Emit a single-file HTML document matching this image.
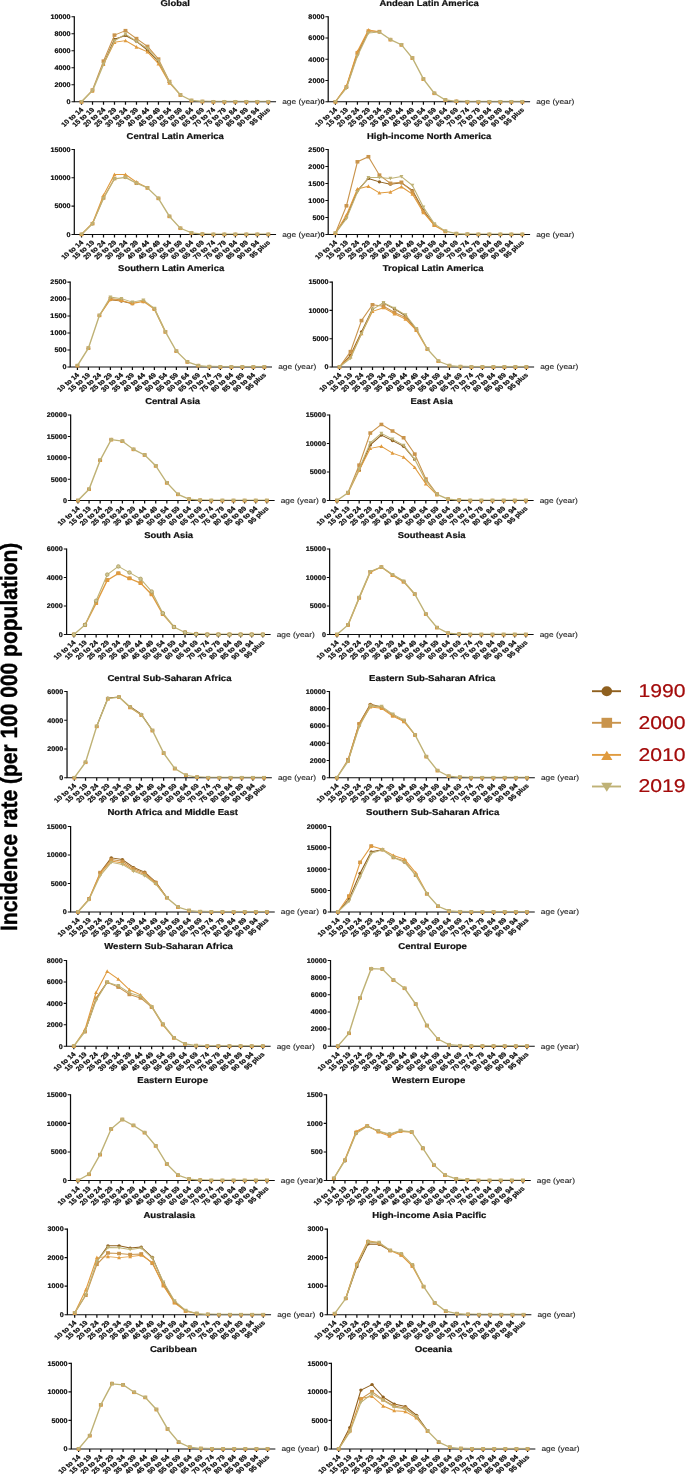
<!DOCTYPE html>
<html><head><meta charset="utf-8"><title>Incidence rate</title>
<style>html,body{margin:0;padding:0;background:#fff}svg{display:block;will-change:transform}text{font-family:"Liberation Sans",sans-serif;text-rendering:geometricPrecision}.b{font-weight:bold;stroke:#0d0d0d;stroke-width:.2px}</style></head><body>
<svg width="685" height="1474" viewBox="0 0 685 1474">
<g transform="translate(74.3 101.75) scale(1.17 1)">
<path d="M0 -85.53V0.53M-0.53 0H172.44" stroke="#0d0d0d" stroke-width="1.05" fill="none"/>
<text class="b" transform="translate(-3.2 2.35) scale(0.93 1)" font-size="6.65" text-anchor="end" fill="#0d0d0d">0</text>
<text class="b" transform="translate(-3.2 -14.65) scale(0.93 1)" font-size="6.65" text-anchor="end" fill="#0d0d0d">2000</text>
<text class="b" transform="translate(-3.2 -31.65) scale(0.93 1)" font-size="6.65" text-anchor="end" fill="#0d0d0d">4000</text>
<text class="b" transform="translate(-3.2 -48.65) scale(0.93 1)" font-size="6.65" text-anchor="end" fill="#0d0d0d">6000</text>
<text class="b" transform="translate(-3.2 -65.65) scale(0.93 1)" font-size="6.65" text-anchor="end" fill="#0d0d0d">8000</text>
<text class="b" transform="translate(-3.2 -82.65) scale(0.93 1)" font-size="6.65" text-anchor="end" fill="#0d0d0d">10000</text>
<text class="b" transform="translate(8.17 8.55) rotate(-45)" font-size="6.4" text-anchor="end" fill="#0d0d0d">10 to 14</text>
<text class="b" transform="translate(17.57 8.55) rotate(-45)" font-size="6.4" text-anchor="end" fill="#0d0d0d">15 to 19</text>
<text class="b" transform="translate(26.96 8.55) rotate(-45)" font-size="6.4" text-anchor="end" fill="#0d0d0d">20 to 24</text>
<text class="b" transform="translate(36.35 8.55) rotate(-45)" font-size="6.4" text-anchor="end" fill="#0d0d0d">25 to 29</text>
<text class="b" transform="translate(45.75 8.55) rotate(-45)" font-size="6.4" text-anchor="end" fill="#0d0d0d">30 to 34</text>
<text class="b" transform="translate(55.14 8.55) rotate(-45)" font-size="6.4" text-anchor="end" fill="#0d0d0d">35 to 39</text>
<text class="b" transform="translate(64.53 8.55) rotate(-45)" font-size="6.4" text-anchor="end" fill="#0d0d0d">40 to 44</text>
<text class="b" transform="translate(73.93 8.55) rotate(-45)" font-size="6.4" text-anchor="end" fill="#0d0d0d">45 to 49</text>
<text class="b" transform="translate(83.32 8.55) rotate(-45)" font-size="6.4" text-anchor="end" fill="#0d0d0d">50 to 54</text>
<text class="b" transform="translate(92.71 8.55) rotate(-45)" font-size="6.4" text-anchor="end" fill="#0d0d0d">55 to 59</text>
<text class="b" transform="translate(102.11 8.55) rotate(-45)" font-size="6.4" text-anchor="end" fill="#0d0d0d">60 to 64</text>
<text class="b" transform="translate(111.5 8.55) rotate(-45)" font-size="6.4" text-anchor="end" fill="#0d0d0d">65 to 69</text>
<text class="b" transform="translate(120.89 8.55) rotate(-45)" font-size="6.4" text-anchor="end" fill="#0d0d0d">70 to 74</text>
<text class="b" transform="translate(130.28 8.55) rotate(-45)" font-size="6.4" text-anchor="end" fill="#0d0d0d">75 to 79</text>
<text class="b" transform="translate(139.68 8.55) rotate(-45)" font-size="6.4" text-anchor="end" fill="#0d0d0d">80 to 84</text>
<text class="b" transform="translate(149.07 8.55) rotate(-45)" font-size="6.4" text-anchor="end" fill="#0d0d0d">85 to 89</text>
<text class="b" transform="translate(158.46 8.55) rotate(-45)" font-size="6.4" text-anchor="end" fill="#0d0d0d">90 to 94</text>
<text class="b" transform="translate(167.86 8.55) rotate(-45)" font-size="6.4" text-anchor="end" fill="#0d0d0d">95 plus</text>
<path d="M-2.4 0H0M-2.4 -17H0M-2.4 -34H0M-2.4 -51H0M-2.4 -68H0M-2.4 -85H0M6.17 0V3.1M15.57 0V3.1M24.96 0V3.1M34.35 0V3.1M43.75 0V3.1M53.14 0V3.1M62.53 0V3.1M71.93 0V3.1M81.32 0V3.1M90.71 0V3.1M100.11 0V3.1M109.5 0V3.1M118.89 0V3.1M128.28 0V3.1M137.68 0V3.1M147.07 0V3.1M156.46 0V3.1M165.86 0V3.1" stroke="#0d0d0d" stroke-width="1.05" fill="none"/>
<path fill="none" stroke="#8f601f" stroke-width="0.98" stroke-linejoin="round" stroke-linecap="round" d="M24.96 -37.83L34.35 -62.48L43.75 -66.22L53.14 -60.48L62.53 -51.68L71.93 -40.03L81.32 -19.55"/>
<ellipse cx="6.17" cy="-0" rx="1.45" ry="1.55" fill="#8f601f"/>
<ellipse cx="15.57" cy="-11.05" rx="1.45" ry="1.55" fill="#8f601f"/>
<ellipse cx="24.96" cy="-37.83" rx="1.45" ry="1.55" fill="#8f601f"/>
<ellipse cx="34.35" cy="-62.48" rx="1.45" ry="1.55" fill="#8f601f"/>
<ellipse cx="43.75" cy="-66.22" rx="1.45" ry="1.55" fill="#8f601f"/>
<ellipse cx="53.14" cy="-60.48" rx="1.45" ry="1.55" fill="#8f601f"/>
<ellipse cx="62.53" cy="-51.68" rx="1.45" ry="1.55" fill="#8f601f"/>
<ellipse cx="71.93" cy="-40.03" rx="1.45" ry="1.55" fill="#8f601f"/>
<ellipse cx="81.32" cy="-19.55" rx="1.45" ry="1.55" fill="#8f601f"/>
<ellipse cx="90.71" cy="-6.8" rx="1.45" ry="1.55" fill="#8f601f"/>
<ellipse cx="100.11" cy="-1.27" rx="1.45" ry="1.55" fill="#8f601f"/>
<ellipse cx="109.5" cy="-0.26" rx="1.45" ry="1.55" fill="#8f601f"/>
<ellipse cx="118.89" cy="-0" rx="1.45" ry="1.55" fill="#8f601f"/>
<ellipse cx="128.28" cy="-0" rx="1.45" ry="1.55" fill="#8f601f"/>
<ellipse cx="137.68" cy="-0" rx="1.45" ry="1.55" fill="#8f601f"/>
<ellipse cx="147.07" cy="-0" rx="1.45" ry="1.55" fill="#8f601f"/>
<ellipse cx="156.46" cy="-0" rx="1.45" ry="1.55" fill="#8f601f"/>
<ellipse cx="165.86" cy="-0" rx="1.45" ry="1.55" fill="#8f601f"/>
<path fill="none" stroke="#c9944c" stroke-width="0.98" stroke-linejoin="round" stroke-linecap="round" d="M6.17 -0L15.57 -11.73L24.96 -40.63L34.35 -66.64L43.75 -71.1L53.14 -63.16L62.53 -55.34L71.93 -42.67L81.32 -20.23"/>
<rect x="4.52" y="-1.75" width="3.3" height="3.5" fill="#c9944c"/>
<rect x="13.92" y="-13.48" width="3.3" height="3.5" fill="#c9944c"/>
<rect x="23.31" y="-42.38" width="3.3" height="3.5" fill="#c9944c"/>
<rect x="32.7" y="-68.39" width="3.3" height="3.5" fill="#c9944c"/>
<rect x="42.1" y="-72.85" width="3.3" height="3.5" fill="#c9944c"/>
<rect x="51.49" y="-64.91" width="3.3" height="3.5" fill="#c9944c"/>
<rect x="60.88" y="-57.09" width="3.3" height="3.5" fill="#c9944c"/>
<rect x="70.28" y="-44.42" width="3.3" height="3.5" fill="#c9944c"/>
<rect x="79.67" y="-21.98" width="3.3" height="3.5" fill="#c9944c"/>
<rect x="89.06" y="-8.55" width="3.3" height="3.5" fill="#c9944c"/>
<rect x="98.46" y="-3.02" width="3.3" height="3.5" fill="#c9944c"/>
<rect x="107.85" y="-2" width="3.3" height="3.5" fill="#c9944c"/>
<rect x="117.24" y="-1.75" width="3.3" height="3.5" fill="#c9944c"/>
<rect x="126.63" y="-1.75" width="3.3" height="3.5" fill="#c9944c"/>
<rect x="136.03" y="-1.75" width="3.3" height="3.5" fill="#c9944c"/>
<rect x="145.42" y="-1.75" width="3.3" height="3.5" fill="#c9944c"/>
<rect x="154.81" y="-1.75" width="3.3" height="3.5" fill="#c9944c"/>
<rect x="164.21" y="-1.75" width="3.3" height="3.5" fill="#c9944c"/>
<path fill="none" stroke="#e09b3f" stroke-width="0.98" stroke-linejoin="round" stroke-linecap="round" d="M24.96 -37.4L34.35 -59.5L43.75 -61.11L53.14 -54.74L62.53 -49.85L71.93 -37.99L81.32 -18.7L90.71 -6.8"/>
<path d="M4.52 1.65L7.82 1.65L6.17 -2Z" fill="#e09b3f"/>
<path d="M13.92 -8.97L17.22 -8.97L15.57 -12.62Z" fill="#e09b3f"/>
<path d="M23.31 -35.75L26.61 -35.75L24.96 -39.4Z" fill="#e09b3f"/>
<path d="M32.7 -57.85L36 -57.85L34.35 -61.5Z" fill="#e09b3f"/>
<path d="M42.1 -59.46L45.4 -59.46L43.75 -63.11Z" fill="#e09b3f"/>
<path d="M51.49 -53.09L54.79 -53.09L53.14 -56.74Z" fill="#e09b3f"/>
<path d="M60.88 -48.2L64.18 -48.2L62.53 -51.85Z" fill="#e09b3f"/>
<path d="M70.28 -36.34L73.58 -36.34L71.93 -39.99Z" fill="#e09b3f"/>
<path d="M79.67 -17.05L82.97 -17.05L81.32 -20.7Z" fill="#e09b3f"/>
<path d="M89.06 -5.15L92.36 -5.15L90.71 -8.8Z" fill="#e09b3f"/>
<path d="M98.46 0.38L101.76 0.38L100.11 -3.27Z" fill="#e09b3f"/>
<path d="M107.85 1.4L111.15 1.4L109.5 -2.25Z" fill="#e09b3f"/>
<path d="M117.24 1.65L120.54 1.65L118.89 -2Z" fill="#e09b3f"/>
<path d="M126.63 1.65L129.93 1.65L128.28 -2Z" fill="#e09b3f"/>
<path d="M136.03 1.65L139.33 1.65L137.68 -2Z" fill="#e09b3f"/>
<path d="M145.42 1.65L148.72 1.65L147.07 -2Z" fill="#e09b3f"/>
<path d="M154.81 1.65L158.11 1.65L156.46 -2Z" fill="#e09b3f"/>
<path d="M164.21 1.65L167.51 1.65L165.86 -2Z" fill="#e09b3f"/>
<path fill="none" stroke="#bfb276" stroke-width="0.75" stroke-linejoin="round" stroke-linecap="round" d="M109.5 -0.76L118.89 -0.5L128.28 -0.5L137.68 -0.5L147.07 -0.5L156.46 -0.5L165.86 -0.5"/>
<path fill="none" stroke="#bfb276" stroke-width="0.98" stroke-linejoin="round" stroke-linecap="round" d="M24.96 -37.57L34.35 -60.86L43.75 -67.58L53.14 -60.35L62.53 -53.3L71.93 -41.05L81.32 -19.8"/>
<path fill="none" stroke="#bfb276" stroke-width="1.25" stroke-linejoin="round" stroke-linecap="round" d="M6.17 -0L15.57 -11.05L24.96 -37.57M81.32 -19.8L90.71 -6.8L100.11 -1.27L109.5 -0.26"/>
<path d="M4.52 -1.65L7.82 -1.65L6.17 2Z" fill="#bfb276"/>
<path d="M13.92 -12.7L17.22 -12.7L15.57 -9.05Z" fill="#bfb276"/>
<path d="M23.31 -39.22L26.61 -39.22L24.96 -35.57Z" fill="#bfb276"/>
<path d="M32.7 -62.51L36 -62.51L34.35 -58.86Z" fill="#bfb276"/>
<path d="M42.1 -69.23L45.4 -69.23L43.75 -65.58Z" fill="#bfb276"/>
<path d="M51.49 -62L54.79 -62L53.14 -58.35Z" fill="#bfb276"/>
<path d="M60.88 -54.95L64.18 -54.95L62.53 -51.3Z" fill="#bfb276"/>
<path d="M70.28 -42.7L73.58 -42.7L71.93 -39.05Z" fill="#bfb276"/>
<path d="M79.67 -21.45L82.97 -21.45L81.32 -17.8Z" fill="#bfb276"/>
<path d="M89.06 -8.45L92.36 -8.45L90.71 -4.8Z" fill="#bfb276"/>
<path d="M98.46 -2.92L101.76 -2.92L100.11 0.73Z" fill="#bfb276"/>
<path d="M107.85 -1.9L111.15 -1.9L109.5 1.75Z" fill="#bfb276"/>
<path d="M117.24 -1.65L120.54 -1.65L118.89 2Z" fill="#bfb276"/>
<path d="M126.63 -1.65L129.93 -1.65L128.28 2Z" fill="#bfb276"/>
<path d="M136.03 -1.65L139.33 -1.65L137.68 2Z" fill="#bfb276"/>
<path d="M145.42 -1.65L148.72 -1.65L147.07 2Z" fill="#bfb276"/>
<path d="M154.81 -1.65L158.11 -1.65L156.46 2Z" fill="#bfb276"/>
<path d="M164.21 -1.65L167.51 -1.65L165.86 2Z" fill="#bfb276"/>
<text class="b" transform="translate(86.22 -95.7) scale(0.952 1)" font-size="8.48" text-anchor="middle" fill="#111">Global</text>
<text x="177.66" y="2.4" font-size="7.15" fill="#1f1f1f" stroke="#1f1f1f" stroke-width="0.12">age (year)</text>
</g>
<g transform="translate(328.2 101.75) scale(1.17 1)">
<path d="M0 -85.53V0.53M-0.53 0H172.56" stroke="#0d0d0d" stroke-width="1.05" fill="none"/>
<text class="b" transform="translate(-3.2 2.35) scale(0.93 1)" font-size="6.65" text-anchor="end" fill="#0d0d0d">0</text>
<text class="b" transform="translate(-3.2 -18.9) scale(0.93 1)" font-size="6.65" text-anchor="end" fill="#0d0d0d">2000</text>
<text class="b" transform="translate(-3.2 -40.15) scale(0.93 1)" font-size="6.65" text-anchor="end" fill="#0d0d0d">4000</text>
<text class="b" transform="translate(-3.2 -61.4) scale(0.93 1)" font-size="6.65" text-anchor="end" fill="#0d0d0d">6000</text>
<text class="b" transform="translate(-3.2 -82.65) scale(0.93 1)" font-size="6.65" text-anchor="end" fill="#0d0d0d">8000</text>
<text class="b" transform="translate(8.18 8.55) rotate(-45)" font-size="6.4" text-anchor="end" fill="#0d0d0d">10 to 14</text>
<text class="b" transform="translate(17.58 8.55) rotate(-45)" font-size="6.4" text-anchor="end" fill="#0d0d0d">15 to 19</text>
<text class="b" transform="translate(26.98 8.55) rotate(-45)" font-size="6.4" text-anchor="end" fill="#0d0d0d">20 to 24</text>
<text class="b" transform="translate(36.38 8.55) rotate(-45)" font-size="6.4" text-anchor="end" fill="#0d0d0d">25 to 29</text>
<text class="b" transform="translate(45.78 8.55) rotate(-45)" font-size="6.4" text-anchor="end" fill="#0d0d0d">30 to 34</text>
<text class="b" transform="translate(55.18 8.55) rotate(-45)" font-size="6.4" text-anchor="end" fill="#0d0d0d">35 to 39</text>
<text class="b" transform="translate(64.58 8.55) rotate(-45)" font-size="6.4" text-anchor="end" fill="#0d0d0d">40 to 44</text>
<text class="b" transform="translate(73.98 8.55) rotate(-45)" font-size="6.4" text-anchor="end" fill="#0d0d0d">45 to 49</text>
<text class="b" transform="translate(83.38 8.55) rotate(-45)" font-size="6.4" text-anchor="end" fill="#0d0d0d">50 to 54</text>
<text class="b" transform="translate(92.77 8.55) rotate(-45)" font-size="6.4" text-anchor="end" fill="#0d0d0d">55 to 59</text>
<text class="b" transform="translate(102.17 8.55) rotate(-45)" font-size="6.4" text-anchor="end" fill="#0d0d0d">60 to 64</text>
<text class="b" transform="translate(111.57 8.55) rotate(-45)" font-size="6.4" text-anchor="end" fill="#0d0d0d">65 to 69</text>
<text class="b" transform="translate(120.97 8.55) rotate(-45)" font-size="6.4" text-anchor="end" fill="#0d0d0d">70 to 74</text>
<text class="b" transform="translate(130.37 8.55) rotate(-45)" font-size="6.4" text-anchor="end" fill="#0d0d0d">75 to 79</text>
<text class="b" transform="translate(139.77 8.55) rotate(-45)" font-size="6.4" text-anchor="end" fill="#0d0d0d">80 to 84</text>
<text class="b" transform="translate(149.17 8.55) rotate(-45)" font-size="6.4" text-anchor="end" fill="#0d0d0d">85 to 89</text>
<text class="b" transform="translate(158.57 8.55) rotate(-45)" font-size="6.4" text-anchor="end" fill="#0d0d0d">90 to 94</text>
<text class="b" transform="translate(167.97 8.55) rotate(-45)" font-size="6.4" text-anchor="end" fill="#0d0d0d">95 plus</text>
<path d="M-2.4 0H0M-2.4 -21.25H0M-2.4 -42.5H0M-2.4 -63.75H0M-2.4 -85H0M6.18 0V3.1M15.58 0V3.1M24.98 0V3.1M34.38 0V3.1M43.78 0V3.1M53.18 0V3.1M62.58 0V3.1M71.98 0V3.1M81.38 0V3.1M90.77 0V3.1M100.17 0V3.1M109.57 0V3.1M118.97 0V3.1M128.37 0V3.1M137.77 0V3.1M147.17 0V3.1M156.57 0V3.1M165.97 0V3.1" stroke="#0d0d0d" stroke-width="1.05" fill="none"/>
<path fill="none" stroke="#8f601f" stroke-width="0.98" stroke-linejoin="round" stroke-linecap="round" d="M15.58 -14.34L24.98 -47.81L34.38 -70.12"/>
<ellipse cx="6.18" cy="-0" rx="1.45" ry="1.55" fill="#8f601f"/>
<ellipse cx="15.58" cy="-14.34" rx="1.45" ry="1.55" fill="#8f601f"/>
<ellipse cx="24.98" cy="-47.81" rx="1.45" ry="1.55" fill="#8f601f"/>
<ellipse cx="34.38" cy="-70.12" rx="1.45" ry="1.55" fill="#8f601f"/>
<ellipse cx="43.78" cy="-69.7" rx="1.45" ry="1.55" fill="#8f601f"/>
<ellipse cx="53.18" cy="-62.16" rx="1.45" ry="1.55" fill="#8f601f"/>
<ellipse cx="62.58" cy="-57" rx="1.45" ry="1.55" fill="#8f601f"/>
<ellipse cx="71.98" cy="-43.72" rx="1.45" ry="1.55" fill="#8f601f"/>
<ellipse cx="81.38" cy="-22.68" rx="1.45" ry="1.55" fill="#8f601f"/>
<ellipse cx="90.77" cy="-8.39" rx="1.45" ry="1.55" fill="#8f601f"/>
<ellipse cx="100.17" cy="-1.81" rx="1.45" ry="1.55" fill="#8f601f"/>
<ellipse cx="109.57" cy="-0.42" rx="1.45" ry="1.55" fill="#8f601f"/>
<ellipse cx="118.97" cy="-0" rx="1.45" ry="1.55" fill="#8f601f"/>
<ellipse cx="128.37" cy="-0" rx="1.45" ry="1.55" fill="#8f601f"/>
<ellipse cx="137.77" cy="-0" rx="1.45" ry="1.55" fill="#8f601f"/>
<ellipse cx="147.17" cy="-0" rx="1.45" ry="1.55" fill="#8f601f"/>
<ellipse cx="156.57" cy="-0" rx="1.45" ry="1.55" fill="#8f601f"/>
<ellipse cx="165.97" cy="-0" rx="1.45" ry="1.55" fill="#8f601f"/>
<path fill="none" stroke="#c9944c" stroke-width="0.98" stroke-linejoin="round" stroke-linecap="round" d="M6.18 -0L15.58 -14.87L24.98 -48.87L34.38 -70.66L43.78 -70.12"/>
<rect x="4.53" y="-1.75" width="3.3" height="3.5" fill="#c9944c"/>
<rect x="13.93" y="-16.62" width="3.3" height="3.5" fill="#c9944c"/>
<rect x="23.33" y="-50.62" width="3.3" height="3.5" fill="#c9944c"/>
<rect x="32.73" y="-72.41" width="3.3" height="3.5" fill="#c9944c"/>
<rect x="42.13" y="-71.88" width="3.3" height="3.5" fill="#c9944c"/>
<rect x="51.53" y="-63.91" width="3.3" height="3.5" fill="#c9944c"/>
<rect x="60.93" y="-58.75" width="3.3" height="3.5" fill="#c9944c"/>
<rect x="70.33" y="-45.47" width="3.3" height="3.5" fill="#c9944c"/>
<rect x="79.73" y="-24.43" width="3.3" height="3.5" fill="#c9944c"/>
<rect x="89.12" y="-10.14" width="3.3" height="3.5" fill="#c9944c"/>
<rect x="98.52" y="-3.56" width="3.3" height="3.5" fill="#c9944c"/>
<rect x="107.92" y="-2.17" width="3.3" height="3.5" fill="#c9944c"/>
<rect x="117.32" y="-1.75" width="3.3" height="3.5" fill="#c9944c"/>
<rect x="126.72" y="-1.75" width="3.3" height="3.5" fill="#c9944c"/>
<rect x="136.12" y="-1.75" width="3.3" height="3.5" fill="#c9944c"/>
<rect x="145.52" y="-1.75" width="3.3" height="3.5" fill="#c9944c"/>
<rect x="154.92" y="-1.75" width="3.3" height="3.5" fill="#c9944c"/>
<rect x="164.32" y="-1.75" width="3.3" height="3.5" fill="#c9944c"/>
<path fill="none" stroke="#e09b3f" stroke-width="0.98" stroke-linejoin="round" stroke-linecap="round" d="M6.18 -0L15.58 -15.51L24.98 -50.26L34.38 -71.72L43.78 -70.12"/>
<path d="M4.53 1.65L7.83 1.65L6.18 -2Z" fill="#e09b3f"/>
<path d="M13.93 -13.86L17.23 -13.86L15.58 -17.51Z" fill="#e09b3f"/>
<path d="M23.33 -48.61L26.63 -48.61L24.98 -52.26Z" fill="#e09b3f"/>
<path d="M32.73 -70.07L36.03 -70.07L34.38 -73.72Z" fill="#e09b3f"/>
<path d="M42.13 -68.47L45.43 -68.47L43.78 -72.12Z" fill="#e09b3f"/>
<path d="M51.53 -60.51L54.83 -60.51L53.18 -64.16Z" fill="#e09b3f"/>
<path d="M60.93 -55.35L64.23 -55.35L62.58 -59Z" fill="#e09b3f"/>
<path d="M70.33 -42.07L73.63 -42.07L71.98 -45.72Z" fill="#e09b3f"/>
<path d="M79.73 -21.03L83.03 -21.03L81.38 -24.68Z" fill="#e09b3f"/>
<path d="M89.12 -6.74L92.42 -6.74L90.77 -10.39Z" fill="#e09b3f"/>
<path d="M98.52 -0.16L101.82 -0.16L100.17 -3.81Z" fill="#e09b3f"/>
<path d="M107.92 1.22L111.22 1.22L109.57 -2.42Z" fill="#e09b3f"/>
<path d="M117.32 1.65L120.62 1.65L118.97 -2Z" fill="#e09b3f"/>
<path d="M126.72 1.65L130.02 1.65L128.37 -2Z" fill="#e09b3f"/>
<path d="M136.12 1.65L139.42 1.65L137.77 -2Z" fill="#e09b3f"/>
<path d="M145.52 1.65L148.82 1.65L147.17 -2Z" fill="#e09b3f"/>
<path d="M154.92 1.65L158.22 1.65L156.57 -2Z" fill="#e09b3f"/>
<path d="M164.32 1.65L167.62 1.65L165.97 -2Z" fill="#e09b3f"/>
<path fill="none" stroke="#bfb276" stroke-width="0.75" stroke-linejoin="round" stroke-linecap="round" d="M109.57 -0.93L118.97 -0.5L128.37 -0.5L137.77 -0.5L147.17 -0.5L156.57 -0.5L165.97 -0.5"/>
<path fill="none" stroke="#bfb276" stroke-width="0.98" stroke-linejoin="round" stroke-linecap="round" d="M6.18 -0L15.58 -13.49L24.98 -45.69L34.38 -68.64L43.78 -69.7"/>
<path fill="none" stroke="#bfb276" stroke-width="1.25" stroke-linejoin="round" stroke-linecap="round" d="M43.78 -69.7L53.18 -62.16L62.58 -57L71.98 -43.72L81.38 -22.68L90.77 -8.39L100.17 -1.81L109.57 -0.42"/>
<path d="M4.53 -1.65L7.83 -1.65L6.18 2Z" fill="#bfb276"/>
<path d="M13.93 -15.14L17.23 -15.14L15.58 -11.49Z" fill="#bfb276"/>
<path d="M23.33 -47.34L26.63 -47.34L24.98 -43.69Z" fill="#bfb276"/>
<path d="M32.73 -70.29L36.03 -70.29L34.38 -66.64Z" fill="#bfb276"/>
<path d="M42.13 -71.35L45.43 -71.35L43.78 -67.7Z" fill="#bfb276"/>
<path d="M51.53 -63.81L54.83 -63.81L53.18 -60.16Z" fill="#bfb276"/>
<path d="M60.93 -58.65L64.23 -58.65L62.58 -55Z" fill="#bfb276"/>
<path d="M70.33 -45.37L73.63 -45.37L71.98 -41.72Z" fill="#bfb276"/>
<path d="M79.73 -24.33L83.03 -24.33L81.38 -20.68Z" fill="#bfb276"/>
<path d="M89.12 -10.04L92.42 -10.04L90.77 -6.39Z" fill="#bfb276"/>
<path d="M98.52 -3.46L101.82 -3.46L100.17 0.19Z" fill="#bfb276"/>
<path d="M107.92 -2.07L111.22 -2.07L109.57 1.57Z" fill="#bfb276"/>
<path d="M117.32 -1.65L120.62 -1.65L118.97 2Z" fill="#bfb276"/>
<path d="M126.72 -1.65L130.02 -1.65L128.37 2Z" fill="#bfb276"/>
<path d="M136.12 -1.65L139.42 -1.65L137.77 2Z" fill="#bfb276"/>
<path d="M145.52 -1.65L148.82 -1.65L147.17 2Z" fill="#bfb276"/>
<path d="M154.92 -1.65L158.22 -1.65L156.57 2Z" fill="#bfb276"/>
<path d="M164.32 -1.65L167.62 -1.65L165.97 2Z" fill="#bfb276"/>
<text class="b" transform="translate(86.28 -95.7) scale(0.952 1)" font-size="8.48" text-anchor="middle" fill="#111">Andean Latin America</text>
<text x="177.78" y="2.4" font-size="7.15" fill="#1f1f1f" stroke="#1f1f1f" stroke-width="0.12">age (year)</text>
</g>
<g transform="translate(74.3 234.4) scale(1.17 1)">
<path d="M0 -85.38V0.53M-0.53 0H172.44" stroke="#0d0d0d" stroke-width="1.05" fill="none"/>
<text class="b" transform="translate(-3.2 2.35) scale(0.93 1)" font-size="6.65" text-anchor="end" fill="#0d0d0d">0</text>
<text class="b" transform="translate(-3.2 -25.93) scale(0.93 1)" font-size="6.65" text-anchor="end" fill="#0d0d0d">5000</text>
<text class="b" transform="translate(-3.2 -54.22) scale(0.93 1)" font-size="6.65" text-anchor="end" fill="#0d0d0d">10000</text>
<text class="b" transform="translate(-3.2 -82.5) scale(0.93 1)" font-size="6.65" text-anchor="end" fill="#0d0d0d">15000</text>
<text class="b" transform="translate(8.17 8.55) rotate(-45)" font-size="6.4" text-anchor="end" fill="#0d0d0d">10 to 14</text>
<text class="b" transform="translate(17.57 8.55) rotate(-45)" font-size="6.4" text-anchor="end" fill="#0d0d0d">15 to 19</text>
<text class="b" transform="translate(26.96 8.55) rotate(-45)" font-size="6.4" text-anchor="end" fill="#0d0d0d">20 to 24</text>
<text class="b" transform="translate(36.35 8.55) rotate(-45)" font-size="6.4" text-anchor="end" fill="#0d0d0d">25 to 29</text>
<text class="b" transform="translate(45.75 8.55) rotate(-45)" font-size="6.4" text-anchor="end" fill="#0d0d0d">30 to 34</text>
<text class="b" transform="translate(55.14 8.55) rotate(-45)" font-size="6.4" text-anchor="end" fill="#0d0d0d">35 to 39</text>
<text class="b" transform="translate(64.53 8.55) rotate(-45)" font-size="6.4" text-anchor="end" fill="#0d0d0d">40 to 44</text>
<text class="b" transform="translate(73.93 8.55) rotate(-45)" font-size="6.4" text-anchor="end" fill="#0d0d0d">45 to 49</text>
<text class="b" transform="translate(83.32 8.55) rotate(-45)" font-size="6.4" text-anchor="end" fill="#0d0d0d">50 to 54</text>
<text class="b" transform="translate(92.71 8.55) rotate(-45)" font-size="6.4" text-anchor="end" fill="#0d0d0d">55 to 59</text>
<text class="b" transform="translate(102.11 8.55) rotate(-45)" font-size="6.4" text-anchor="end" fill="#0d0d0d">60 to 64</text>
<text class="b" transform="translate(111.5 8.55) rotate(-45)" font-size="6.4" text-anchor="end" fill="#0d0d0d">65 to 69</text>
<text class="b" transform="translate(120.89 8.55) rotate(-45)" font-size="6.4" text-anchor="end" fill="#0d0d0d">70 to 74</text>
<text class="b" transform="translate(130.28 8.55) rotate(-45)" font-size="6.4" text-anchor="end" fill="#0d0d0d">75 to 79</text>
<text class="b" transform="translate(139.68 8.55) rotate(-45)" font-size="6.4" text-anchor="end" fill="#0d0d0d">80 to 84</text>
<text class="b" transform="translate(149.07 8.55) rotate(-45)" font-size="6.4" text-anchor="end" fill="#0d0d0d">85 to 89</text>
<text class="b" transform="translate(158.46 8.55) rotate(-45)" font-size="6.4" text-anchor="end" fill="#0d0d0d">90 to 94</text>
<text class="b" transform="translate(167.86 8.55) rotate(-45)" font-size="6.4" text-anchor="end" fill="#0d0d0d">95 plus</text>
<path d="M-2.4 0H0M-2.4 -28.28H0M-2.4 -56.57H0M-2.4 -84.85H0M6.17 0V3.1M15.57 0V3.1M24.96 0V3.1M34.35 0V3.1M43.75 0V3.1M53.14 0V3.1M62.53 0V3.1M71.93 0V3.1M81.32 0V3.1M90.71 0V3.1M100.11 0V3.1M109.5 0V3.1M118.89 0V3.1M128.28 0V3.1M137.68 0V3.1M147.07 0V3.1M156.46 0V3.1M165.86 0V3.1" stroke="#0d0d0d" stroke-width="1.05" fill="none"/>
<ellipse cx="6.17" cy="-0" rx="1.45" ry="1.55" fill="#8f601f"/>
<ellipse cx="15.57" cy="-10.75" rx="1.45" ry="1.55" fill="#8f601f"/>
<ellipse cx="24.96" cy="-36.49" rx="1.45" ry="1.55" fill="#8f601f"/>
<ellipse cx="34.35" cy="-56" rx="1.45" ry="1.55" fill="#8f601f"/>
<ellipse cx="43.75" cy="-57.42" rx="1.45" ry="1.55" fill="#8f601f"/>
<ellipse cx="53.14" cy="-51.36" rx="1.45" ry="1.55" fill="#8f601f"/>
<ellipse cx="62.53" cy="-46.61" rx="1.45" ry="1.55" fill="#8f601f"/>
<ellipse cx="71.93" cy="-35.98" rx="1.45" ry="1.55" fill="#8f601f"/>
<ellipse cx="81.32" cy="-17.99" rx="1.45" ry="1.55" fill="#8f601f"/>
<ellipse cx="90.71" cy="-6.11" rx="1.45" ry="1.55" fill="#8f601f"/>
<ellipse cx="100.11" cy="-1.64" rx="1.45" ry="1.55" fill="#8f601f"/>
<ellipse cx="109.5" cy="-0.28" rx="1.45" ry="1.55" fill="#8f601f"/>
<ellipse cx="118.89" cy="-0" rx="1.45" ry="1.55" fill="#8f601f"/>
<ellipse cx="128.28" cy="-0" rx="1.45" ry="1.55" fill="#8f601f"/>
<ellipse cx="137.68" cy="-0" rx="1.45" ry="1.55" fill="#8f601f"/>
<ellipse cx="147.07" cy="-0" rx="1.45" ry="1.55" fill="#8f601f"/>
<ellipse cx="156.46" cy="-0" rx="1.45" ry="1.55" fill="#8f601f"/>
<ellipse cx="165.86" cy="-0" rx="1.45" ry="1.55" fill="#8f601f"/>
<path fill="none" stroke="#c9944c" stroke-width="0.98" stroke-linejoin="round" stroke-linecap="round" d="M15.57 -10.75L24.96 -36.49L34.35 -55.83"/>
<rect x="4.52" y="-1.75" width="3.3" height="3.5" fill="#c9944c"/>
<rect x="13.92" y="-12.5" width="3.3" height="3.5" fill="#c9944c"/>
<rect x="23.31" y="-38.24" width="3.3" height="3.5" fill="#c9944c"/>
<rect x="32.7" y="-57.58" width="3.3" height="3.5" fill="#c9944c"/>
<rect x="42.1" y="-59" width="3.3" height="3.5" fill="#c9944c"/>
<rect x="51.49" y="-52.89" width="3.3" height="3.5" fill="#c9944c"/>
<rect x="60.88" y="-48.36" width="3.3" height="3.5" fill="#c9944c"/>
<rect x="70.28" y="-37.73" width="3.3" height="3.5" fill="#c9944c"/>
<rect x="79.67" y="-19.74" width="3.3" height="3.5" fill="#c9944c"/>
<rect x="89.06" y="-7.86" width="3.3" height="3.5" fill="#c9944c"/>
<rect x="98.46" y="-3.39" width="3.3" height="3.5" fill="#c9944c"/>
<rect x="107.85" y="-2.03" width="3.3" height="3.5" fill="#c9944c"/>
<rect x="117.24" y="-1.75" width="3.3" height="3.5" fill="#c9944c"/>
<rect x="126.63" y="-1.75" width="3.3" height="3.5" fill="#c9944c"/>
<rect x="136.03" y="-1.75" width="3.3" height="3.5" fill="#c9944c"/>
<rect x="145.42" y="-1.75" width="3.3" height="3.5" fill="#c9944c"/>
<rect x="154.81" y="-1.75" width="3.3" height="3.5" fill="#c9944c"/>
<rect x="164.21" y="-1.75" width="3.3" height="3.5" fill="#c9944c"/>
<path fill="none" stroke="#e09b3f" stroke-width="0.98" stroke-linejoin="round" stroke-linecap="round" d="M15.57 -11.31L24.96 -39.26L34.35 -59.9L43.75 -59.9L53.14 -52.32L62.53 -46.61"/>
<path fill="none" stroke="#e09b3f" stroke-width="1.25" stroke-linejoin="round" stroke-linecap="round" d="M6.17 -0L15.57 -11.31"/>
<path d="M4.52 1.65L7.82 1.65L6.17 -2Z" fill="#e09b3f"/>
<path d="M13.92 -9.66L17.22 -9.66L15.57 -13.31Z" fill="#e09b3f"/>
<path d="M23.31 -37.61L26.61 -37.61L24.96 -41.26Z" fill="#e09b3f"/>
<path d="M32.7 -58.25L36 -58.25L34.35 -61.9Z" fill="#e09b3f"/>
<path d="M42.1 -58.25L45.4 -58.25L43.75 -61.9Z" fill="#e09b3f"/>
<path d="M51.49 -50.67L54.79 -50.67L53.14 -54.32Z" fill="#e09b3f"/>
<path d="M60.88 -44.96L64.18 -44.96L62.53 -48.61Z" fill="#e09b3f"/>
<path d="M70.28 -34.33L73.58 -34.33L71.93 -37.98Z" fill="#e09b3f"/>
<path d="M79.67 -16.34L82.97 -16.34L81.32 -19.99Z" fill="#e09b3f"/>
<path d="M89.06 -4.46L92.36 -4.46L90.71 -8.11Z" fill="#e09b3f"/>
<path d="M98.46 0.01L101.76 0.01L100.11 -3.64Z" fill="#e09b3f"/>
<path d="M107.85 1.37L111.15 1.37L109.5 -2.28Z" fill="#e09b3f"/>
<path d="M117.24 1.65L120.54 1.65L118.89 -2Z" fill="#e09b3f"/>
<path d="M126.63 1.65L129.93 1.65L128.28 -2Z" fill="#e09b3f"/>
<path d="M136.03 1.65L139.33 1.65L137.68 -2Z" fill="#e09b3f"/>
<path d="M145.42 1.65L148.72 1.65L147.07 -2Z" fill="#e09b3f"/>
<path d="M154.81 1.65L158.11 1.65L156.46 -2Z" fill="#e09b3f"/>
<path d="M164.21 1.65L167.51 1.65L165.86 -2Z" fill="#e09b3f"/>
<path fill="none" stroke="#bfb276" stroke-width="0.75" stroke-linejoin="round" stroke-linecap="round" d="M109.5 -0.78L118.89 -0.5L128.28 -0.5L137.68 -0.5L147.07 -0.5L156.46 -0.5L165.86 -0.5"/>
<path fill="none" stroke="#bfb276" stroke-width="0.98" stroke-linejoin="round" stroke-linecap="round" d="M15.57 -10.46L24.96 -35.92L34.35 -55.44"/>
<path fill="none" stroke="#bfb276" stroke-width="1.25" stroke-linejoin="round" stroke-linecap="round" d="M6.17 -0L15.57 -10.46M34.35 -55.44L43.75 -57.02L53.14 -51.14L62.53 -46.61L71.93 -35.98L81.32 -17.99L90.71 -6.11L100.11 -1.64L109.5 -0.28"/>
<path d="M4.52 -1.65L7.82 -1.65L6.17 2Z" fill="#bfb276"/>
<path d="M13.92 -12.11L17.22 -12.11L15.57 -8.46Z" fill="#bfb276"/>
<path d="M23.31 -37.57L26.61 -37.57L24.96 -33.92Z" fill="#bfb276"/>
<path d="M32.7 -57.09L36 -57.09L34.35 -53.44Z" fill="#bfb276"/>
<path d="M42.1 -58.67L45.4 -58.67L43.75 -55.02Z" fill="#bfb276"/>
<path d="M51.49 -52.79L54.79 -52.79L53.14 -49.14Z" fill="#bfb276"/>
<path d="M60.88 -48.26L64.18 -48.26L62.53 -44.61Z" fill="#bfb276"/>
<path d="M70.28 -37.63L73.58 -37.63L71.93 -33.98Z" fill="#bfb276"/>
<path d="M79.67 -19.64L82.97 -19.64L81.32 -15.99Z" fill="#bfb276"/>
<path d="M89.06 -7.76L92.36 -7.76L90.71 -4.11Z" fill="#bfb276"/>
<path d="M98.46 -3.29L101.76 -3.29L100.11 0.36Z" fill="#bfb276"/>
<path d="M107.85 -1.93L111.15 -1.93L109.5 1.72Z" fill="#bfb276"/>
<path d="M117.24 -1.65L120.54 -1.65L118.89 2Z" fill="#bfb276"/>
<path d="M126.63 -1.65L129.93 -1.65L128.28 2Z" fill="#bfb276"/>
<path d="M136.03 -1.65L139.33 -1.65L137.68 2Z" fill="#bfb276"/>
<path d="M145.42 -1.65L148.72 -1.65L147.07 2Z" fill="#bfb276"/>
<path d="M154.81 -1.65L158.11 -1.65L156.46 2Z" fill="#bfb276"/>
<path d="M164.21 -1.65L167.51 -1.65L165.86 2Z" fill="#bfb276"/>
<text class="b" transform="translate(86.22 -95.55) scale(0.952 1)" font-size="8.48" text-anchor="middle" fill="#111">Central Latin America</text>
<text x="177.66" y="2.4" font-size="7.15" fill="#1f1f1f" stroke="#1f1f1f" stroke-width="0.12">age (year)</text>
</g>
<g transform="translate(328.2 234.4) scale(1.17 1)">
<path d="M0 -85.38V0.53M-0.53 0H172.56" stroke="#0d0d0d" stroke-width="1.05" fill="none"/>
<text class="b" transform="translate(-3.2 2.35) scale(0.93 1)" font-size="6.65" text-anchor="end" fill="#0d0d0d">0</text>
<text class="b" transform="translate(-3.2 -14.62) scale(0.93 1)" font-size="6.65" text-anchor="end" fill="#0d0d0d">500</text>
<text class="b" transform="translate(-3.2 -31.59) scale(0.93 1)" font-size="6.65" text-anchor="end" fill="#0d0d0d">1000</text>
<text class="b" transform="translate(-3.2 -48.56) scale(0.93 1)" font-size="6.65" text-anchor="end" fill="#0d0d0d">1500</text>
<text class="b" transform="translate(-3.2 -65.53) scale(0.93 1)" font-size="6.65" text-anchor="end" fill="#0d0d0d">2000</text>
<text class="b" transform="translate(-3.2 -82.5) scale(0.93 1)" font-size="6.65" text-anchor="end" fill="#0d0d0d">2500</text>
<text class="b" transform="translate(8.18 8.55) rotate(-45)" font-size="6.4" text-anchor="end" fill="#0d0d0d">10 to 14</text>
<text class="b" transform="translate(17.58 8.55) rotate(-45)" font-size="6.4" text-anchor="end" fill="#0d0d0d">15 to 19</text>
<text class="b" transform="translate(26.98 8.55) rotate(-45)" font-size="6.4" text-anchor="end" fill="#0d0d0d">20 to 24</text>
<text class="b" transform="translate(36.38 8.55) rotate(-45)" font-size="6.4" text-anchor="end" fill="#0d0d0d">25 to 29</text>
<text class="b" transform="translate(45.78 8.55) rotate(-45)" font-size="6.4" text-anchor="end" fill="#0d0d0d">30 to 34</text>
<text class="b" transform="translate(55.18 8.55) rotate(-45)" font-size="6.4" text-anchor="end" fill="#0d0d0d">35 to 39</text>
<text class="b" transform="translate(64.58 8.55) rotate(-45)" font-size="6.4" text-anchor="end" fill="#0d0d0d">40 to 44</text>
<text class="b" transform="translate(73.98 8.55) rotate(-45)" font-size="6.4" text-anchor="end" fill="#0d0d0d">45 to 49</text>
<text class="b" transform="translate(83.38 8.55) rotate(-45)" font-size="6.4" text-anchor="end" fill="#0d0d0d">50 to 54</text>
<text class="b" transform="translate(92.77 8.55) rotate(-45)" font-size="6.4" text-anchor="end" fill="#0d0d0d">55 to 59</text>
<text class="b" transform="translate(102.17 8.55) rotate(-45)" font-size="6.4" text-anchor="end" fill="#0d0d0d">60 to 64</text>
<text class="b" transform="translate(111.57 8.55) rotate(-45)" font-size="6.4" text-anchor="end" fill="#0d0d0d">65 to 69</text>
<text class="b" transform="translate(120.97 8.55) rotate(-45)" font-size="6.4" text-anchor="end" fill="#0d0d0d">70 to 74</text>
<text class="b" transform="translate(130.37 8.55) rotate(-45)" font-size="6.4" text-anchor="end" fill="#0d0d0d">75 to 79</text>
<text class="b" transform="translate(139.77 8.55) rotate(-45)" font-size="6.4" text-anchor="end" fill="#0d0d0d">80 to 84</text>
<text class="b" transform="translate(149.17 8.55) rotate(-45)" font-size="6.4" text-anchor="end" fill="#0d0d0d">85 to 89</text>
<text class="b" transform="translate(158.57 8.55) rotate(-45)" font-size="6.4" text-anchor="end" fill="#0d0d0d">90 to 94</text>
<text class="b" transform="translate(167.97 8.55) rotate(-45)" font-size="6.4" text-anchor="end" fill="#0d0d0d">95 plus</text>
<path d="M-2.4 0H0M-2.4 -16.97H0M-2.4 -33.94H0M-2.4 -50.91H0M-2.4 -67.88H0M-2.4 -84.85H0M6.18 0V3.1M15.58 0V3.1M24.98 0V3.1M34.38 0V3.1M43.78 0V3.1M53.18 0V3.1M62.58 0V3.1M71.98 0V3.1M81.38 0V3.1M90.77 0V3.1M100.17 0V3.1M109.57 0V3.1M118.97 0V3.1M128.37 0V3.1M137.77 0V3.1M147.17 0V3.1M156.57 0V3.1M165.97 0V3.1" stroke="#0d0d0d" stroke-width="1.05" fill="none"/>
<path fill="none" stroke="#8f601f" stroke-width="0.98" stroke-linejoin="round" stroke-linecap="round" d="M6.18 -1.19L15.58 -17.31L24.98 -43.95L34.38 -55.83L43.78 -52.54L53.18 -50.1L62.58 -51.52L71.98 -43.95L81.38 -24.1L90.77 -9.33"/>
<ellipse cx="6.18" cy="-1.19" rx="1.45" ry="1.55" fill="#8f601f"/>
<ellipse cx="15.58" cy="-17.31" rx="1.45" ry="1.55" fill="#8f601f"/>
<ellipse cx="24.98" cy="-43.95" rx="1.45" ry="1.55" fill="#8f601f"/>
<ellipse cx="34.38" cy="-55.83" rx="1.45" ry="1.55" fill="#8f601f"/>
<ellipse cx="43.78" cy="-52.54" rx="1.45" ry="1.55" fill="#8f601f"/>
<ellipse cx="53.18" cy="-50.1" rx="1.45" ry="1.55" fill="#8f601f"/>
<ellipse cx="62.58" cy="-51.52" rx="1.45" ry="1.55" fill="#8f601f"/>
<ellipse cx="71.98" cy="-43.95" rx="1.45" ry="1.55" fill="#8f601f"/>
<ellipse cx="81.38" cy="-24.1" rx="1.45" ry="1.55" fill="#8f601f"/>
<ellipse cx="90.77" cy="-9.33" rx="1.45" ry="1.55" fill="#8f601f"/>
<ellipse cx="100.17" cy="-3.05" rx="1.45" ry="1.55" fill="#8f601f"/>
<ellipse cx="109.57" cy="-0.85" rx="1.45" ry="1.55" fill="#8f601f"/>
<ellipse cx="118.97" cy="-0.2" rx="1.45" ry="1.55" fill="#8f601f"/>
<ellipse cx="128.37" cy="-0" rx="1.45" ry="1.55" fill="#8f601f"/>
<ellipse cx="137.77" cy="-0" rx="1.45" ry="1.55" fill="#8f601f"/>
<ellipse cx="147.17" cy="-0" rx="1.45" ry="1.55" fill="#8f601f"/>
<ellipse cx="156.57" cy="-0" rx="1.45" ry="1.55" fill="#8f601f"/>
<ellipse cx="165.97" cy="-0" rx="1.45" ry="1.55" fill="#8f601f"/>
<path fill="none" stroke="#c9944c" stroke-width="0.98" stroke-linejoin="round" stroke-linecap="round" d="M6.18 -1.19L15.58 -28.61L24.98 -72.6L34.38 -77.69L43.78 -59.29L53.18 -51.11L62.58 -52.13L71.98 -42.93L81.38 -22.91L90.77 -9.16"/>
<rect x="4.53" y="-2.94" width="3.3" height="3.5" fill="#c9944c"/>
<rect x="13.93" y="-30.36" width="3.3" height="3.5" fill="#c9944c"/>
<rect x="23.33" y="-74.35" width="3.3" height="3.5" fill="#c9944c"/>
<rect x="32.73" y="-79.44" width="3.3" height="3.5" fill="#c9944c"/>
<rect x="42.13" y="-61.04" width="3.3" height="3.5" fill="#c9944c"/>
<rect x="51.53" y="-52.86" width="3.3" height="3.5" fill="#c9944c"/>
<rect x="60.93" y="-53.88" width="3.3" height="3.5" fill="#c9944c"/>
<rect x="70.33" y="-44.68" width="3.3" height="3.5" fill="#c9944c"/>
<rect x="79.73" y="-24.66" width="3.3" height="3.5" fill="#c9944c"/>
<rect x="89.12" y="-10.91" width="3.3" height="3.5" fill="#c9944c"/>
<rect x="98.52" y="-4.8" width="3.3" height="3.5" fill="#c9944c"/>
<rect x="107.92" y="-2.6" width="3.3" height="3.5" fill="#c9944c"/>
<rect x="117.32" y="-1.95" width="3.3" height="3.5" fill="#c9944c"/>
<rect x="126.72" y="-1.75" width="3.3" height="3.5" fill="#c9944c"/>
<rect x="136.12" y="-1.75" width="3.3" height="3.5" fill="#c9944c"/>
<rect x="145.52" y="-1.75" width="3.3" height="3.5" fill="#c9944c"/>
<rect x="154.92" y="-1.75" width="3.3" height="3.5" fill="#c9944c"/>
<rect x="164.32" y="-1.75" width="3.3" height="3.5" fill="#c9944c"/>
<path fill="none" stroke="#e09b3f" stroke-width="0.98" stroke-linejoin="round" stroke-linecap="round" d="M6.18 -1.19L15.58 -19.35L24.98 -45.38L34.38 -48.06L43.78 -41.51L53.18 -42.32L62.58 -47.65L71.98 -40.29L81.38 -21.89L90.77 -8.99"/>
<path fill="none" stroke="#e09b3f" stroke-width="1.25" stroke-linejoin="round" stroke-linecap="round" d="M90.77 -8.99L100.17 -2.88"/>
<path d="M4.53 0.46L7.83 0.46L6.18 -3.19Z" fill="#e09b3f"/>
<path d="M13.93 -17.7L17.23 -17.7L15.58 -21.35Z" fill="#e09b3f"/>
<path d="M23.33 -43.73L26.63 -43.73L24.98 -47.38Z" fill="#e09b3f"/>
<path d="M32.73 -46.41L36.03 -46.41L34.38 -50.06Z" fill="#e09b3f"/>
<path d="M42.13 -39.86L45.43 -39.86L43.78 -43.51Z" fill="#e09b3f"/>
<path d="M51.53 -40.67L54.83 -40.67L53.18 -44.32Z" fill="#e09b3f"/>
<path d="M60.93 -46L64.23 -46L62.58 -49.65Z" fill="#e09b3f"/>
<path d="M70.33 -38.64L73.63 -38.64L71.98 -42.29Z" fill="#e09b3f"/>
<path d="M79.73 -20.24L83.03 -20.24L81.38 -23.89Z" fill="#e09b3f"/>
<path d="M89.12 -7.34L92.42 -7.34L90.77 -10.99Z" fill="#e09b3f"/>
<path d="M98.52 -1.23L101.82 -1.23L100.17 -4.88Z" fill="#e09b3f"/>
<path d="M107.92 0.8L111.22 0.8L109.57 -2.85Z" fill="#e09b3f"/>
<path d="M117.32 1.45L120.62 1.45L118.97 -2.2Z" fill="#e09b3f"/>
<path d="M126.72 1.65L130.02 1.65L128.37 -2Z" fill="#e09b3f"/>
<path d="M136.12 1.65L139.42 1.65L137.77 -2Z" fill="#e09b3f"/>
<path d="M145.52 1.65L148.82 1.65L147.17 -2Z" fill="#e09b3f"/>
<path d="M154.92 1.65L158.22 1.65L156.57 -2Z" fill="#e09b3f"/>
<path d="M164.32 1.65L167.62 1.65L165.97 -2Z" fill="#e09b3f"/>
<path fill="none" stroke="#bfb276" stroke-width="0.75" stroke-linejoin="round" stroke-linecap="round" d="M118.97 -0.7L128.37 -0.5L137.77 -0.5L147.17 -0.5L156.57 -0.5L165.97 -0.5"/>
<path fill="none" stroke="#bfb276" stroke-width="0.98" stroke-linejoin="round" stroke-linecap="round" d="M6.18 -1.19L15.58 -15.78L24.98 -42.32L34.38 -56.85L43.78 -56.85L53.18 -56L62.58 -57.87L71.98 -49.08L81.38 -27.15L90.77 -10.62L100.17 -3.22"/>
<path fill="none" stroke="#bfb276" stroke-width="1.25" stroke-linejoin="round" stroke-linecap="round" d="M100.17 -3.22L109.57 -0.85L118.97 -0.2"/>
<path d="M4.53 -2.84L7.83 -2.84L6.18 0.81Z" fill="#bfb276"/>
<path d="M13.93 -17.43L17.23 -17.43L15.58 -13.78Z" fill="#bfb276"/>
<path d="M23.33 -43.97L26.63 -43.97L24.98 -40.32Z" fill="#bfb276"/>
<path d="M32.73 -58.5L36.03 -58.5L34.38 -54.85Z" fill="#bfb276"/>
<path d="M42.13 -58.5L45.43 -58.5L43.78 -54.85Z" fill="#bfb276"/>
<path d="M51.53 -57.65L54.83 -57.65L53.18 -54Z" fill="#bfb276"/>
<path d="M60.93 -59.52L64.23 -59.52L62.58 -55.87Z" fill="#bfb276"/>
<path d="M70.33 -50.73L73.63 -50.73L71.98 -47.08Z" fill="#bfb276"/>
<path d="M79.73 -28.8L83.03 -28.8L81.38 -25.15Z" fill="#bfb276"/>
<path d="M89.12 -12.27L92.42 -12.27L90.77 -8.62Z" fill="#bfb276"/>
<path d="M98.52 -4.87L101.82 -4.87L100.17 -1.22Z" fill="#bfb276"/>
<path d="M107.92 -2.5L111.22 -2.5L109.57 1.15Z" fill="#bfb276"/>
<path d="M117.32 -1.85L120.62 -1.85L118.97 1.8Z" fill="#bfb276"/>
<path d="M126.72 -1.65L130.02 -1.65L128.37 2Z" fill="#bfb276"/>
<path d="M136.12 -1.65L139.42 -1.65L137.77 2Z" fill="#bfb276"/>
<path d="M145.52 -1.65L148.82 -1.65L147.17 2Z" fill="#bfb276"/>
<path d="M154.92 -1.65L158.22 -1.65L156.57 2Z" fill="#bfb276"/>
<path d="M164.32 -1.65L167.62 -1.65L165.97 2Z" fill="#bfb276"/>
<text class="b" transform="translate(86.28 -95.55) scale(0.952 1)" font-size="8.48" text-anchor="middle" fill="#111">High-income North America</text>
<text x="177.78" y="2.4" font-size="7.15" fill="#1f1f1f" stroke="#1f1f1f" stroke-width="0.12">age (year)</text>
</g>
<g transform="translate(70.2 366.95) scale(1.17 1)">
<path d="M0 -85.37V0.53M-0.53 0H172.53" stroke="#0d0d0d" stroke-width="1.05" fill="none"/>
<text class="b" transform="translate(-3.2 2.35) scale(0.93 1)" font-size="6.65" text-anchor="end" fill="#0d0d0d">0</text>
<text class="b" transform="translate(-3.2 -14.62) scale(0.93 1)" font-size="6.65" text-anchor="end" fill="#0d0d0d">500</text>
<text class="b" transform="translate(-3.2 -31.59) scale(0.93 1)" font-size="6.65" text-anchor="end" fill="#0d0d0d">1000</text>
<text class="b" transform="translate(-3.2 -48.56) scale(0.93 1)" font-size="6.65" text-anchor="end" fill="#0d0d0d">1500</text>
<text class="b" transform="translate(-3.2 -65.53) scale(0.93 1)" font-size="6.65" text-anchor="end" fill="#0d0d0d">2000</text>
<text class="b" transform="translate(-3.2 -82.5) scale(0.93 1)" font-size="6.65" text-anchor="end" fill="#0d0d0d">2500</text>
<text class="b" transform="translate(8.18 8.55) rotate(-45)" font-size="6.4" text-anchor="end" fill="#0d0d0d">10 to 14</text>
<text class="b" transform="translate(17.57 8.55) rotate(-45)" font-size="6.4" text-anchor="end" fill="#0d0d0d">15 to 19</text>
<text class="b" transform="translate(26.97 8.55) rotate(-45)" font-size="6.4" text-anchor="end" fill="#0d0d0d">20 to 24</text>
<text class="b" transform="translate(36.37 8.55) rotate(-45)" font-size="6.4" text-anchor="end" fill="#0d0d0d">25 to 29</text>
<text class="b" transform="translate(45.77 8.55) rotate(-45)" font-size="6.4" text-anchor="end" fill="#0d0d0d">30 to 34</text>
<text class="b" transform="translate(55.17 8.55) rotate(-45)" font-size="6.4" text-anchor="end" fill="#0d0d0d">35 to 39</text>
<text class="b" transform="translate(64.56 8.55) rotate(-45)" font-size="6.4" text-anchor="end" fill="#0d0d0d">40 to 44</text>
<text class="b" transform="translate(73.96 8.55) rotate(-45)" font-size="6.4" text-anchor="end" fill="#0d0d0d">45 to 49</text>
<text class="b" transform="translate(83.36 8.55) rotate(-45)" font-size="6.4" text-anchor="end" fill="#0d0d0d">50 to 54</text>
<text class="b" transform="translate(92.76 8.55) rotate(-45)" font-size="6.4" text-anchor="end" fill="#0d0d0d">55 to 59</text>
<text class="b" transform="translate(102.15 8.55) rotate(-45)" font-size="6.4" text-anchor="end" fill="#0d0d0d">60 to 64</text>
<text class="b" transform="translate(111.55 8.55) rotate(-45)" font-size="6.4" text-anchor="end" fill="#0d0d0d">65 to 69</text>
<text class="b" transform="translate(120.95 8.55) rotate(-45)" font-size="6.4" text-anchor="end" fill="#0d0d0d">70 to 74</text>
<text class="b" transform="translate(130.35 8.55) rotate(-45)" font-size="6.4" text-anchor="end" fill="#0d0d0d">75 to 79</text>
<text class="b" transform="translate(139.75 8.55) rotate(-45)" font-size="6.4" text-anchor="end" fill="#0d0d0d">80 to 84</text>
<text class="b" transform="translate(149.14 8.55) rotate(-45)" font-size="6.4" text-anchor="end" fill="#0d0d0d">85 to 89</text>
<text class="b" transform="translate(158.54 8.55) rotate(-45)" font-size="6.4" text-anchor="end" fill="#0d0d0d">90 to 94</text>
<text class="b" transform="translate(167.94 8.55) rotate(-45)" font-size="6.4" text-anchor="end" fill="#0d0d0d">95 plus</text>
<path d="M-2.4 0H0M-2.4 -16.97H0M-2.4 -33.94H0M-2.4 -50.91H0M-2.4 -67.88H0M-2.4 -84.85H0M6.18 0V3.1M15.57 0V3.1M24.97 0V3.1M34.37 0V3.1M43.77 0V3.1M53.17 0V3.1M62.56 0V3.1M71.96 0V3.1M81.36 0V3.1M90.76 0V3.1M100.15 0V3.1M109.55 0V3.1M118.95 0V3.1M128.35 0V3.1M137.75 0V3.1M147.14 0V3.1M156.54 0V3.1M165.94 0V3.1" stroke="#0d0d0d" stroke-width="1.05" fill="none"/>
<path fill="none" stroke="#8f601f" stroke-width="0.98" stroke-linejoin="round" stroke-linecap="round" d="M34.37 -67.27L43.77 -65.84L53.17 -63.16"/>
<ellipse cx="6.18" cy="-1.36" rx="1.45" ry="1.55" fill="#8f601f"/>
<ellipse cx="15.57" cy="-18.8" rx="1.45" ry="1.55" fill="#8f601f"/>
<ellipse cx="24.97" cy="-51.52" rx="1.45" ry="1.55" fill="#8f601f"/>
<ellipse cx="34.37" cy="-67.27" rx="1.45" ry="1.55" fill="#8f601f"/>
<ellipse cx="43.77" cy="-65.84" rx="1.45" ry="1.55" fill="#8f601f"/>
<ellipse cx="53.17" cy="-63.16" rx="1.45" ry="1.55" fill="#8f601f"/>
<ellipse cx="62.56" cy="-65.33" rx="1.45" ry="1.55" fill="#8f601f"/>
<ellipse cx="71.96" cy="-57.7" rx="1.45" ry="1.55" fill="#8f601f"/>
<ellipse cx="81.36" cy="-35.16" rx="1.45" ry="1.55" fill="#8f601f"/>
<ellipse cx="90.76" cy="-15.75" rx="1.45" ry="1.55" fill="#8f601f"/>
<ellipse cx="100.15" cy="-5.09" rx="1.45" ry="1.55" fill="#8f601f"/>
<ellipse cx="109.55" cy="-1.36" rx="1.45" ry="1.55" fill="#8f601f"/>
<ellipse cx="118.95" cy="-0.34" rx="1.45" ry="1.55" fill="#8f601f"/>
<ellipse cx="128.35" cy="-0" rx="1.45" ry="1.55" fill="#8f601f"/>
<ellipse cx="137.75" cy="-0" rx="1.45" ry="1.55" fill="#8f601f"/>
<ellipse cx="147.14" cy="-0" rx="1.45" ry="1.55" fill="#8f601f"/>
<ellipse cx="156.54" cy="-0" rx="1.45" ry="1.55" fill="#8f601f"/>
<ellipse cx="165.94" cy="-0" rx="1.45" ry="1.55" fill="#8f601f"/>
<path fill="none" stroke="#c9944c" stroke-width="0.98" stroke-linejoin="round" stroke-linecap="round" d="M24.97 -51.52L34.37 -68.49L43.77 -66.86"/>
<rect x="4.53" y="-3.11" width="3.3" height="3.5" fill="#c9944c"/>
<rect x="13.92" y="-20.55" width="3.3" height="3.5" fill="#c9944c"/>
<rect x="23.32" y="-53.27" width="3.3" height="3.5" fill="#c9944c"/>
<rect x="32.72" y="-70.24" width="3.3" height="3.5" fill="#c9944c"/>
<rect x="42.12" y="-68.61" width="3.3" height="3.5" fill="#c9944c"/>
<rect x="51.52" y="-65.56" width="3.3" height="3.5" fill="#c9944c"/>
<rect x="60.91" y="-67.25" width="3.3" height="3.5" fill="#c9944c"/>
<rect x="70.31" y="-59.79" width="3.3" height="3.5" fill="#c9944c"/>
<rect x="79.71" y="-36.91" width="3.3" height="3.5" fill="#c9944c"/>
<rect x="89.11" y="-17.5" width="3.3" height="3.5" fill="#c9944c"/>
<rect x="98.5" y="-6.84" width="3.3" height="3.5" fill="#c9944c"/>
<rect x="107.9" y="-3.11" width="3.3" height="3.5" fill="#c9944c"/>
<rect x="117.3" y="-2.09" width="3.3" height="3.5" fill="#c9944c"/>
<rect x="126.7" y="-1.75" width="3.3" height="3.5" fill="#c9944c"/>
<rect x="136.1" y="-1.75" width="3.3" height="3.5" fill="#c9944c"/>
<rect x="145.49" y="-1.75" width="3.3" height="3.5" fill="#c9944c"/>
<rect x="154.89" y="-1.75" width="3.3" height="3.5" fill="#c9944c"/>
<rect x="164.29" y="-1.75" width="3.3" height="3.5" fill="#c9944c"/>
<path fill="none" stroke="#e09b3f" stroke-width="0.98" stroke-linejoin="round" stroke-linecap="round" d="M24.97 -51.52L34.37 -67.54L43.77 -66.52L53.17 -63.47"/>
<path fill="none" stroke="#e09b3f" stroke-width="1.25" stroke-linejoin="round" stroke-linecap="round" d="M53.17 -63.47L62.56 -65.67L71.96 -57.87L81.36 -35.16"/>
<path d="M4.53 0.29L7.83 0.29L6.18 -3.36Z" fill="#e09b3f"/>
<path d="M13.92 -17.15L17.22 -17.15L15.57 -20.8Z" fill="#e09b3f"/>
<path d="M23.32 -49.87L26.62 -49.87L24.97 -53.52Z" fill="#e09b3f"/>
<path d="M32.72 -65.89L36.02 -65.89L34.37 -69.54Z" fill="#e09b3f"/>
<path d="M42.12 -64.87L45.42 -64.87L43.77 -68.52Z" fill="#e09b3f"/>
<path d="M51.52 -61.82L54.82 -61.82L53.17 -65.47Z" fill="#e09b3f"/>
<path d="M60.91 -64.02L64.21 -64.02L62.56 -67.67Z" fill="#e09b3f"/>
<path d="M70.31 -56.22L73.61 -56.22L71.96 -59.87Z" fill="#e09b3f"/>
<path d="M79.71 -33.51L83.01 -33.51L81.36 -37.16Z" fill="#e09b3f"/>
<path d="M89.11 -14.1L92.41 -14.1L90.76 -17.75Z" fill="#e09b3f"/>
<path d="M98.5 -3.44L101.8 -3.44L100.15 -7.09Z" fill="#e09b3f"/>
<path d="M107.9 0.29L111.2 0.29L109.55 -3.36Z" fill="#e09b3f"/>
<path d="M117.3 1.31L120.6 1.31L118.95 -2.34Z" fill="#e09b3f"/>
<path d="M126.7 1.65L130 1.65L128.35 -2Z" fill="#e09b3f"/>
<path d="M136.1 1.65L139.4 1.65L137.75 -2Z" fill="#e09b3f"/>
<path d="M145.49 1.65L148.79 1.65L147.14 -2Z" fill="#e09b3f"/>
<path d="M154.89 1.65L158.19 1.65L156.54 -2Z" fill="#e09b3f"/>
<path d="M164.29 1.65L167.59 1.65L165.94 -2Z" fill="#e09b3f"/>
<path fill="none" stroke="#bfb276" stroke-width="0.75" stroke-linejoin="round" stroke-linecap="round" d="M118.95 -0.84L128.35 -0.5L137.75 -0.5L147.14 -0.5L156.54 -0.5L165.94 -0.5"/>
<path fill="none" stroke="#bfb276" stroke-width="0.98" stroke-linejoin="round" stroke-linecap="round" d="M24.97 -51.52L34.37 -69.92L43.77 -68.29L53.17 -64.83L62.56 -66.86L71.96 -58.55"/>
<path fill="none" stroke="#bfb276" stroke-width="1.25" stroke-linejoin="round" stroke-linecap="round" d="M6.18 -1.36L15.57 -18.8L24.97 -51.52M71.96 -58.55L81.36 -35.16L90.76 -15.75L100.15 -5.09L109.55 -1.36L118.95 -0.34"/>
<path d="M4.53 -3.01L7.83 -3.01L6.18 0.64Z" fill="#bfb276"/>
<path d="M13.92 -20.45L17.22 -20.45L15.57 -16.8Z" fill="#bfb276"/>
<path d="M23.32 -53.17L26.62 -53.17L24.97 -49.52Z" fill="#bfb276"/>
<path d="M32.72 -71.57L36.02 -71.57L34.37 -67.92Z" fill="#bfb276"/>
<path d="M42.12 -69.94L45.42 -69.94L43.77 -66.29Z" fill="#bfb276"/>
<path d="M51.52 -66.48L54.82 -66.48L53.17 -62.83Z" fill="#bfb276"/>
<path d="M60.91 -68.51L64.21 -68.51L62.56 -64.86Z" fill="#bfb276"/>
<path d="M70.31 -60.2L73.61 -60.2L71.96 -56.55Z" fill="#bfb276"/>
<path d="M79.71 -36.81L83.01 -36.81L81.36 -33.16Z" fill="#bfb276"/>
<path d="M89.11 -17.4L92.41 -17.4L90.76 -13.75Z" fill="#bfb276"/>
<path d="M98.5 -6.74L101.8 -6.74L100.15 -3.09Z" fill="#bfb276"/>
<path d="M107.9 -3.01L111.2 -3.01L109.55 0.64Z" fill="#bfb276"/>
<path d="M117.3 -1.99L120.6 -1.99L118.95 1.66Z" fill="#bfb276"/>
<path d="M126.7 -1.65L130 -1.65L128.35 2Z" fill="#bfb276"/>
<path d="M136.1 -1.65L139.4 -1.65L137.75 2Z" fill="#bfb276"/>
<path d="M145.49 -1.65L148.79 -1.65L147.14 2Z" fill="#bfb276"/>
<path d="M154.89 -1.65L158.19 -1.65L156.54 2Z" fill="#bfb276"/>
<path d="M164.29 -1.65L167.59 -1.65L165.94 2Z" fill="#bfb276"/>
<text class="b" transform="translate(86.26 -95.55) scale(0.952 1)" font-size="8.48" text-anchor="middle" fill="#111">Southern Latin America</text>
<text x="177.74" y="2.4" font-size="7.15" fill="#1f1f1f" stroke="#1f1f1f" stroke-width="0.12">age (year)</text>
</g>
<g transform="translate(332.3 366.95) scale(1.17 1)">
<path d="M0 -85.37V0.53M-0.53 0H172.48" stroke="#0d0d0d" stroke-width="1.05" fill="none"/>
<text class="b" transform="translate(-3.2 2.35) scale(0.93 1)" font-size="6.65" text-anchor="end" fill="#0d0d0d">0</text>
<text class="b" transform="translate(-3.2 -25.93) scale(0.93 1)" font-size="6.65" text-anchor="end" fill="#0d0d0d">5000</text>
<text class="b" transform="translate(-3.2 -54.22) scale(0.93 1)" font-size="6.65" text-anchor="end" fill="#0d0d0d">10000</text>
<text class="b" transform="translate(-3.2 -82.5) scale(0.93 1)" font-size="6.65" text-anchor="end" fill="#0d0d0d">15000</text>
<text class="b" transform="translate(8.17 8.55) rotate(-45)" font-size="6.4" text-anchor="end" fill="#0d0d0d">10 to 14</text>
<text class="b" transform="translate(17.57 8.55) rotate(-45)" font-size="6.4" text-anchor="end" fill="#0d0d0d">15 to 19</text>
<text class="b" transform="translate(26.96 8.55) rotate(-45)" font-size="6.4" text-anchor="end" fill="#0d0d0d">20 to 24</text>
<text class="b" transform="translate(36.36 8.55) rotate(-45)" font-size="6.4" text-anchor="end" fill="#0d0d0d">25 to 29</text>
<text class="b" transform="translate(45.75 8.55) rotate(-45)" font-size="6.4" text-anchor="end" fill="#0d0d0d">30 to 34</text>
<text class="b" transform="translate(55.15 8.55) rotate(-45)" font-size="6.4" text-anchor="end" fill="#0d0d0d">35 to 39</text>
<text class="b" transform="translate(64.54 8.55) rotate(-45)" font-size="6.4" text-anchor="end" fill="#0d0d0d">40 to 44</text>
<text class="b" transform="translate(73.94 8.55) rotate(-45)" font-size="6.4" text-anchor="end" fill="#0d0d0d">45 to 49</text>
<text class="b" transform="translate(83.33 8.55) rotate(-45)" font-size="6.4" text-anchor="end" fill="#0d0d0d">50 to 54</text>
<text class="b" transform="translate(92.73 8.55) rotate(-45)" font-size="6.4" text-anchor="end" fill="#0d0d0d">55 to 59</text>
<text class="b" transform="translate(102.12 8.55) rotate(-45)" font-size="6.4" text-anchor="end" fill="#0d0d0d">60 to 64</text>
<text class="b" transform="translate(111.52 8.55) rotate(-45)" font-size="6.4" text-anchor="end" fill="#0d0d0d">65 to 69</text>
<text class="b" transform="translate(120.91 8.55) rotate(-45)" font-size="6.4" text-anchor="end" fill="#0d0d0d">70 to 74</text>
<text class="b" transform="translate(130.31 8.55) rotate(-45)" font-size="6.4" text-anchor="end" fill="#0d0d0d">75 to 79</text>
<text class="b" transform="translate(139.7 8.55) rotate(-45)" font-size="6.4" text-anchor="end" fill="#0d0d0d">80 to 84</text>
<text class="b" transform="translate(149.1 8.55) rotate(-45)" font-size="6.4" text-anchor="end" fill="#0d0d0d">85 to 89</text>
<text class="b" transform="translate(158.49 8.55) rotate(-45)" font-size="6.4" text-anchor="end" fill="#0d0d0d">90 to 94</text>
<text class="b" transform="translate(167.89 8.55) rotate(-45)" font-size="6.4" text-anchor="end" fill="#0d0d0d">95 plus</text>
<path d="M-2.4 0H0M-2.4 -28.28H0M-2.4 -56.57H0M-2.4 -84.85H0M6.17 0V3.1M15.57 0V3.1M24.96 0V3.1M34.36 0V3.1M43.75 0V3.1M53.15 0V3.1M62.54 0V3.1M71.94 0V3.1M81.33 0V3.1M90.73 0V3.1M100.12 0V3.1M109.52 0V3.1M118.91 0V3.1M128.31 0V3.1M137.7 0V3.1M147.1 0V3.1M156.49 0V3.1M165.89 0V3.1" stroke="#0d0d0d" stroke-width="1.05" fill="none"/>
<path fill="none" stroke="#8f601f" stroke-width="0.98" stroke-linejoin="round" stroke-linecap="round" d="M6.17 -0L15.57 -11.65L24.96 -35.07L34.36 -58.07M43.75 -63.81L53.15 -58.07L62.54 -51.11L71.94 -37.05"/>
<ellipse cx="6.17" cy="-0" rx="1.45" ry="1.55" fill="#8f601f"/>
<ellipse cx="15.57" cy="-11.65" rx="1.45" ry="1.55" fill="#8f601f"/>
<ellipse cx="24.96" cy="-35.07" rx="1.45" ry="1.55" fill="#8f601f"/>
<ellipse cx="34.36" cy="-58.07" rx="1.45" ry="1.55" fill="#8f601f"/>
<ellipse cx="43.75" cy="-63.81" rx="1.45" ry="1.55" fill="#8f601f"/>
<ellipse cx="53.15" cy="-58.07" rx="1.45" ry="1.55" fill="#8f601f"/>
<ellipse cx="62.54" cy="-51.11" rx="1.45" ry="1.55" fill="#8f601f"/>
<ellipse cx="71.94" cy="-37.05" rx="1.45" ry="1.55" fill="#8f601f"/>
<ellipse cx="81.33" cy="-17.79" rx="1.45" ry="1.55" fill="#8f601f"/>
<ellipse cx="90.73" cy="-5.71" rx="1.45" ry="1.55" fill="#8f601f"/>
<ellipse cx="100.12" cy="-1.41" rx="1.45" ry="1.55" fill="#8f601f"/>
<ellipse cx="109.52" cy="-0.4" rx="1.45" ry="1.55" fill="#8f601f"/>
<ellipse cx="118.91" cy="-0" rx="1.45" ry="1.55" fill="#8f601f"/>
<ellipse cx="128.31" cy="-0" rx="1.45" ry="1.55" fill="#8f601f"/>
<ellipse cx="137.7" cy="-0" rx="1.45" ry="1.55" fill="#8f601f"/>
<ellipse cx="147.1" cy="-0" rx="1.45" ry="1.55" fill="#8f601f"/>
<ellipse cx="156.49" cy="-0" rx="1.45" ry="1.55" fill="#8f601f"/>
<ellipse cx="165.89" cy="-0" rx="1.45" ry="1.55" fill="#8f601f"/>
<path fill="none" stroke="#c9944c" stroke-width="0.98" stroke-linejoin="round" stroke-linecap="round" d="M6.17 -0L15.57 -15.33L24.96 -46.38L34.36 -62.17L43.75 -60.72L53.15 -54.59L62.54 -49.5L71.94 -36.77"/>
<rect x="4.52" y="-1.75" width="3.3" height="3.5" fill="#c9944c"/>
<rect x="13.92" y="-17.08" width="3.3" height="3.5" fill="#c9944c"/>
<rect x="23.31" y="-48.13" width="3.3" height="3.5" fill="#c9944c"/>
<rect x="32.71" y="-63.92" width="3.3" height="3.5" fill="#c9944c"/>
<rect x="42.1" y="-62.47" width="3.3" height="3.5" fill="#c9944c"/>
<rect x="51.5" y="-56.34" width="3.3" height="3.5" fill="#c9944c"/>
<rect x="60.89" y="-51.25" width="3.3" height="3.5" fill="#c9944c"/>
<rect x="70.29" y="-38.52" width="3.3" height="3.5" fill="#c9944c"/>
<rect x="79.68" y="-19.54" width="3.3" height="3.5" fill="#c9944c"/>
<rect x="89.08" y="-7.46" width="3.3" height="3.5" fill="#c9944c"/>
<rect x="98.47" y="-3.16" width="3.3" height="3.5" fill="#c9944c"/>
<rect x="107.87" y="-2.15" width="3.3" height="3.5" fill="#c9944c"/>
<rect x="117.26" y="-1.75" width="3.3" height="3.5" fill="#c9944c"/>
<rect x="126.66" y="-1.75" width="3.3" height="3.5" fill="#c9944c"/>
<rect x="136.05" y="-1.75" width="3.3" height="3.5" fill="#c9944c"/>
<rect x="145.45" y="-1.75" width="3.3" height="3.5" fill="#c9944c"/>
<rect x="154.84" y="-1.75" width="3.3" height="3.5" fill="#c9944c"/>
<rect x="164.24" y="-1.75" width="3.3" height="3.5" fill="#c9944c"/>
<path fill="none" stroke="#e09b3f" stroke-width="0.98" stroke-linejoin="round" stroke-linecap="round" d="M6.17 -0L15.57 -10.18L24.96 -33.37L34.36 -55.61L43.75 -59.28L53.15 -53.17L62.54 -47.86L71.94 -36.49"/>
<path fill="none" stroke="#e09b3f" stroke-width="1.25" stroke-linejoin="round" stroke-linecap="round" d="M71.94 -36.49L81.33 -17.79"/>
<path d="M4.52 1.65L7.82 1.65L6.17 -2Z" fill="#e09b3f"/>
<path d="M13.92 -8.53L17.22 -8.53L15.57 -12.18Z" fill="#e09b3f"/>
<path d="M23.31 -31.72L26.61 -31.72L24.96 -35.37Z" fill="#e09b3f"/>
<path d="M32.71 -53.96L36.01 -53.96L34.36 -57.61Z" fill="#e09b3f"/>
<path d="M42.1 -57.63L45.4 -57.63L43.75 -61.28Z" fill="#e09b3f"/>
<path d="M51.5 -51.52L54.8 -51.52L53.15 -55.17Z" fill="#e09b3f"/>
<path d="M60.89 -46.21L64.19 -46.21L62.54 -49.86Z" fill="#e09b3f"/>
<path d="M70.29 -34.84L73.59 -34.84L71.94 -38.49Z" fill="#e09b3f"/>
<path d="M79.68 -16.14L82.98 -16.14L81.33 -19.79Z" fill="#e09b3f"/>
<path d="M89.08 -4.06L92.38 -4.06L90.73 -7.71Z" fill="#e09b3f"/>
<path d="M98.47 0.24L101.77 0.24L100.12 -3.41Z" fill="#e09b3f"/>
<path d="M107.87 1.25L111.17 1.25L109.52 -2.4Z" fill="#e09b3f"/>
<path d="M117.26 1.65L120.56 1.65L118.91 -2Z" fill="#e09b3f"/>
<path d="M126.66 1.65L129.96 1.65L128.31 -2Z" fill="#e09b3f"/>
<path d="M136.05 1.65L139.35 1.65L137.7 -2Z" fill="#e09b3f"/>
<path d="M145.45 1.65L148.75 1.65L147.1 -2Z" fill="#e09b3f"/>
<path d="M154.84 1.65L158.14 1.65L156.49 -2Z" fill="#e09b3f"/>
<path d="M164.24 1.65L167.54 1.65L165.89 -2Z" fill="#e09b3f"/>
<path fill="none" stroke="#bfb276" stroke-width="0.75" stroke-linejoin="round" stroke-linecap="round" d="M109.52 -0.9L118.91 -0.5L128.31 -0.5L137.7 -0.5L147.1 -0.5L156.49 -0.5L165.89 -0.5"/>
<path fill="none" stroke="#bfb276" stroke-width="0.98" stroke-linejoin="round" stroke-linecap="round" d="M6.17 -0L15.57 -8.6L24.96 -33.12L34.36 -57.64L43.75 -64.2L53.15 -58.66L62.54 -52.14L71.94 -38.24L81.33 -17.79"/>
<path fill="none" stroke="#bfb276" stroke-width="1.25" stroke-linejoin="round" stroke-linecap="round" d="M81.33 -17.79L90.73 -5.71L100.12 -1.41L109.52 -0.4"/>
<path d="M4.52 -1.65L7.82 -1.65L6.17 2Z" fill="#bfb276"/>
<path d="M13.92 -10.25L17.22 -10.25L15.57 -6.6Z" fill="#bfb276"/>
<path d="M23.31 -34.77L26.61 -34.77L24.96 -31.12Z" fill="#bfb276"/>
<path d="M32.71 -59.29L36.01 -59.29L34.36 -55.64Z" fill="#bfb276"/>
<path d="M42.1 -65.85L45.4 -65.85L43.75 -62.2Z" fill="#bfb276"/>
<path d="M51.5 -60.31L54.8 -60.31L53.15 -56.66Z" fill="#bfb276"/>
<path d="M60.89 -53.79L64.19 -53.79L62.54 -50.14Z" fill="#bfb276"/>
<path d="M70.29 -39.89L73.59 -39.89L71.94 -36.24Z" fill="#bfb276"/>
<path d="M79.68 -19.44L82.98 -19.44L81.33 -15.79Z" fill="#bfb276"/>
<path d="M89.08 -7.36L92.38 -7.36L90.73 -3.71Z" fill="#bfb276"/>
<path d="M98.47 -3.06L101.77 -3.06L100.12 0.59Z" fill="#bfb276"/>
<path d="M107.87 -2.05L111.17 -2.05L109.52 1.6Z" fill="#bfb276"/>
<path d="M117.26 -1.65L120.56 -1.65L118.91 2Z" fill="#bfb276"/>
<path d="M126.66 -1.65L129.96 -1.65L128.31 2Z" fill="#bfb276"/>
<path d="M136.05 -1.65L139.35 -1.65L137.7 2Z" fill="#bfb276"/>
<path d="M145.45 -1.65L148.75 -1.65L147.1 2Z" fill="#bfb276"/>
<path d="M154.84 -1.65L158.14 -1.65L156.49 2Z" fill="#bfb276"/>
<path d="M164.24 -1.65L167.54 -1.65L165.89 2Z" fill="#bfb276"/>
<text class="b" transform="translate(86.24 -95.55) scale(0.952 1)" font-size="8.48" text-anchor="middle" fill="#111">Tropical Latin America</text>
<text x="177.69" y="2.4" font-size="7.15" fill="#1f1f1f" stroke="#1f1f1f" stroke-width="0.12">age (year)</text>
</g>
<g transform="translate(70.65 500.51) scale(1.17 1)">
<path d="M0 -85.98V0.53M-0.53 0H174.34" stroke="#0d0d0d" stroke-width="1.05" fill="none"/>
<text class="b" transform="translate(-3.2 2.35) scale(0.93 1)" font-size="6.65" text-anchor="end" fill="#0d0d0d">0</text>
<text class="b" transform="translate(-3.2 -19.01) scale(0.93 1)" font-size="6.65" text-anchor="end" fill="#0d0d0d">5000</text>
<text class="b" transform="translate(-3.2 -40.38) scale(0.93 1)" font-size="6.65" text-anchor="end" fill="#0d0d0d">10000</text>
<text class="b" transform="translate(-3.2 -61.74) scale(0.93 1)" font-size="6.65" text-anchor="end" fill="#0d0d0d">15000</text>
<text class="b" transform="translate(-3.2 -83.11) scale(0.93 1)" font-size="6.65" text-anchor="end" fill="#0d0d0d">20000</text>
<text class="b" transform="translate(8.24 8.55) rotate(-45)" font-size="6.4" text-anchor="end" fill="#0d0d0d">10 to 14</text>
<text class="b" transform="translate(17.74 8.55) rotate(-45)" font-size="6.4" text-anchor="end" fill="#0d0d0d">15 to 19</text>
<text class="b" transform="translate(27.23 8.55) rotate(-45)" font-size="6.4" text-anchor="end" fill="#0d0d0d">20 to 24</text>
<text class="b" transform="translate(36.73 8.55) rotate(-45)" font-size="6.4" text-anchor="end" fill="#0d0d0d">25 to 29</text>
<text class="b" transform="translate(46.23 8.55) rotate(-45)" font-size="6.4" text-anchor="end" fill="#0d0d0d">30 to 34</text>
<text class="b" transform="translate(55.72 8.55) rotate(-45)" font-size="6.4" text-anchor="end" fill="#0d0d0d">35 to 39</text>
<text class="b" transform="translate(65.22 8.55) rotate(-45)" font-size="6.4" text-anchor="end" fill="#0d0d0d">40 to 44</text>
<text class="b" transform="translate(74.72 8.55) rotate(-45)" font-size="6.4" text-anchor="end" fill="#0d0d0d">45 to 49</text>
<text class="b" transform="translate(84.21 8.55) rotate(-45)" font-size="6.4" text-anchor="end" fill="#0d0d0d">50 to 54</text>
<text class="b" transform="translate(93.71 8.55) rotate(-45)" font-size="6.4" text-anchor="end" fill="#0d0d0d">55 to 59</text>
<text class="b" transform="translate(103.21 8.55) rotate(-45)" font-size="6.4" text-anchor="end" fill="#0d0d0d">60 to 64</text>
<text class="b" transform="translate(112.7 8.55) rotate(-45)" font-size="6.4" text-anchor="end" fill="#0d0d0d">65 to 69</text>
<text class="b" transform="translate(122.2 8.55) rotate(-45)" font-size="6.4" text-anchor="end" fill="#0d0d0d">70 to 74</text>
<text class="b" transform="translate(131.7 8.55) rotate(-45)" font-size="6.4" text-anchor="end" fill="#0d0d0d">75 to 79</text>
<text class="b" transform="translate(141.19 8.55) rotate(-45)" font-size="6.4" text-anchor="end" fill="#0d0d0d">80 to 84</text>
<text class="b" transform="translate(150.69 8.55) rotate(-45)" font-size="6.4" text-anchor="end" fill="#0d0d0d">85 to 89</text>
<text class="b" transform="translate(160.19 8.55) rotate(-45)" font-size="6.4" text-anchor="end" fill="#0d0d0d">90 to 94</text>
<text class="b" transform="translate(169.68 8.55) rotate(-45)" font-size="6.4" text-anchor="end" fill="#0d0d0d">95 plus</text>
<path d="M-2.4 0H0M-2.4 -21.36H0M-2.4 -42.73H0M-2.4 -64.09H0M-2.4 -85.46H0M6.24 0V3.1M15.74 0V3.1M25.23 0V3.1M34.73 0V3.1M44.23 0V3.1M53.72 0V3.1M63.22 0V3.1M72.72 0V3.1M82.21 0V3.1M91.71 0V3.1M101.21 0V3.1M110.7 0V3.1M120.2 0V3.1M129.7 0V3.1M139.19 0V3.1M148.69 0V3.1M158.19 0V3.1M167.68 0V3.1" stroke="#0d0d0d" stroke-width="1.05" fill="none"/>
<ellipse cx="6.24" cy="-0" rx="1.45" ry="1.55" fill="#8f601f"/>
<ellipse cx="15.74" cy="-11.24" rx="1.45" ry="1.55" fill="#8f601f"/>
<ellipse cx="25.23" cy="-40.27" rx="1.45" ry="1.55" fill="#8f601f"/>
<ellipse cx="34.73" cy="-60.93" rx="1.45" ry="1.55" fill="#8f601f"/>
<ellipse cx="44.23" cy="-59.29" rx="1.45" ry="1.55" fill="#8f601f"/>
<ellipse cx="53.72" cy="-51.11" rx="1.45" ry="1.55" fill="#8f601f"/>
<ellipse cx="63.22" cy="-45.59" rx="1.45" ry="1.55" fill="#8f601f"/>
<ellipse cx="72.72" cy="-34.74" rx="1.45" ry="1.55" fill="#8f601f"/>
<ellipse cx="82.21" cy="-17.78" rx="1.45" ry="1.55" fill="#8f601f"/>
<ellipse cx="91.71" cy="-6.13" rx="1.45" ry="1.55" fill="#8f601f"/>
<ellipse cx="101.21" cy="-1.41" rx="1.45" ry="1.55" fill="#8f601f"/>
<ellipse cx="110.7" cy="-0.3" rx="1.45" ry="1.55" fill="#8f601f"/>
<ellipse cx="120.2" cy="-0" rx="1.45" ry="1.55" fill="#8f601f"/>
<ellipse cx="129.7" cy="-0" rx="1.45" ry="1.55" fill="#8f601f"/>
<ellipse cx="139.19" cy="-0" rx="1.45" ry="1.55" fill="#8f601f"/>
<ellipse cx="148.69" cy="-0" rx="1.45" ry="1.55" fill="#8f601f"/>
<ellipse cx="158.19" cy="-0" rx="1.45" ry="1.55" fill="#8f601f"/>
<ellipse cx="167.68" cy="-0" rx="1.45" ry="1.55" fill="#8f601f"/>
<rect x="4.59" y="-1.75" width="3.3" height="3.5" fill="#c9944c"/>
<rect x="14.09" y="-12.99" width="3.3" height="3.5" fill="#c9944c"/>
<rect x="23.58" y="-42.02" width="3.3" height="3.5" fill="#c9944c"/>
<rect x="33.08" y="-62.68" width="3.3" height="3.5" fill="#c9944c"/>
<rect x="42.58" y="-61.04" width="3.3" height="3.5" fill="#c9944c"/>
<rect x="52.07" y="-52.86" width="3.3" height="3.5" fill="#c9944c"/>
<rect x="61.57" y="-47.34" width="3.3" height="3.5" fill="#c9944c"/>
<rect x="71.07" y="-36.49" width="3.3" height="3.5" fill="#c9944c"/>
<rect x="80.56" y="-19.53" width="3.3" height="3.5" fill="#c9944c"/>
<rect x="90.06" y="-7.88" width="3.3" height="3.5" fill="#c9944c"/>
<rect x="99.56" y="-3.16" width="3.3" height="3.5" fill="#c9944c"/>
<rect x="109.05" y="-2.05" width="3.3" height="3.5" fill="#c9944c"/>
<rect x="118.55" y="-1.75" width="3.3" height="3.5" fill="#c9944c"/>
<rect x="128.05" y="-1.75" width="3.3" height="3.5" fill="#c9944c"/>
<rect x="137.54" y="-1.75" width="3.3" height="3.5" fill="#c9944c"/>
<rect x="147.04" y="-1.75" width="3.3" height="3.5" fill="#c9944c"/>
<rect x="156.54" y="-1.75" width="3.3" height="3.5" fill="#c9944c"/>
<rect x="166.03" y="-1.75" width="3.3" height="3.5" fill="#c9944c"/>
<path d="M4.59 1.65L7.89 1.65L6.24 -2Z" fill="#e09b3f"/>
<path d="M14.09 -9.59L17.39 -9.59L15.74 -13.24Z" fill="#e09b3f"/>
<path d="M23.58 -38.62L26.88 -38.62L25.23 -42.27Z" fill="#e09b3f"/>
<path d="M33.08 -59.28L36.38 -59.28L34.73 -62.93Z" fill="#e09b3f"/>
<path d="M42.58 -57.64L45.88 -57.64L44.23 -61.29Z" fill="#e09b3f"/>
<path d="M52.07 -49.46L55.37 -49.46L53.72 -53.11Z" fill="#e09b3f"/>
<path d="M61.57 -43.94L64.87 -43.94L63.22 -47.59Z" fill="#e09b3f"/>
<path d="M71.07 -33.09L74.37 -33.09L72.72 -36.74Z" fill="#e09b3f"/>
<path d="M80.56 -16.13L83.86 -16.13L82.21 -19.78Z" fill="#e09b3f"/>
<path d="M90.06 -4.48L93.36 -4.48L91.71 -8.13Z" fill="#e09b3f"/>
<path d="M99.56 0.24L102.86 0.24L101.21 -3.41Z" fill="#e09b3f"/>
<path d="M109.05 1.35L112.35 1.35L110.7 -2.3Z" fill="#e09b3f"/>
<path d="M118.55 1.65L121.85 1.65L120.2 -2Z" fill="#e09b3f"/>
<path d="M128.05 1.65L131.35 1.65L129.7 -2Z" fill="#e09b3f"/>
<path d="M137.54 1.65L140.84 1.65L139.19 -2Z" fill="#e09b3f"/>
<path d="M147.04 1.65L150.34 1.65L148.69 -2Z" fill="#e09b3f"/>
<path d="M156.54 1.65L159.84 1.65L158.19 -2Z" fill="#e09b3f"/>
<path d="M166.03 1.65L169.33 1.65L167.68 -2Z" fill="#e09b3f"/>
<path fill="none" stroke="#bfb276" stroke-width="0.75" stroke-linejoin="round" stroke-linecap="round" d="M110.7 -0.8L120.2 -0.5L129.7 -0.5L139.19 -0.5L148.69 -0.5L158.19 -0.5L167.68 -0.5"/>
<path fill="none" stroke="#bfb276" stroke-width="1.25" stroke-linejoin="round" stroke-linecap="round" d="M6.24 -0L15.74 -11.24L25.23 -40.27L34.73 -60.93L44.23 -59.29L53.72 -51.11L63.22 -45.59L72.72 -34.74L82.21 -17.78L91.71 -6.13L101.21 -1.41L110.7 -0.3"/>
<path d="M4.59 -1.65L7.89 -1.65L6.24 2Z" fill="#bfb276"/>
<path d="M14.09 -12.89L17.39 -12.89L15.74 -9.24Z" fill="#bfb276"/>
<path d="M23.58 -41.92L26.88 -41.92L25.23 -38.27Z" fill="#bfb276"/>
<path d="M33.08 -62.58L36.38 -62.58L34.73 -58.93Z" fill="#bfb276"/>
<path d="M42.58 -60.94L45.88 -60.94L44.23 -57.29Z" fill="#bfb276"/>
<path d="M52.07 -52.76L55.37 -52.76L53.72 -49.11Z" fill="#bfb276"/>
<path d="M61.57 -47.24L64.87 -47.24L63.22 -43.59Z" fill="#bfb276"/>
<path d="M71.07 -36.39L74.37 -36.39L72.72 -32.74Z" fill="#bfb276"/>
<path d="M80.56 -19.43L83.86 -19.43L82.21 -15.78Z" fill="#bfb276"/>
<path d="M90.06 -7.78L93.36 -7.78L91.71 -4.13Z" fill="#bfb276"/>
<path d="M99.56 -3.06L102.86 -3.06L101.21 0.59Z" fill="#bfb276"/>
<path d="M109.05 -1.95L112.35 -1.95L110.7 1.7Z" fill="#bfb276"/>
<path d="M118.55 -1.65L121.85 -1.65L120.2 2Z" fill="#bfb276"/>
<path d="M128.05 -1.65L131.35 -1.65L129.7 2Z" fill="#bfb276"/>
<path d="M137.54 -1.65L140.84 -1.65L139.19 2Z" fill="#bfb276"/>
<path d="M147.04 -1.65L150.34 -1.65L148.69 2Z" fill="#bfb276"/>
<path d="M156.54 -1.65L159.84 -1.65L158.19 2Z" fill="#bfb276"/>
<path d="M166.03 -1.65L169.33 -1.65L167.68 2Z" fill="#bfb276"/>
<text class="b" transform="translate(87.17 -96.66) scale(0.952 1)" font-size="8.48" text-anchor="middle" fill="#111">Central Asia</text>
<text x="179.56" y="2.4" font-size="7.15" fill="#1f1f1f" stroke="#1f1f1f" stroke-width="0.12">age (year)</text>
</g>
<g transform="translate(329.65 500.51) scale(1.17 1)">
<path d="M0 -85.98V0.53M-0.53 0H174.34" stroke="#0d0d0d" stroke-width="1.05" fill="none"/>
<text class="b" transform="translate(-3.2 2.35) scale(0.93 1)" font-size="6.65" text-anchor="end" fill="#0d0d0d">0</text>
<text class="b" transform="translate(-3.2 -26.14) scale(0.93 1)" font-size="6.65" text-anchor="end" fill="#0d0d0d">5000</text>
<text class="b" transform="translate(-3.2 -54.62) scale(0.93 1)" font-size="6.65" text-anchor="end" fill="#0d0d0d">10000</text>
<text class="b" transform="translate(-3.2 -83.11) scale(0.93 1)" font-size="6.65" text-anchor="end" fill="#0d0d0d">15000</text>
<text class="b" transform="translate(8.24 8.55) rotate(-45)" font-size="6.4" text-anchor="end" fill="#0d0d0d">10 to 14</text>
<text class="b" transform="translate(17.74 8.55) rotate(-45)" font-size="6.4" text-anchor="end" fill="#0d0d0d">15 to 19</text>
<text class="b" transform="translate(27.23 8.55) rotate(-45)" font-size="6.4" text-anchor="end" fill="#0d0d0d">20 to 24</text>
<text class="b" transform="translate(36.73 8.55) rotate(-45)" font-size="6.4" text-anchor="end" fill="#0d0d0d">25 to 29</text>
<text class="b" transform="translate(46.23 8.55) rotate(-45)" font-size="6.4" text-anchor="end" fill="#0d0d0d">30 to 34</text>
<text class="b" transform="translate(55.72 8.55) rotate(-45)" font-size="6.4" text-anchor="end" fill="#0d0d0d">35 to 39</text>
<text class="b" transform="translate(65.22 8.55) rotate(-45)" font-size="6.4" text-anchor="end" fill="#0d0d0d">40 to 44</text>
<text class="b" transform="translate(74.72 8.55) rotate(-45)" font-size="6.4" text-anchor="end" fill="#0d0d0d">45 to 49</text>
<text class="b" transform="translate(84.21 8.55) rotate(-45)" font-size="6.4" text-anchor="end" fill="#0d0d0d">50 to 54</text>
<text class="b" transform="translate(93.71 8.55) rotate(-45)" font-size="6.4" text-anchor="end" fill="#0d0d0d">55 to 59</text>
<text class="b" transform="translate(103.21 8.55) rotate(-45)" font-size="6.4" text-anchor="end" fill="#0d0d0d">60 to 64</text>
<text class="b" transform="translate(112.7 8.55) rotate(-45)" font-size="6.4" text-anchor="end" fill="#0d0d0d">65 to 69</text>
<text class="b" transform="translate(122.2 8.55) rotate(-45)" font-size="6.4" text-anchor="end" fill="#0d0d0d">70 to 74</text>
<text class="b" transform="translate(131.7 8.55) rotate(-45)" font-size="6.4" text-anchor="end" fill="#0d0d0d">75 to 79</text>
<text class="b" transform="translate(141.19 8.55) rotate(-45)" font-size="6.4" text-anchor="end" fill="#0d0d0d">80 to 84</text>
<text class="b" transform="translate(150.69 8.55) rotate(-45)" font-size="6.4" text-anchor="end" fill="#0d0d0d">85 to 89</text>
<text class="b" transform="translate(160.19 8.55) rotate(-45)" font-size="6.4" text-anchor="end" fill="#0d0d0d">90 to 94</text>
<text class="b" transform="translate(169.68 8.55) rotate(-45)" font-size="6.4" text-anchor="end" fill="#0d0d0d">95 plus</text>
<path d="M-2.4 0H0M-2.4 -28.49H0M-2.4 -56.97H0M-2.4 -85.46H0M6.24 0V3.1M15.74 0V3.1M25.23 0V3.1M34.73 0V3.1M44.23 0V3.1M53.72 0V3.1M63.22 0V3.1M72.72 0V3.1M82.21 0V3.1M91.71 0V3.1M101.21 0V3.1M110.7 0V3.1M120.2 0V3.1M129.7 0V3.1M139.19 0V3.1M148.69 0V3.1M158.19 0V3.1M167.68 0V3.1" stroke="#0d0d0d" stroke-width="1.05" fill="none"/>
<path fill="none" stroke="#8f601f" stroke-width="0.98" stroke-linejoin="round" stroke-linecap="round" d="M25.23 -30.25L34.73 -55.61L44.23 -65.41L53.72 -59.91L63.22 -54.18L72.72 -41.02"/>
<ellipse cx="6.24" cy="-0" rx="1.45" ry="1.55" fill="#8f601f"/>
<ellipse cx="15.74" cy="-7.41" rx="1.45" ry="1.55" fill="#8f601f"/>
<ellipse cx="25.23" cy="-30.25" rx="1.45" ry="1.55" fill="#8f601f"/>
<ellipse cx="34.73" cy="-55.61" rx="1.45" ry="1.55" fill="#8f601f"/>
<ellipse cx="44.23" cy="-65.41" rx="1.45" ry="1.55" fill="#8f601f"/>
<ellipse cx="53.72" cy="-59.91" rx="1.45" ry="1.55" fill="#8f601f"/>
<ellipse cx="63.22" cy="-54.18" rx="1.45" ry="1.55" fill="#8f601f"/>
<ellipse cx="72.72" cy="-41.02" rx="1.45" ry="1.55" fill="#8f601f"/>
<ellipse cx="82.21" cy="-19.48" rx="1.45" ry="1.55" fill="#8f601f"/>
<ellipse cx="91.71" cy="-6.12" rx="1.45" ry="1.55" fill="#8f601f"/>
<ellipse cx="101.21" cy="-1.42" rx="1.45" ry="1.55" fill="#8f601f"/>
<ellipse cx="110.7" cy="-0.4" rx="1.45" ry="1.55" fill="#8f601f"/>
<ellipse cx="120.2" cy="-0" rx="1.45" ry="1.55" fill="#8f601f"/>
<ellipse cx="129.7" cy="-0" rx="1.45" ry="1.55" fill="#8f601f"/>
<ellipse cx="139.19" cy="-0" rx="1.45" ry="1.55" fill="#8f601f"/>
<ellipse cx="148.69" cy="-0" rx="1.45" ry="1.55" fill="#8f601f"/>
<ellipse cx="158.19" cy="-0" rx="1.45" ry="1.55" fill="#8f601f"/>
<ellipse cx="167.68" cy="-0" rx="1.45" ry="1.55" fill="#8f601f"/>
<path fill="none" stroke="#c9944c" stroke-width="0.98" stroke-linejoin="round" stroke-linecap="round" d="M15.74 -7.98L25.23 -35.38L34.73 -67.46L44.23 -76.06L53.72 -69.51L63.22 -62.76L72.72 -46.4L82.21 -21.48L91.71 -6.55"/>
<rect x="4.59" y="-1.75" width="3.3" height="3.5" fill="#c9944c"/>
<rect x="14.09" y="-9.73" width="3.3" height="3.5" fill="#c9944c"/>
<rect x="23.58" y="-37.13" width="3.3" height="3.5" fill="#c9944c"/>
<rect x="33.08" y="-69.21" width="3.3" height="3.5" fill="#c9944c"/>
<rect x="42.58" y="-77.81" width="3.3" height="3.5" fill="#c9944c"/>
<rect x="52.07" y="-71.26" width="3.3" height="3.5" fill="#c9944c"/>
<rect x="61.57" y="-64.51" width="3.3" height="3.5" fill="#c9944c"/>
<rect x="71.07" y="-48.15" width="3.3" height="3.5" fill="#c9944c"/>
<rect x="80.56" y="-23.23" width="3.3" height="3.5" fill="#c9944c"/>
<rect x="90.06" y="-8.3" width="3.3" height="3.5" fill="#c9944c"/>
<rect x="99.56" y="-3.17" width="3.3" height="3.5" fill="#c9944c"/>
<rect x="109.05" y="-2.15" width="3.3" height="3.5" fill="#c9944c"/>
<rect x="118.55" y="-1.75" width="3.3" height="3.5" fill="#c9944c"/>
<rect x="128.05" y="-1.75" width="3.3" height="3.5" fill="#c9944c"/>
<rect x="137.54" y="-1.75" width="3.3" height="3.5" fill="#c9944c"/>
<rect x="147.04" y="-1.75" width="3.3" height="3.5" fill="#c9944c"/>
<rect x="156.54" y="-1.75" width="3.3" height="3.5" fill="#c9944c"/>
<rect x="166.03" y="-1.75" width="3.3" height="3.5" fill="#c9944c"/>
<path fill="none" stroke="#e09b3f" stroke-width="0.98" stroke-linejoin="round" stroke-linecap="round" d="M15.74 -7.41L25.23 -30.25L34.73 -52.13L44.23 -54.18L53.72 -47.43L63.22 -43.36L72.72 -33.1L82.21 -16.75L91.71 -5.7"/>
<path d="M4.59 1.65L7.89 1.65L6.24 -2Z" fill="#e09b3f"/>
<path d="M14.09 -5.76L17.39 -5.76L15.74 -9.41Z" fill="#e09b3f"/>
<path d="M23.58 -28.6L26.88 -28.6L25.23 -32.25Z" fill="#e09b3f"/>
<path d="M33.08 -50.48L36.38 -50.48L34.73 -54.13Z" fill="#e09b3f"/>
<path d="M42.58 -52.53L45.88 -52.53L44.23 -56.18Z" fill="#e09b3f"/>
<path d="M52.07 -45.78L55.37 -45.78L53.72 -49.43Z" fill="#e09b3f"/>
<path d="M61.57 -41.71L64.87 -41.71L63.22 -45.36Z" fill="#e09b3f"/>
<path d="M71.07 -31.45L74.37 -31.45L72.72 -35.1Z" fill="#e09b3f"/>
<path d="M80.56 -15.1L83.86 -15.1L82.21 -18.75Z" fill="#e09b3f"/>
<path d="M90.06 -4.05L93.36 -4.05L91.71 -7.7Z" fill="#e09b3f"/>
<path d="M99.56 0.23L102.86 0.23L101.21 -3.42Z" fill="#e09b3f"/>
<path d="M109.05 1.25L112.35 1.25L110.7 -2.4Z" fill="#e09b3f"/>
<path d="M118.55 1.65L121.85 1.65L120.2 -2Z" fill="#e09b3f"/>
<path d="M128.05 1.65L131.35 1.65L129.7 -2Z" fill="#e09b3f"/>
<path d="M137.54 1.65L140.84 1.65L139.19 -2Z" fill="#e09b3f"/>
<path d="M147.04 1.65L150.34 1.65L148.69 -2Z" fill="#e09b3f"/>
<path d="M156.54 1.65L159.84 1.65L158.19 -2Z" fill="#e09b3f"/>
<path d="M166.03 1.65L169.33 1.65L167.68 -2Z" fill="#e09b3f"/>
<path fill="none" stroke="#bfb276" stroke-width="0.75" stroke-linejoin="round" stroke-linecap="round" d="M110.7 -0.9L120.2 -0.5L129.7 -0.5L139.19 -0.5L148.69 -0.5L158.19 -0.5L167.68 -0.5"/>
<path fill="none" stroke="#bfb276" stroke-width="0.98" stroke-linejoin="round" stroke-linecap="round" d="M15.74 -7.75L25.23 -31.68L34.73 -57.66L44.23 -67.06L53.72 -61.33L63.22 -55.21L72.72 -41.31L82.21 -19.83L91.71 -6.12"/>
<path fill="none" stroke="#bfb276" stroke-width="1.25" stroke-linejoin="round" stroke-linecap="round" d="M6.24 -0L15.74 -7.75M91.71 -6.12L101.21 -1.42L110.7 -0.4"/>
<path d="M4.59 -1.65L7.89 -1.65L6.24 2Z" fill="#bfb276"/>
<path d="M14.09 -9.4L17.39 -9.4L15.74 -5.75Z" fill="#bfb276"/>
<path d="M23.58 -33.33L26.88 -33.33L25.23 -29.68Z" fill="#bfb276"/>
<path d="M33.08 -59.31L36.38 -59.31L34.73 -55.66Z" fill="#bfb276"/>
<path d="M42.58 -68.71L45.88 -68.71L44.23 -65.06Z" fill="#bfb276"/>
<path d="M52.07 -62.98L55.37 -62.98L53.72 -59.33Z" fill="#bfb276"/>
<path d="M61.57 -56.86L64.87 -56.86L63.22 -53.21Z" fill="#bfb276"/>
<path d="M71.07 -42.96L74.37 -42.96L72.72 -39.31Z" fill="#bfb276"/>
<path d="M80.56 -21.48L83.86 -21.48L82.21 -17.83Z" fill="#bfb276"/>
<path d="M90.06 -7.77L93.36 -7.77L91.71 -4.12Z" fill="#bfb276"/>
<path d="M99.56 -3.07L102.86 -3.07L101.21 0.58Z" fill="#bfb276"/>
<path d="M109.05 -2.05L112.35 -2.05L110.7 1.6Z" fill="#bfb276"/>
<path d="M118.55 -1.65L121.85 -1.65L120.2 2Z" fill="#bfb276"/>
<path d="M128.05 -1.65L131.35 -1.65L129.7 2Z" fill="#bfb276"/>
<path d="M137.54 -1.65L140.84 -1.65L139.19 2Z" fill="#bfb276"/>
<path d="M147.04 -1.65L150.34 -1.65L148.69 2Z" fill="#bfb276"/>
<path d="M156.54 -1.65L159.84 -1.65L158.19 2Z" fill="#bfb276"/>
<path d="M166.03 -1.65L169.33 -1.65L167.68 2Z" fill="#bfb276"/>
<text class="b" transform="translate(87.17 -96.66) scale(0.952 1)" font-size="8.48" text-anchor="middle" fill="#111">East Asia</text>
<text x="179.56" y="2.4" font-size="7.15" fill="#1f1f1f" stroke="#1f1f1f" stroke-width="0.12">age (year)</text>
</g>
<g transform="translate(66.6 634.51) scale(1.17 1)">
<path d="M0 -85.99V0.53M-0.53 0H174.38" stroke="#0d0d0d" stroke-width="1.05" fill="none"/>
<text class="b" transform="translate(-3.2 2.35) scale(0.93 1)" font-size="6.65" text-anchor="end" fill="#0d0d0d">0</text>
<text class="b" transform="translate(-3.2 -26.14) scale(0.93 1)" font-size="6.65" text-anchor="end" fill="#0d0d0d">2000</text>
<text class="b" transform="translate(-3.2 -54.62) scale(0.93 1)" font-size="6.65" text-anchor="end" fill="#0d0d0d">4000</text>
<text class="b" transform="translate(-3.2 -83.11) scale(0.93 1)" font-size="6.65" text-anchor="end" fill="#0d0d0d">6000</text>
<text class="b" transform="translate(8.24 8.55) rotate(-45)" font-size="6.4" text-anchor="end" fill="#0d0d0d">10 to 14</text>
<text class="b" transform="translate(17.74 8.55) rotate(-45)" font-size="6.4" text-anchor="end" fill="#0d0d0d">15 to 19</text>
<text class="b" transform="translate(27.24 8.55) rotate(-45)" font-size="6.4" text-anchor="end" fill="#0d0d0d">20 to 24</text>
<text class="b" transform="translate(36.74 8.55) rotate(-45)" font-size="6.4" text-anchor="end" fill="#0d0d0d">25 to 29</text>
<text class="b" transform="translate(46.24 8.55) rotate(-45)" font-size="6.4" text-anchor="end" fill="#0d0d0d">30 to 34</text>
<text class="b" transform="translate(55.74 8.55) rotate(-45)" font-size="6.4" text-anchor="end" fill="#0d0d0d">35 to 39</text>
<text class="b" transform="translate(65.24 8.55) rotate(-45)" font-size="6.4" text-anchor="end" fill="#0d0d0d">40 to 44</text>
<text class="b" transform="translate(74.73 8.55) rotate(-45)" font-size="6.4" text-anchor="end" fill="#0d0d0d">45 to 49</text>
<text class="b" transform="translate(84.23 8.55) rotate(-45)" font-size="6.4" text-anchor="end" fill="#0d0d0d">50 to 54</text>
<text class="b" transform="translate(93.73 8.55) rotate(-45)" font-size="6.4" text-anchor="end" fill="#0d0d0d">55 to 59</text>
<text class="b" transform="translate(103.23 8.55) rotate(-45)" font-size="6.4" text-anchor="end" fill="#0d0d0d">60 to 64</text>
<text class="b" transform="translate(112.73 8.55) rotate(-45)" font-size="6.4" text-anchor="end" fill="#0d0d0d">65 to 69</text>
<text class="b" transform="translate(122.23 8.55) rotate(-45)" font-size="6.4" text-anchor="end" fill="#0d0d0d">70 to 74</text>
<text class="b" transform="translate(131.73 8.55) rotate(-45)" font-size="6.4" text-anchor="end" fill="#0d0d0d">75 to 79</text>
<text class="b" transform="translate(141.23 8.55) rotate(-45)" font-size="6.4" text-anchor="end" fill="#0d0d0d">80 to 84</text>
<text class="b" transform="translate(150.73 8.55) rotate(-45)" font-size="6.4" text-anchor="end" fill="#0d0d0d">85 to 89</text>
<text class="b" transform="translate(160.22 8.55) rotate(-45)" font-size="6.4" text-anchor="end" fill="#0d0d0d">90 to 94</text>
<text class="b" transform="translate(169.72 8.55) rotate(-45)" font-size="6.4" text-anchor="end" fill="#0d0d0d">95 plus</text>
<path d="M-2.4 0H0M-2.4 -28.49H0M-2.4 -56.97H0M-2.4 -85.46H0M6.24 0V3.1M15.74 0V3.1M25.24 0V3.1M34.74 0V3.1M44.24 0V3.1M53.74 0V3.1M63.24 0V3.1M72.73 0V3.1M82.23 0V3.1M91.73 0V3.1M101.23 0V3.1M110.73 0V3.1M120.23 0V3.1M129.73 0V3.1M139.23 0V3.1M148.73 0V3.1M158.22 0V3.1M167.72 0V3.1" stroke="#0d0d0d" stroke-width="1.05" fill="none"/>
<ellipse cx="6.24" cy="-0" rx="1.45" ry="1.55" fill="#8f601f"/>
<ellipse cx="15.74" cy="-9.61" rx="1.45" ry="1.55" fill="#8f601f"/>
<ellipse cx="25.24" cy="-31.69" rx="1.45" ry="1.55" fill="#8f601f"/>
<ellipse cx="34.74" cy="-54.55" rx="1.45" ry="1.55" fill="#8f601f"/>
<ellipse cx="44.24" cy="-61.32" rx="1.45" ry="1.55" fill="#8f601f"/>
<ellipse cx="53.74" cy="-56.26" rx="1.45" ry="1.55" fill="#8f601f"/>
<ellipse cx="63.24" cy="-51.56" rx="1.45" ry="1.55" fill="#8f601f"/>
<ellipse cx="72.73" cy="-40.31" rx="1.45" ry="1.55" fill="#8f601f"/>
<ellipse cx="82.23" cy="-20.51" rx="1.45" ry="1.55" fill="#8f601f"/>
<ellipse cx="91.73" cy="-7.55" rx="1.45" ry="1.55" fill="#8f601f"/>
<ellipse cx="101.23" cy="-2.07" rx="1.45" ry="1.55" fill="#8f601f"/>
<ellipse cx="110.73" cy="-0.5" rx="1.45" ry="1.55" fill="#8f601f"/>
<ellipse cx="120.23" cy="-0" rx="1.45" ry="1.55" fill="#8f601f"/>
<ellipse cx="129.73" cy="-0" rx="1.45" ry="1.55" fill="#8f601f"/>
<ellipse cx="139.23" cy="-0" rx="1.45" ry="1.55" fill="#8f601f"/>
<ellipse cx="148.73" cy="-0" rx="1.45" ry="1.55" fill="#8f601f"/>
<ellipse cx="158.22" cy="-0" rx="1.45" ry="1.55" fill="#8f601f"/>
<ellipse cx="167.72" cy="-0" rx="1.45" ry="1.55" fill="#8f601f"/>
<rect x="4.59" y="-1.75" width="3.3" height="3.5" fill="#c9944c"/>
<rect x="14.09" y="-11.36" width="3.3" height="3.5" fill="#c9944c"/>
<rect x="23.59" y="-33.44" width="3.3" height="3.5" fill="#c9944c"/>
<rect x="33.09" y="-56.3" width="3.3" height="3.5" fill="#c9944c"/>
<rect x="42.59" y="-63.07" width="3.3" height="3.5" fill="#c9944c"/>
<rect x="52.09" y="-58.01" width="3.3" height="3.5" fill="#c9944c"/>
<rect x="61.59" y="-53.31" width="3.3" height="3.5" fill="#c9944c"/>
<rect x="71.08" y="-42.06" width="3.3" height="3.5" fill="#c9944c"/>
<rect x="80.58" y="-22.26" width="3.3" height="3.5" fill="#c9944c"/>
<rect x="90.08" y="-9.3" width="3.3" height="3.5" fill="#c9944c"/>
<rect x="99.58" y="-3.82" width="3.3" height="3.5" fill="#c9944c"/>
<rect x="109.08" y="-2.25" width="3.3" height="3.5" fill="#c9944c"/>
<rect x="118.58" y="-1.75" width="3.3" height="3.5" fill="#c9944c"/>
<rect x="128.08" y="-1.75" width="3.3" height="3.5" fill="#c9944c"/>
<rect x="137.58" y="-1.75" width="3.3" height="3.5" fill="#c9944c"/>
<rect x="147.08" y="-1.75" width="3.3" height="3.5" fill="#c9944c"/>
<rect x="156.57" y="-1.75" width="3.3" height="3.5" fill="#c9944c"/>
<rect x="166.07" y="-1.75" width="3.3" height="3.5" fill="#c9944c"/>
<path fill="none" stroke="#e09b3f" stroke-width="1.25" stroke-linejoin="round" stroke-linecap="round" d="M15.74 -9.61L25.24 -31.34L34.74 -54.27L44.24 -61.1L53.74 -56.05L63.24 -51.35L72.73 -40.02L82.23 -20.3L91.73 -7.55"/>
<rect x="4.59" y="-1.75" width="3.3" height="3.5" fill="#e09b3f"/>
<rect x="14.09" y="-11.36" width="3.3" height="3.5" fill="#e09b3f"/>
<rect x="23.59" y="-33.09" width="3.3" height="3.5" fill="#e09b3f"/>
<rect x="33.09" y="-56.02" width="3.3" height="3.5" fill="#e09b3f"/>
<rect x="42.59" y="-62.85" width="3.3" height="3.5" fill="#e09b3f"/>
<rect x="52.09" y="-57.8" width="3.3" height="3.5" fill="#e09b3f"/>
<rect x="61.59" y="-53.1" width="3.3" height="3.5" fill="#e09b3f"/>
<rect x="71.08" y="-41.77" width="3.3" height="3.5" fill="#e09b3f"/>
<rect x="80.58" y="-22.05" width="3.3" height="3.5" fill="#e09b3f"/>
<rect x="90.08" y="-9.3" width="3.3" height="3.5" fill="#e09b3f"/>
<rect x="99.58" y="-3.82" width="3.3" height="3.5" fill="#e09b3f"/>
<rect x="109.08" y="-2.25" width="3.3" height="3.5" fill="#e09b3f"/>
<rect x="118.58" y="-1.75" width="3.3" height="3.5" fill="#e09b3f"/>
<rect x="128.08" y="-1.75" width="3.3" height="3.5" fill="#e09b3f"/>
<rect x="137.58" y="-1.75" width="3.3" height="3.5" fill="#e09b3f"/>
<rect x="147.08" y="-1.75" width="3.3" height="3.5" fill="#e09b3f"/>
<rect x="156.57" y="-1.75" width="3.3" height="3.5" fill="#e09b3f"/>
<rect x="166.07" y="-1.75" width="3.3" height="3.5" fill="#e09b3f"/>
<path fill="none" stroke="#bfb276" stroke-width="0.75" stroke-linejoin="round" stroke-linecap="round" d="M110.73 -1L120.23 -0.5L129.73 -0.5L139.23 -0.5L148.73 -0.5L158.22 -0.5L167.72 -0.5"/>
<path fill="none" stroke="#bfb276" stroke-width="0.98" stroke-linejoin="round" stroke-linecap="round" d="M15.74 -9.61L25.24 -33.76L34.74 -59.89L44.24 -68.08L53.74 -61.96L63.24 -55.62L72.73 -42.94L82.23 -21.37"/>
<path fill="none" stroke="#bfb276" stroke-width="1.25" stroke-linejoin="round" stroke-linecap="round" d="M6.24 -0L15.74 -9.61M82.23 -21.37L91.73 -7.55L101.23 -2.07L110.73 -0.5"/>
<ellipse cx="6.24" cy="-0" rx="1.55" ry="1.8" fill="#cfc594" stroke="#a89a5c" stroke-width="0.7"/>
<ellipse cx="15.74" cy="-9.61" rx="1.55" ry="1.8" fill="#cfc594" stroke="#a89a5c" stroke-width="0.7"/>
<ellipse cx="25.24" cy="-33.76" rx="1.55" ry="1.8" fill="#cfc594" stroke="#a89a5c" stroke-width="0.7"/>
<ellipse cx="34.74" cy="-59.89" rx="1.55" ry="1.8" fill="#cfc594" stroke="#a89a5c" stroke-width="0.7"/>
<ellipse cx="44.24" cy="-68.08" rx="1.55" ry="1.8" fill="#cfc594" stroke="#a89a5c" stroke-width="0.7"/>
<ellipse cx="53.74" cy="-61.96" rx="1.55" ry="1.8" fill="#cfc594" stroke="#a89a5c" stroke-width="0.7"/>
<ellipse cx="63.24" cy="-55.62" rx="1.55" ry="1.8" fill="#cfc594" stroke="#a89a5c" stroke-width="0.7"/>
<ellipse cx="72.73" cy="-42.94" rx="1.55" ry="1.8" fill="#cfc594" stroke="#a89a5c" stroke-width="0.7"/>
<ellipse cx="82.23" cy="-21.37" rx="1.55" ry="1.8" fill="#cfc594" stroke="#a89a5c" stroke-width="0.7"/>
<ellipse cx="91.73" cy="-7.55" rx="1.55" ry="1.8" fill="#cfc594" stroke="#a89a5c" stroke-width="0.7"/>
<ellipse cx="101.23" cy="-2.07" rx="1.55" ry="1.8" fill="#cfc594" stroke="#a89a5c" stroke-width="0.7"/>
<ellipse cx="110.73" cy="-0.5" rx="1.55" ry="1.8" fill="#cfc594" stroke="#a89a5c" stroke-width="0.7"/>
<ellipse cx="120.23" cy="-0" rx="1.55" ry="1.8" fill="#cfc594" stroke="#a89a5c" stroke-width="0.7"/>
<ellipse cx="129.73" cy="-0" rx="1.55" ry="1.8" fill="#cfc594" stroke="#a89a5c" stroke-width="0.7"/>
<ellipse cx="139.23" cy="-0" rx="1.55" ry="1.8" fill="#cfc594" stroke="#a89a5c" stroke-width="0.7"/>
<ellipse cx="148.73" cy="-0" rx="1.55" ry="1.8" fill="#cfc594" stroke="#a89a5c" stroke-width="0.7"/>
<ellipse cx="158.22" cy="-0" rx="1.55" ry="1.8" fill="#cfc594" stroke="#a89a5c" stroke-width="0.7"/>
<ellipse cx="167.72" cy="-0" rx="1.55" ry="1.8" fill="#cfc594" stroke="#a89a5c" stroke-width="0.7"/>
<text class="b" transform="translate(87.19 -96.66) scale(0.952 1)" font-size="8.48" text-anchor="middle" fill="#111">South Asia</text>
<text x="179.6" y="2.4" font-size="7.15" fill="#1f1f1f" stroke="#1f1f1f" stroke-width="0.12">age (year)</text>
</g>
<g transform="translate(329.65 634.51) scale(1.17 1)">
<path d="M0 -85.99V0.53M-0.53 0H174.34" stroke="#0d0d0d" stroke-width="1.05" fill="none"/>
<text class="b" transform="translate(-3.2 2.35) scale(0.93 1)" font-size="6.65" text-anchor="end" fill="#0d0d0d">0</text>
<text class="b" transform="translate(-3.2 -26.14) scale(0.93 1)" font-size="6.65" text-anchor="end" fill="#0d0d0d">5000</text>
<text class="b" transform="translate(-3.2 -54.62) scale(0.93 1)" font-size="6.65" text-anchor="end" fill="#0d0d0d">10000</text>
<text class="b" transform="translate(-3.2 -83.11) scale(0.93 1)" font-size="6.65" text-anchor="end" fill="#0d0d0d">15000</text>
<text class="b" transform="translate(8.24 8.55) rotate(-45)" font-size="6.4" text-anchor="end" fill="#0d0d0d">10 to 14</text>
<text class="b" transform="translate(17.74 8.55) rotate(-45)" font-size="6.4" text-anchor="end" fill="#0d0d0d">15 to 19</text>
<text class="b" transform="translate(27.23 8.55) rotate(-45)" font-size="6.4" text-anchor="end" fill="#0d0d0d">20 to 24</text>
<text class="b" transform="translate(36.73 8.55) rotate(-45)" font-size="6.4" text-anchor="end" fill="#0d0d0d">25 to 29</text>
<text class="b" transform="translate(46.23 8.55) rotate(-45)" font-size="6.4" text-anchor="end" fill="#0d0d0d">30 to 34</text>
<text class="b" transform="translate(55.72 8.55) rotate(-45)" font-size="6.4" text-anchor="end" fill="#0d0d0d">35 to 39</text>
<text class="b" transform="translate(65.22 8.55) rotate(-45)" font-size="6.4" text-anchor="end" fill="#0d0d0d">40 to 44</text>
<text class="b" transform="translate(74.72 8.55) rotate(-45)" font-size="6.4" text-anchor="end" fill="#0d0d0d">45 to 49</text>
<text class="b" transform="translate(84.21 8.55) rotate(-45)" font-size="6.4" text-anchor="end" fill="#0d0d0d">50 to 54</text>
<text class="b" transform="translate(93.71 8.55) rotate(-45)" font-size="6.4" text-anchor="end" fill="#0d0d0d">55 to 59</text>
<text class="b" transform="translate(103.21 8.55) rotate(-45)" font-size="6.4" text-anchor="end" fill="#0d0d0d">60 to 64</text>
<text class="b" transform="translate(112.7 8.55) rotate(-45)" font-size="6.4" text-anchor="end" fill="#0d0d0d">65 to 69</text>
<text class="b" transform="translate(122.2 8.55) rotate(-45)" font-size="6.4" text-anchor="end" fill="#0d0d0d">70 to 74</text>
<text class="b" transform="translate(131.7 8.55) rotate(-45)" font-size="6.4" text-anchor="end" fill="#0d0d0d">75 to 79</text>
<text class="b" transform="translate(141.19 8.55) rotate(-45)" font-size="6.4" text-anchor="end" fill="#0d0d0d">80 to 84</text>
<text class="b" transform="translate(150.69 8.55) rotate(-45)" font-size="6.4" text-anchor="end" fill="#0d0d0d">85 to 89</text>
<text class="b" transform="translate(160.19 8.55) rotate(-45)" font-size="6.4" text-anchor="end" fill="#0d0d0d">90 to 94</text>
<text class="b" transform="translate(169.68 8.55) rotate(-45)" font-size="6.4" text-anchor="end" fill="#0d0d0d">95 plus</text>
<path d="M-2.4 0H0M-2.4 -28.49H0M-2.4 -56.97H0M-2.4 -85.46H0M6.24 0V3.1M15.74 0V3.1M25.23 0V3.1M34.73 0V3.1M44.23 0V3.1M53.72 0V3.1M63.22 0V3.1M72.72 0V3.1M82.21 0V3.1M91.71 0V3.1M101.21 0V3.1M110.7 0V3.1M120.2 0V3.1M129.7 0V3.1M139.19 0V3.1M148.69 0V3.1M158.19 0V3.1M167.68 0V3.1" stroke="#0d0d0d" stroke-width="1.05" fill="none"/>
<ellipse cx="6.24" cy="-0" rx="1.45" ry="1.55" fill="#8f601f"/>
<ellipse cx="15.74" cy="-9.63" rx="1.45" ry="1.55" fill="#8f601f"/>
<ellipse cx="25.23" cy="-36.8" rx="1.45" ry="1.55" fill="#8f601f"/>
<ellipse cx="34.73" cy="-62.76" rx="1.45" ry="1.55" fill="#8f601f"/>
<ellipse cx="44.23" cy="-67.46" rx="1.45" ry="1.55" fill="#8f601f"/>
<ellipse cx="53.72" cy="-59.71" rx="1.45" ry="1.55" fill="#8f601f"/>
<ellipse cx="63.22" cy="-53.16" rx="1.45" ry="1.55" fill="#8f601f"/>
<ellipse cx="72.72" cy="-40.48" rx="1.45" ry="1.55" fill="#8f601f"/>
<ellipse cx="82.21" cy="-20.45" rx="1.45" ry="1.55" fill="#8f601f"/>
<ellipse cx="91.71" cy="-6.95" rx="1.45" ry="1.55" fill="#8f601f"/>
<ellipse cx="101.21" cy="-1.42" rx="1.45" ry="1.55" fill="#8f601f"/>
<ellipse cx="110.7" cy="-0.4" rx="1.45" ry="1.55" fill="#8f601f"/>
<ellipse cx="120.2" cy="-0" rx="1.45" ry="1.55" fill="#8f601f"/>
<ellipse cx="129.7" cy="-0" rx="1.45" ry="1.55" fill="#8f601f"/>
<ellipse cx="139.19" cy="-0" rx="1.45" ry="1.55" fill="#8f601f"/>
<ellipse cx="148.69" cy="-0" rx="1.45" ry="1.55" fill="#8f601f"/>
<ellipse cx="158.19" cy="-0" rx="1.45" ry="1.55" fill="#8f601f"/>
<ellipse cx="167.68" cy="-0" rx="1.45" ry="1.55" fill="#8f601f"/>
<rect x="4.59" y="-1.75" width="3.3" height="3.5" fill="#c9944c"/>
<rect x="14.09" y="-11.38" width="3.3" height="3.5" fill="#c9944c"/>
<rect x="23.58" y="-38.55" width="3.3" height="3.5" fill="#c9944c"/>
<rect x="33.08" y="-64.51" width="3.3" height="3.5" fill="#c9944c"/>
<rect x="42.58" y="-69.21" width="3.3" height="3.5" fill="#c9944c"/>
<rect x="52.07" y="-61" width="3.3" height="3.5" fill="#c9944c"/>
<rect x="61.57" y="-54.45" width="3.3" height="3.5" fill="#c9944c"/>
<rect x="71.07" y="-42.23" width="3.3" height="3.5" fill="#c9944c"/>
<rect x="80.56" y="-22.2" width="3.3" height="3.5" fill="#c9944c"/>
<rect x="90.06" y="-8.7" width="3.3" height="3.5" fill="#c9944c"/>
<rect x="99.56" y="-3.17" width="3.3" height="3.5" fill="#c9944c"/>
<rect x="109.05" y="-2.15" width="3.3" height="3.5" fill="#c9944c"/>
<rect x="118.55" y="-1.75" width="3.3" height="3.5" fill="#c9944c"/>
<rect x="128.05" y="-1.75" width="3.3" height="3.5" fill="#c9944c"/>
<rect x="137.54" y="-1.75" width="3.3" height="3.5" fill="#c9944c"/>
<rect x="147.04" y="-1.75" width="3.3" height="3.5" fill="#c9944c"/>
<rect x="156.54" y="-1.75" width="3.3" height="3.5" fill="#c9944c"/>
<rect x="166.03" y="-1.75" width="3.3" height="3.5" fill="#c9944c"/>
<path fill="none" stroke="#e09b3f" stroke-width="1.25" stroke-linejoin="round" stroke-linecap="round" d="M15.74 -9.63L25.23 -36.35L34.73 -62.39L44.23 -67.46L53.72 -59.37L63.22 -52.87L72.72 -40.48"/>
<path d="M4.59 1.65L7.89 1.65L6.24 -2Z" fill="#e09b3f"/>
<path d="M14.09 -7.98L17.39 -7.98L15.74 -11.63Z" fill="#e09b3f"/>
<path d="M23.58 -34.7L26.88 -34.7L25.23 -38.35Z" fill="#e09b3f"/>
<path d="M33.08 -60.74L36.38 -60.74L34.73 -64.39Z" fill="#e09b3f"/>
<path d="M42.58 -65.81L45.88 -65.81L44.23 -69.46Z" fill="#e09b3f"/>
<path d="M52.07 -57.72L55.37 -57.72L53.72 -61.37Z" fill="#e09b3f"/>
<path d="M61.57 -51.22L64.87 -51.22L63.22 -54.87Z" fill="#e09b3f"/>
<path d="M71.07 -38.83L74.37 -38.83L72.72 -42.48Z" fill="#e09b3f"/>
<path d="M80.56 -18.8L83.86 -18.8L82.21 -22.45Z" fill="#e09b3f"/>
<path d="M90.06 -5.3L93.36 -5.3L91.71 -8.95Z" fill="#e09b3f"/>
<path d="M99.56 0.23L102.86 0.23L101.21 -3.42Z" fill="#e09b3f"/>
<path d="M109.05 1.25L112.35 1.25L110.7 -2.4Z" fill="#e09b3f"/>
<path d="M118.55 1.65L121.85 1.65L120.2 -2Z" fill="#e09b3f"/>
<path d="M128.05 1.65L131.35 1.65L129.7 -2Z" fill="#e09b3f"/>
<path d="M137.54 1.65L140.84 1.65L139.19 -2Z" fill="#e09b3f"/>
<path d="M147.04 1.65L150.34 1.65L148.69 -2Z" fill="#e09b3f"/>
<path d="M156.54 1.65L159.84 1.65L158.19 -2Z" fill="#e09b3f"/>
<path d="M166.03 1.65L169.33 1.65L167.68 -2Z" fill="#e09b3f"/>
<path fill="none" stroke="#bfb276" stroke-width="0.75" stroke-linejoin="round" stroke-linecap="round" d="M110.7 -0.9L120.2 -0.5L129.7 -0.5L139.19 -0.5L148.69 -0.5L158.19 -0.5L167.68 -0.5"/>
<path fill="none" stroke="#bfb276" stroke-width="1.25" stroke-linejoin="round" stroke-linecap="round" d="M6.24 -0L15.74 -9.63L25.23 -37.03L34.73 -62.96L44.23 -67.46L53.72 -59.94L63.22 -53.44L72.72 -40.48L82.21 -20.45L91.71 -6.95L101.21 -1.42L110.7 -0.4"/>
<path d="M4.59 -1.65L7.89 -1.65L6.24 2Z" fill="#bfb276"/>
<path d="M14.09 -11.28L17.39 -11.28L15.74 -7.63Z" fill="#bfb276"/>
<path d="M23.58 -38.68L26.88 -38.68L25.23 -35.03Z" fill="#bfb276"/>
<path d="M33.08 -64.61L36.38 -64.61L34.73 -60.96Z" fill="#bfb276"/>
<path d="M42.58 -69.11L45.88 -69.11L44.23 -65.46Z" fill="#bfb276"/>
<path d="M52.07 -61.59L55.37 -61.59L53.72 -57.94Z" fill="#bfb276"/>
<path d="M61.57 -55.09L64.87 -55.09L63.22 -51.44Z" fill="#bfb276"/>
<path d="M71.07 -42.13L74.37 -42.13L72.72 -38.48Z" fill="#bfb276"/>
<path d="M80.56 -22.1L83.86 -22.1L82.21 -18.45Z" fill="#bfb276"/>
<path d="M90.06 -8.6L93.36 -8.6L91.71 -4.95Z" fill="#bfb276"/>
<path d="M99.56 -3.07L102.86 -3.07L101.21 0.58Z" fill="#bfb276"/>
<path d="M109.05 -2.05L112.35 -2.05L110.7 1.6Z" fill="#bfb276"/>
<path d="M118.55 -1.65L121.85 -1.65L120.2 2Z" fill="#bfb276"/>
<path d="M128.05 -1.65L131.35 -1.65L129.7 2Z" fill="#bfb276"/>
<path d="M137.54 -1.65L140.84 -1.65L139.19 2Z" fill="#bfb276"/>
<path d="M147.04 -1.65L150.34 -1.65L148.69 2Z" fill="#bfb276"/>
<path d="M156.54 -1.65L159.84 -1.65L158.19 2Z" fill="#bfb276"/>
<path d="M166.03 -1.65L169.33 -1.65L167.68 2Z" fill="#bfb276"/>
<text class="b" transform="translate(87.17 -96.66) scale(0.952 1)" font-size="8.48" text-anchor="middle" fill="#111">Southeast Asia</text>
<text x="179.56" y="2.4" font-size="7.15" fill="#1f1f1f" stroke="#1f1f1f" stroke-width="0.12">age (year)</text>
</g>
<g transform="translate(67.04 777.7) scale(1.17 1)">
<path d="M0 -86.73V0.53M-0.53 0H175.05" stroke="#0d0d0d" stroke-width="1.05" fill="none"/>
<text class="b" transform="translate(-3.2 2.35) scale(0.93 1)" font-size="6.65" text-anchor="end" fill="#0d0d0d">0</text>
<text class="b" transform="translate(-3.2 -26.38) scale(0.93 1)" font-size="6.65" text-anchor="end" fill="#0d0d0d">2000</text>
<text class="b" transform="translate(-3.2 -55.12) scale(0.93 1)" font-size="6.65" text-anchor="end" fill="#0d0d0d">4000</text>
<text class="b" transform="translate(-3.2 -83.85) scale(0.93 1)" font-size="6.65" text-anchor="end" fill="#0d0d0d">6000</text>
<text class="b" transform="translate(8.27 8.55) rotate(-45)" font-size="6.4" text-anchor="end" fill="#0d0d0d">10 to 14</text>
<text class="b" transform="translate(17.8 8.55) rotate(-45)" font-size="6.4" text-anchor="end" fill="#0d0d0d">15 to 19</text>
<text class="b" transform="translate(27.34 8.55) rotate(-45)" font-size="6.4" text-anchor="end" fill="#0d0d0d">20 to 24</text>
<text class="b" transform="translate(36.87 8.55) rotate(-45)" font-size="6.4" text-anchor="end" fill="#0d0d0d">25 to 29</text>
<text class="b" transform="translate(46.41 8.55) rotate(-45)" font-size="6.4" text-anchor="end" fill="#0d0d0d">30 to 34</text>
<text class="b" transform="translate(55.94 8.55) rotate(-45)" font-size="6.4" text-anchor="end" fill="#0d0d0d">35 to 39</text>
<text class="b" transform="translate(65.48 8.55) rotate(-45)" font-size="6.4" text-anchor="end" fill="#0d0d0d">40 to 44</text>
<text class="b" transform="translate(75.01 8.55) rotate(-45)" font-size="6.4" text-anchor="end" fill="#0d0d0d">45 to 49</text>
<text class="b" transform="translate(84.55 8.55) rotate(-45)" font-size="6.4" text-anchor="end" fill="#0d0d0d">50 to 54</text>
<text class="b" transform="translate(94.08 8.55) rotate(-45)" font-size="6.4" text-anchor="end" fill="#0d0d0d">55 to 59</text>
<text class="b" transform="translate(103.62 8.55) rotate(-45)" font-size="6.4" text-anchor="end" fill="#0d0d0d">60 to 64</text>
<text class="b" transform="translate(113.15 8.55) rotate(-45)" font-size="6.4" text-anchor="end" fill="#0d0d0d">65 to 69</text>
<text class="b" transform="translate(122.69 8.55) rotate(-45)" font-size="6.4" text-anchor="end" fill="#0d0d0d">70 to 74</text>
<text class="b" transform="translate(132.22 8.55) rotate(-45)" font-size="6.4" text-anchor="end" fill="#0d0d0d">75 to 79</text>
<text class="b" transform="translate(141.76 8.55) rotate(-45)" font-size="6.4" text-anchor="end" fill="#0d0d0d">80 to 84</text>
<text class="b" transform="translate(151.29 8.55) rotate(-45)" font-size="6.4" text-anchor="end" fill="#0d0d0d">85 to 89</text>
<text class="b" transform="translate(160.83 8.55) rotate(-45)" font-size="6.4" text-anchor="end" fill="#0d0d0d">90 to 94</text>
<text class="b" transform="translate(170.36 8.55) rotate(-45)" font-size="6.4" text-anchor="end" fill="#0d0d0d">95 plus</text>
<path d="M-2.4 0H0M-2.4 -28.73H0M-2.4 -57.47H0M-2.4 -86.2H0M6.27 0V3.1M15.8 0V3.1M25.34 0V3.1M34.87 0V3.1M44.41 0V3.1M53.94 0V3.1M63.48 0V3.1M73.01 0V3.1M82.55 0V3.1M92.08 0V3.1M101.62 0V3.1M111.15 0V3.1M120.69 0V3.1M130.22 0V3.1M139.76 0V3.1M149.29 0V3.1M158.83 0V3.1M168.36 0V3.1" stroke="#0d0d0d" stroke-width="1.05" fill="none"/>
<path fill="none" stroke="#8f601f" stroke-width="0.98" stroke-linejoin="round" stroke-linecap="round" d="M25.34 -51.29L34.87 -79.59L44.41 -80.67M53.94 -71.12L63.48 -63.5L73.01 -47.19"/>
<ellipse cx="6.27" cy="-0" rx="1.45" ry="1.55" fill="#8f601f"/>
<ellipse cx="15.8" cy="-15.37" rx="1.45" ry="1.55" fill="#8f601f"/>
<ellipse cx="25.34" cy="-51.29" rx="1.45" ry="1.55" fill="#8f601f"/>
<ellipse cx="34.87" cy="-79.59" rx="1.45" ry="1.55" fill="#8f601f"/>
<ellipse cx="44.41" cy="-80.67" rx="1.45" ry="1.55" fill="#8f601f"/>
<ellipse cx="53.94" cy="-71.12" rx="1.45" ry="1.55" fill="#8f601f"/>
<ellipse cx="63.48" cy="-63.5" rx="1.45" ry="1.55" fill="#8f601f"/>
<ellipse cx="73.01" cy="-47.19" rx="1.45" ry="1.55" fill="#8f601f"/>
<ellipse cx="82.55" cy="-24.64" rx="1.45" ry="1.55" fill="#8f601f"/>
<ellipse cx="92.08" cy="-9.19" rx="1.45" ry="1.55" fill="#8f601f"/>
<ellipse cx="101.62" cy="-2.44" rx="1.45" ry="1.55" fill="#8f601f"/>
<ellipse cx="111.15" cy="-0.65" rx="1.45" ry="1.55" fill="#8f601f"/>
<ellipse cx="120.69" cy="-0" rx="1.45" ry="1.55" fill="#8f601f"/>
<ellipse cx="130.22" cy="-0" rx="1.45" ry="1.55" fill="#8f601f"/>
<ellipse cx="139.76" cy="-0" rx="1.45" ry="1.55" fill="#8f601f"/>
<ellipse cx="149.29" cy="-0" rx="1.45" ry="1.55" fill="#8f601f"/>
<ellipse cx="158.83" cy="-0" rx="1.45" ry="1.55" fill="#8f601f"/>
<ellipse cx="168.36" cy="-0" rx="1.45" ry="1.55" fill="#8f601f"/>
<rect x="4.62" y="-1.75" width="3.3" height="3.5" fill="#c9944c"/>
<rect x="14.15" y="-17.12" width="3.3" height="3.5" fill="#c9944c"/>
<rect x="23.69" y="-53.04" width="3.3" height="3.5" fill="#c9944c"/>
<rect x="33.22" y="-80.77" width="3.3" height="3.5" fill="#c9944c"/>
<rect x="42.76" y="-82.42" width="3.3" height="3.5" fill="#c9944c"/>
<rect x="52.29" y="-72.15" width="3.3" height="3.5" fill="#c9944c"/>
<rect x="61.83" y="-64.53" width="3.3" height="3.5" fill="#c9944c"/>
<rect x="71.36" y="-48.94" width="3.3" height="3.5" fill="#c9944c"/>
<rect x="80.9" y="-26.39" width="3.3" height="3.5" fill="#c9944c"/>
<rect x="90.43" y="-10.94" width="3.3" height="3.5" fill="#c9944c"/>
<rect x="99.97" y="-4.19" width="3.3" height="3.5" fill="#c9944c"/>
<rect x="109.5" y="-2.4" width="3.3" height="3.5" fill="#c9944c"/>
<rect x="119.04" y="-1.75" width="3.3" height="3.5" fill="#c9944c"/>
<rect x="128.57" y="-1.75" width="3.3" height="3.5" fill="#c9944c"/>
<rect x="138.11" y="-1.75" width="3.3" height="3.5" fill="#c9944c"/>
<rect x="147.64" y="-1.75" width="3.3" height="3.5" fill="#c9944c"/>
<rect x="157.18" y="-1.75" width="3.3" height="3.5" fill="#c9944c"/>
<rect x="166.71" y="-1.75" width="3.3" height="3.5" fill="#c9944c"/>
<path fill="none" stroke="#e09b3f" stroke-width="0.98" stroke-linejoin="round" stroke-linecap="round" d="M44.41 -80.67L53.94 -70.11L63.48 -62.5"/>
<path d="M4.62 1.65L7.92 1.65L6.27 -2Z" fill="#e09b3f"/>
<path d="M14.15 -13.72L17.45 -13.72L15.8 -17.37Z" fill="#e09b3f"/>
<path d="M23.69 -49.64L26.99 -49.64L25.34 -53.29Z" fill="#e09b3f"/>
<path d="M33.22 -77.08L36.52 -77.08L34.87 -80.73Z" fill="#e09b3f"/>
<path d="M42.76 -79.02L46.06 -79.02L44.41 -82.67Z" fill="#e09b3f"/>
<path d="M52.29 -68.46L55.59 -68.46L53.94 -72.11Z" fill="#e09b3f"/>
<path d="M61.83 -60.85L65.13 -60.85L63.48 -64.5Z" fill="#e09b3f"/>
<path d="M71.36 -45.54L74.66 -45.54L73.01 -49.19Z" fill="#e09b3f"/>
<path d="M80.9 -22.99L84.2 -22.99L82.55 -26.64Z" fill="#e09b3f"/>
<path d="M90.43 -7.54L93.73 -7.54L92.08 -11.19Z" fill="#e09b3f"/>
<path d="M99.97 -0.79L103.27 -0.79L101.62 -4.44Z" fill="#e09b3f"/>
<path d="M109.5 1L112.8 1L111.15 -2.65Z" fill="#e09b3f"/>
<path d="M119.04 1.65L122.34 1.65L120.69 -2Z" fill="#e09b3f"/>
<path d="M128.57 1.65L131.87 1.65L130.22 -2Z" fill="#e09b3f"/>
<path d="M138.11 1.65L141.41 1.65L139.76 -2Z" fill="#e09b3f"/>
<path d="M147.64 1.65L150.94 1.65L149.29 -2Z" fill="#e09b3f"/>
<path d="M157.18 1.65L160.48 1.65L158.83 -2Z" fill="#e09b3f"/>
<path d="M166.71 1.65L170.01 1.65L168.36 -2Z" fill="#e09b3f"/>
<path fill="none" stroke="#bfb276" stroke-width="0.75" stroke-linejoin="round" stroke-linecap="round" d="M111.15 -1.15L120.69 -0.5L130.22 -0.5L139.76 -0.5L149.29 -0.5L158.83 -0.5L168.36 -0.5"/>
<path fill="none" stroke="#bfb276" stroke-width="0.98" stroke-linejoin="round" stroke-linecap="round" d="M53.94 -70.68L63.48 -62.93"/>
<path fill="none" stroke="#bfb276" stroke-width="1.25" stroke-linejoin="round" stroke-linecap="round" d="M6.27 -0L15.8 -15.37L25.34 -51.29L34.87 -79.02L44.41 -80.67L53.94 -70.68M63.48 -62.93L73.01 -47.19L82.55 -24.64L92.08 -9.19L101.62 -2.44L111.15 -0.65"/>
<path d="M4.62 -1.65L7.92 -1.65L6.27 2Z" fill="#bfb276"/>
<path d="M14.15 -17.02L17.45 -17.02L15.8 -13.37Z" fill="#bfb276"/>
<path d="M23.69 -52.94L26.99 -52.94L25.34 -49.29Z" fill="#bfb276"/>
<path d="M33.22 -80.67L36.52 -80.67L34.87 -77.02Z" fill="#bfb276"/>
<path d="M42.76 -82.32L46.06 -82.32L44.41 -78.67Z" fill="#bfb276"/>
<path d="M52.29 -72.33L55.59 -72.33L53.94 -68.68Z" fill="#bfb276"/>
<path d="M61.83 -64.58L65.13 -64.58L63.48 -60.93Z" fill="#bfb276"/>
<path d="M71.36 -48.84L74.66 -48.84L73.01 -45.19Z" fill="#bfb276"/>
<path d="M80.9 -26.29L84.2 -26.29L82.55 -22.64Z" fill="#bfb276"/>
<path d="M90.43 -10.84L93.73 -10.84L92.08 -7.19Z" fill="#bfb276"/>
<path d="M99.97 -4.09L103.27 -4.09L101.62 -0.44Z" fill="#bfb276"/>
<path d="M109.5 -2.3L112.8 -2.3L111.15 1.35Z" fill="#bfb276"/>
<path d="M119.04 -1.65L122.34 -1.65L120.69 2Z" fill="#bfb276"/>
<path d="M128.57 -1.65L131.87 -1.65L130.22 2Z" fill="#bfb276"/>
<path d="M138.11 -1.65L141.41 -1.65L139.76 2Z" fill="#bfb276"/>
<path d="M147.64 -1.65L150.94 -1.65L149.29 2Z" fill="#bfb276"/>
<path d="M157.18 -1.65L160.48 -1.65L158.83 2Z" fill="#bfb276"/>
<path d="M166.71 -1.65L170.01 -1.65L168.36 2Z" fill="#bfb276"/>
<text class="b" transform="translate(87.53 -97) scale(0.952 1)" font-size="8.61" text-anchor="middle" fill="#111">Central Sub-Saharan Africa</text>
<text x="180.26" y="2.4" font-size="7.15" fill="#1f1f1f" stroke="#1f1f1f" stroke-width="0.12">age (year)</text>
</g>
<g transform="translate(329.47 777.7) scale(1.17 1)">
<path d="M0 -86.73V0.53M-0.53 0H175.54" stroke="#0d0d0d" stroke-width="1.05" fill="none"/>
<text class="b" transform="translate(-3.2 2.35) scale(0.93 1)" font-size="6.65" text-anchor="end" fill="#0d0d0d">0</text>
<text class="b" transform="translate(-3.2 -14.89) scale(0.93 1)" font-size="6.65" text-anchor="end" fill="#0d0d0d">2000</text>
<text class="b" transform="translate(-3.2 -32.13) scale(0.93 1)" font-size="6.65" text-anchor="end" fill="#0d0d0d">4000</text>
<text class="b" transform="translate(-3.2 -49.37) scale(0.93 1)" font-size="6.65" text-anchor="end" fill="#0d0d0d">6000</text>
<text class="b" transform="translate(-3.2 -66.61) scale(0.93 1)" font-size="6.65" text-anchor="end" fill="#0d0d0d">8000</text>
<text class="b" transform="translate(-3.2 -83.85) scale(0.93 1)" font-size="6.65" text-anchor="end" fill="#0d0d0d">10000</text>
<text class="b" transform="translate(8.28 8.55) rotate(-45)" font-size="6.4" text-anchor="end" fill="#0d0d0d">10 to 14</text>
<text class="b" transform="translate(17.85 8.55) rotate(-45)" font-size="6.4" text-anchor="end" fill="#0d0d0d">15 to 19</text>
<text class="b" transform="translate(27.41 8.55) rotate(-45)" font-size="6.4" text-anchor="end" fill="#0d0d0d">20 to 24</text>
<text class="b" transform="translate(36.97 8.55) rotate(-45)" font-size="6.4" text-anchor="end" fill="#0d0d0d">25 to 29</text>
<text class="b" transform="translate(46.53 8.55) rotate(-45)" font-size="6.4" text-anchor="end" fill="#0d0d0d">30 to 34</text>
<text class="b" transform="translate(56.09 8.55) rotate(-45)" font-size="6.4" text-anchor="end" fill="#0d0d0d">35 to 39</text>
<text class="b" transform="translate(65.65 8.55) rotate(-45)" font-size="6.4" text-anchor="end" fill="#0d0d0d">40 to 44</text>
<text class="b" transform="translate(75.22 8.55) rotate(-45)" font-size="6.4" text-anchor="end" fill="#0d0d0d">45 to 49</text>
<text class="b" transform="translate(84.78 8.55) rotate(-45)" font-size="6.4" text-anchor="end" fill="#0d0d0d">50 to 54</text>
<text class="b" transform="translate(94.34 8.55) rotate(-45)" font-size="6.4" text-anchor="end" fill="#0d0d0d">55 to 59</text>
<text class="b" transform="translate(103.9 8.55) rotate(-45)" font-size="6.4" text-anchor="end" fill="#0d0d0d">60 to 64</text>
<text class="b" transform="translate(113.46 8.55) rotate(-45)" font-size="6.4" text-anchor="end" fill="#0d0d0d">65 to 69</text>
<text class="b" transform="translate(123.02 8.55) rotate(-45)" font-size="6.4" text-anchor="end" fill="#0d0d0d">70 to 74</text>
<text class="b" transform="translate(132.59 8.55) rotate(-45)" font-size="6.4" text-anchor="end" fill="#0d0d0d">75 to 79</text>
<text class="b" transform="translate(142.15 8.55) rotate(-45)" font-size="6.4" text-anchor="end" fill="#0d0d0d">80 to 84</text>
<text class="b" transform="translate(151.71 8.55) rotate(-45)" font-size="6.4" text-anchor="end" fill="#0d0d0d">85 to 89</text>
<text class="b" transform="translate(161.27 8.55) rotate(-45)" font-size="6.4" text-anchor="end" fill="#0d0d0d">90 to 94</text>
<text class="b" transform="translate(170.83 8.55) rotate(-45)" font-size="6.4" text-anchor="end" fill="#0d0d0d">95 plus</text>
<path d="M-2.4 0H0M-2.4 -17.24H0M-2.4 -34.48H0M-2.4 -51.72H0M-2.4 -68.96H0M-2.4 -86.2H0M6.28 0V3.1M15.85 0V3.1M25.41 0V3.1M34.97 0V3.1M44.53 0V3.1M54.09 0V3.1M63.65 0V3.1M73.22 0V3.1M82.78 0V3.1M92.34 0V3.1M101.9 0V3.1M111.46 0V3.1M121.02 0V3.1M130.59 0V3.1M140.15 0V3.1M149.71 0V3.1M159.27 0V3.1M168.83 0V3.1" stroke="#0d0d0d" stroke-width="1.05" fill="none"/>
<path fill="none" stroke="#8f601f" stroke-width="0.98" stroke-linejoin="round" stroke-linecap="round" d="M15.85 -16.81L25.41 -53.96L34.97 -73.44L44.53 -70.68"/>
<ellipse cx="6.28" cy="-0" rx="1.45" ry="1.55" fill="#8f601f"/>
<ellipse cx="15.85" cy="-16.81" rx="1.45" ry="1.55" fill="#8f601f"/>
<ellipse cx="25.41" cy="-53.96" rx="1.45" ry="1.55" fill="#8f601f"/>
<ellipse cx="34.97" cy="-73.44" rx="1.45" ry="1.55" fill="#8f601f"/>
<ellipse cx="44.53" cy="-70.68" rx="1.45" ry="1.55" fill="#8f601f"/>
<ellipse cx="54.09" cy="-62.93" rx="1.45" ry="1.55" fill="#8f601f"/>
<ellipse cx="63.65" cy="-57.06" rx="1.45" ry="1.55" fill="#8f601f"/>
<ellipse cx="73.22" cy="-42.67" rx="1.45" ry="1.55" fill="#8f601f"/>
<ellipse cx="82.78" cy="-21.12" rx="1.45" ry="1.55" fill="#8f601f"/>
<ellipse cx="92.34" cy="-7.15" rx="1.45" ry="1.55" fill="#8f601f"/>
<ellipse cx="101.9" cy="-1.47" rx="1.45" ry="1.55" fill="#8f601f"/>
<ellipse cx="111.46" cy="-0.43" rx="1.45" ry="1.55" fill="#8f601f"/>
<ellipse cx="121.02" cy="-0" rx="1.45" ry="1.55" fill="#8f601f"/>
<ellipse cx="130.59" cy="-0" rx="1.45" ry="1.55" fill="#8f601f"/>
<ellipse cx="140.15" cy="-0" rx="1.45" ry="1.55" fill="#8f601f"/>
<ellipse cx="149.71" cy="-0" rx="1.45" ry="1.55" fill="#8f601f"/>
<ellipse cx="159.27" cy="-0" rx="1.45" ry="1.55" fill="#8f601f"/>
<ellipse cx="168.83" cy="-0" rx="1.45" ry="1.55" fill="#8f601f"/>
<path fill="none" stroke="#c9944c" stroke-width="0.98" stroke-linejoin="round" stroke-linecap="round" d="M6.28 -0L15.85 -18.06L25.41 -53.96L34.97 -72.41L44.53 -70.25L54.09 -62.5L63.65 -56.72L73.22 -42.67"/>
<rect x="4.63" y="-1.75" width="3.3" height="3.5" fill="#c9944c"/>
<rect x="14.2" y="-19.81" width="3.3" height="3.5" fill="#c9944c"/>
<rect x="23.76" y="-55.71" width="3.3" height="3.5" fill="#c9944c"/>
<rect x="33.32" y="-74.16" width="3.3" height="3.5" fill="#c9944c"/>
<rect x="42.88" y="-72" width="3.3" height="3.5" fill="#c9944c"/>
<rect x="52.44" y="-64.25" width="3.3" height="3.5" fill="#c9944c"/>
<rect x="62" y="-58.47" width="3.3" height="3.5" fill="#c9944c"/>
<rect x="71.57" y="-44.42" width="3.3" height="3.5" fill="#c9944c"/>
<rect x="81.13" y="-22.87" width="3.3" height="3.5" fill="#c9944c"/>
<rect x="90.69" y="-8.9" width="3.3" height="3.5" fill="#c9944c"/>
<rect x="100.25" y="-3.22" width="3.3" height="3.5" fill="#c9944c"/>
<rect x="109.81" y="-2.18" width="3.3" height="3.5" fill="#c9944c"/>
<rect x="119.37" y="-1.75" width="3.3" height="3.5" fill="#c9944c"/>
<rect x="128.94" y="-1.75" width="3.3" height="3.5" fill="#c9944c"/>
<rect x="138.5" y="-1.75" width="3.3" height="3.5" fill="#c9944c"/>
<rect x="148.06" y="-1.75" width="3.3" height="3.5" fill="#c9944c"/>
<rect x="157.62" y="-1.75" width="3.3" height="3.5" fill="#c9944c"/>
<rect x="167.18" y="-1.75" width="3.3" height="3.5" fill="#c9944c"/>
<path fill="none" stroke="#e09b3f" stroke-width="0.98" stroke-linejoin="round" stroke-linecap="round" d="M15.85 -16.38L25.41 -52.58L34.97 -70.77L44.53 -69.39L54.09 -61.55L63.65 -56.03L73.22 -42.67"/>
<path d="M4.63 1.65L7.93 1.65L6.28 -2Z" fill="#e09b3f"/>
<path d="M14.2 -14.73L17.5 -14.73L15.85 -18.38Z" fill="#e09b3f"/>
<path d="M23.76 -50.93L27.06 -50.93L25.41 -54.58Z" fill="#e09b3f"/>
<path d="M33.32 -69.12L36.62 -69.12L34.97 -72.77Z" fill="#e09b3f"/>
<path d="M42.88 -67.74L46.18 -67.74L44.53 -71.39Z" fill="#e09b3f"/>
<path d="M52.44 -59.9L55.74 -59.9L54.09 -63.55Z" fill="#e09b3f"/>
<path d="M62 -54.38L65.3 -54.38L63.65 -58.03Z" fill="#e09b3f"/>
<path d="M71.57 -41.02L74.87 -41.02L73.22 -44.67Z" fill="#e09b3f"/>
<path d="M81.13 -19.47L84.43 -19.47L82.78 -23.12Z" fill="#e09b3f"/>
<path d="M90.69 -5.5L93.99 -5.5L92.34 -9.15Z" fill="#e09b3f"/>
<path d="M100.25 0.18L103.55 0.18L101.9 -3.47Z" fill="#e09b3f"/>
<path d="M109.81 1.22L113.11 1.22L111.46 -2.43Z" fill="#e09b3f"/>
<path d="M119.37 1.65L122.67 1.65L121.02 -2Z" fill="#e09b3f"/>
<path d="M128.94 1.65L132.24 1.65L130.59 -2Z" fill="#e09b3f"/>
<path d="M138.5 1.65L141.8 1.65L140.15 -2Z" fill="#e09b3f"/>
<path d="M148.06 1.65L151.36 1.65L149.71 -2Z" fill="#e09b3f"/>
<path d="M157.62 1.65L160.92 1.65L159.27 -2Z" fill="#e09b3f"/>
<path d="M167.18 1.65L170.48 1.65L168.83 -2Z" fill="#e09b3f"/>
<path fill="none" stroke="#bfb276" stroke-width="0.75" stroke-linejoin="round" stroke-linecap="round" d="M111.46 -0.93L121.02 -0.5L130.59 -0.5L140.15 -0.5L149.71 -0.5L159.27 -0.5L168.83 -0.5"/>
<path fill="none" stroke="#bfb276" stroke-width="0.98" stroke-linejoin="round" stroke-linecap="round" d="M15.85 -16.38L25.41 -50.86L34.97 -71.8L44.53 -71.42L54.09 -63.62L63.65 -57.67L73.22 -42.67"/>
<path fill="none" stroke="#bfb276" stroke-width="1.25" stroke-linejoin="round" stroke-linecap="round" d="M6.28 -0L15.85 -16.38M73.22 -42.67L82.78 -21.12L92.34 -7.15L101.9 -1.47L111.46 -0.43"/>
<path d="M4.63 -1.65L7.93 -1.65L6.28 2Z" fill="#bfb276"/>
<path d="M14.2 -18.03L17.5 -18.03L15.85 -14.38Z" fill="#bfb276"/>
<path d="M23.76 -52.51L27.06 -52.51L25.41 -48.86Z" fill="#bfb276"/>
<path d="M33.32 -73.45L36.62 -73.45L34.97 -69.8Z" fill="#bfb276"/>
<path d="M42.88 -73.07L46.18 -73.07L44.53 -69.42Z" fill="#bfb276"/>
<path d="M52.44 -65.27L55.74 -65.27L54.09 -61.62Z" fill="#bfb276"/>
<path d="M62 -59.32L65.3 -59.32L63.65 -55.67Z" fill="#bfb276"/>
<path d="M71.57 -44.32L74.87 -44.32L73.22 -40.67Z" fill="#bfb276"/>
<path d="M81.13 -22.77L84.43 -22.77L82.78 -19.12Z" fill="#bfb276"/>
<path d="M90.69 -8.8L93.99 -8.8L92.34 -5.15Z" fill="#bfb276"/>
<path d="M100.25 -3.12L103.55 -3.12L101.9 0.53Z" fill="#bfb276"/>
<path d="M109.81 -2.08L113.11 -2.08L111.46 1.57Z" fill="#bfb276"/>
<path d="M119.37 -1.65L122.67 -1.65L121.02 2Z" fill="#bfb276"/>
<path d="M128.94 -1.65L132.24 -1.65L130.59 2Z" fill="#bfb276"/>
<path d="M138.5 -1.65L141.8 -1.65L140.15 2Z" fill="#bfb276"/>
<path d="M148.06 -1.65L151.36 -1.65L149.71 2Z" fill="#bfb276"/>
<path d="M157.62 -1.65L160.92 -1.65L159.27 2Z" fill="#bfb276"/>
<path d="M167.18 -1.65L170.48 -1.65L168.83 2Z" fill="#bfb276"/>
<text class="b" transform="translate(87.77 -97) scale(0.952 1)" font-size="8.61" text-anchor="middle" fill="#111">Eastern Sub-Saharan Africa</text>
<text x="180.75" y="2.4" font-size="7.15" fill="#1f1f1f" stroke="#1f1f1f" stroke-width="0.12">age (year)</text>
</g>
<g transform="translate(70.62 911.95) scale(1.17 1)">
<path d="M0 -86.03V0.53M-0.53 0H174.47" stroke="#0d0d0d" stroke-width="1.05" fill="none"/>
<text class="b" transform="translate(-3.2 2.35) scale(0.93 1)" font-size="6.65" text-anchor="end" fill="#0d0d0d">0</text>
<text class="b" transform="translate(-3.2 -26.15) scale(0.93 1)" font-size="6.65" text-anchor="end" fill="#0d0d0d">5000</text>
<text class="b" transform="translate(-3.2 -54.65) scale(0.93 1)" font-size="6.65" text-anchor="end" fill="#0d0d0d">10000</text>
<text class="b" transform="translate(-3.2 -83.15) scale(0.93 1)" font-size="6.65" text-anchor="end" fill="#0d0d0d">15000</text>
<text class="b" transform="translate(8.25 8.55) rotate(-45)" font-size="6.4" text-anchor="end" fill="#0d0d0d">10 to 14</text>
<text class="b" transform="translate(17.75 8.55) rotate(-45)" font-size="6.4" text-anchor="end" fill="#0d0d0d">15 to 19</text>
<text class="b" transform="translate(27.25 8.55) rotate(-45)" font-size="6.4" text-anchor="end" fill="#0d0d0d">20 to 24</text>
<text class="b" transform="translate(36.76 8.55) rotate(-45)" font-size="6.4" text-anchor="end" fill="#0d0d0d">25 to 29</text>
<text class="b" transform="translate(46.26 8.55) rotate(-45)" font-size="6.4" text-anchor="end" fill="#0d0d0d">30 to 34</text>
<text class="b" transform="translate(55.76 8.55) rotate(-45)" font-size="6.4" text-anchor="end" fill="#0d0d0d">35 to 39</text>
<text class="b" transform="translate(65.27 8.55) rotate(-45)" font-size="6.4" text-anchor="end" fill="#0d0d0d">40 to 44</text>
<text class="b" transform="translate(74.77 8.55) rotate(-45)" font-size="6.4" text-anchor="end" fill="#0d0d0d">45 to 49</text>
<text class="b" transform="translate(84.27 8.55) rotate(-45)" font-size="6.4" text-anchor="end" fill="#0d0d0d">50 to 54</text>
<text class="b" transform="translate(93.78 8.55) rotate(-45)" font-size="6.4" text-anchor="end" fill="#0d0d0d">55 to 59</text>
<text class="b" transform="translate(103.28 8.55) rotate(-45)" font-size="6.4" text-anchor="end" fill="#0d0d0d">60 to 64</text>
<text class="b" transform="translate(112.78 8.55) rotate(-45)" font-size="6.4" text-anchor="end" fill="#0d0d0d">65 to 69</text>
<text class="b" transform="translate(122.29 8.55) rotate(-45)" font-size="6.4" text-anchor="end" fill="#0d0d0d">70 to 74</text>
<text class="b" transform="translate(131.79 8.55) rotate(-45)" font-size="6.4" text-anchor="end" fill="#0d0d0d">75 to 79</text>
<text class="b" transform="translate(141.29 8.55) rotate(-45)" font-size="6.4" text-anchor="end" fill="#0d0d0d">80 to 84</text>
<text class="b" transform="translate(150.8 8.55) rotate(-45)" font-size="6.4" text-anchor="end" fill="#0d0d0d">85 to 89</text>
<text class="b" transform="translate(160.3 8.55) rotate(-45)" font-size="6.4" text-anchor="end" fill="#0d0d0d">90 to 94</text>
<text class="b" transform="translate(169.81 8.55) rotate(-45)" font-size="6.4" text-anchor="end" fill="#0d0d0d">95 plus</text>
<path d="M-2.4 0H0M-2.4 -28.5H0M-2.4 -57H0M-2.4 -85.5H0M6.25 0V3.1M15.75 0V3.1M25.25 0V3.1M34.76 0V3.1M44.26 0V3.1M53.76 0V3.1M63.27 0V3.1M72.77 0V3.1M82.27 0V3.1M91.78 0V3.1M101.28 0V3.1M110.78 0V3.1M120.29 0V3.1M129.79 0V3.1M139.29 0V3.1M148.8 0V3.1M158.3 0V3.1M167.81 0V3.1" stroke="#0d0d0d" stroke-width="1.05" fill="none"/>
<path fill="none" stroke="#8f601f" stroke-width="0.98" stroke-linejoin="round" stroke-linecap="round" d="M25.25 -39.39L34.76 -54.09L44.26 -52.44L53.76 -44.46L63.27 -39.79L72.77 -29.98L82.27 -14.25"/>
<ellipse cx="6.25" cy="-0" rx="1.45" ry="1.55" fill="#8f601f"/>
<ellipse cx="15.75" cy="-13.11" rx="1.45" ry="1.55" fill="#8f601f"/>
<ellipse cx="25.25" cy="-39.39" rx="1.45" ry="1.55" fill="#8f601f"/>
<ellipse cx="34.76" cy="-54.09" rx="1.45" ry="1.55" fill="#8f601f"/>
<ellipse cx="44.26" cy="-52.44" rx="1.45" ry="1.55" fill="#8f601f"/>
<ellipse cx="53.76" cy="-44.46" rx="1.45" ry="1.55" fill="#8f601f"/>
<ellipse cx="63.27" cy="-39.79" rx="1.45" ry="1.55" fill="#8f601f"/>
<ellipse cx="72.77" cy="-29.98" rx="1.45" ry="1.55" fill="#8f601f"/>
<ellipse cx="82.27" cy="-14.25" rx="1.45" ry="1.55" fill="#8f601f"/>
<ellipse cx="91.78" cy="-4.9" rx="1.45" ry="1.55" fill="#8f601f"/>
<ellipse cx="101.28" cy="-1.43" rx="1.45" ry="1.55" fill="#8f601f"/>
<ellipse cx="110.78" cy="-0.34" rx="1.45" ry="1.55" fill="#8f601f"/>
<ellipse cx="120.29" cy="-0" rx="1.45" ry="1.55" fill="#8f601f"/>
<ellipse cx="129.79" cy="-0" rx="1.45" ry="1.55" fill="#8f601f"/>
<ellipse cx="139.29" cy="-0" rx="1.45" ry="1.55" fill="#8f601f"/>
<ellipse cx="148.8" cy="-0" rx="1.45" ry="1.55" fill="#8f601f"/>
<ellipse cx="158.3" cy="-0" rx="1.45" ry="1.55" fill="#8f601f"/>
<ellipse cx="167.81" cy="-0" rx="1.45" ry="1.55" fill="#8f601f"/>
<path fill="none" stroke="#c9944c" stroke-width="0.98" stroke-linejoin="round" stroke-linecap="round" d="M15.75 -13.11L25.25 -39.39L34.76 -52.44L44.26 -50.62L53.76 -43.26L63.27 -38.76L72.77 -29.36L82.27 -14.25"/>
<rect x="4.6" y="-1.75" width="3.3" height="3.5" fill="#c9944c"/>
<rect x="14.1" y="-14.86" width="3.3" height="3.5" fill="#c9944c"/>
<rect x="23.6" y="-41.14" width="3.3" height="3.5" fill="#c9944c"/>
<rect x="33.11" y="-54.19" width="3.3" height="3.5" fill="#c9944c"/>
<rect x="42.61" y="-52.37" width="3.3" height="3.5" fill="#c9944c"/>
<rect x="52.11" y="-45.01" width="3.3" height="3.5" fill="#c9944c"/>
<rect x="61.62" y="-40.51" width="3.3" height="3.5" fill="#c9944c"/>
<rect x="71.12" y="-31.11" width="3.3" height="3.5" fill="#c9944c"/>
<rect x="80.62" y="-16" width="3.3" height="3.5" fill="#c9944c"/>
<rect x="90.13" y="-6.65" width="3.3" height="3.5" fill="#c9944c"/>
<rect x="99.63" y="-3.17" width="3.3" height="3.5" fill="#c9944c"/>
<rect x="109.13" y="-2.09" width="3.3" height="3.5" fill="#c9944c"/>
<rect x="118.64" y="-1.75" width="3.3" height="3.5" fill="#c9944c"/>
<rect x="128.14" y="-1.75" width="3.3" height="3.5" fill="#c9944c"/>
<rect x="137.64" y="-1.75" width="3.3" height="3.5" fill="#c9944c"/>
<rect x="147.15" y="-1.75" width="3.3" height="3.5" fill="#c9944c"/>
<rect x="156.65" y="-1.75" width="3.3" height="3.5" fill="#c9944c"/>
<rect x="166.16" y="-1.75" width="3.3" height="3.5" fill="#c9944c"/>
<path fill="none" stroke="#e09b3f" stroke-width="0.98" stroke-linejoin="round" stroke-linecap="round" d="M15.75 -12.82L25.25 -38.19L34.76 -51.02L44.26 -48.96L53.76 -41.84L63.27 -37.34L72.77 -28.5L82.27 -14.25"/>
<path fill="none" stroke="#e09b3f" stroke-width="1.25" stroke-linejoin="round" stroke-linecap="round" d="M6.25 -0L15.75 -12.82"/>
<path d="M4.6 1.65L7.9 1.65L6.25 -2Z" fill="#e09b3f"/>
<path d="M14.1 -11.17L17.4 -11.17L15.75 -14.82Z" fill="#e09b3f"/>
<path d="M23.6 -36.54L26.9 -36.54L25.25 -40.19Z" fill="#e09b3f"/>
<path d="M33.11 -49.37L36.41 -49.37L34.76 -53.02Z" fill="#e09b3f"/>
<path d="M42.61 -47.31L45.91 -47.31L44.26 -50.96Z" fill="#e09b3f"/>
<path d="M52.11 -40.19L55.41 -40.19L53.76 -43.84Z" fill="#e09b3f"/>
<path d="M61.62 -35.69L64.92 -35.69L63.27 -39.34Z" fill="#e09b3f"/>
<path d="M71.12 -26.85L74.42 -26.85L72.77 -30.5Z" fill="#e09b3f"/>
<path d="M80.62 -12.6L83.92 -12.6L82.27 -16.25Z" fill="#e09b3f"/>
<path d="M90.13 -3.25L93.43 -3.25L91.78 -6.9Z" fill="#e09b3f"/>
<path d="M99.63 0.22L102.93 0.22L101.28 -3.42Z" fill="#e09b3f"/>
<path d="M109.13 1.31L112.43 1.31L110.78 -2.34Z" fill="#e09b3f"/>
<path d="M118.64 1.65L121.94 1.65L120.29 -2Z" fill="#e09b3f"/>
<path d="M128.14 1.65L131.44 1.65L129.79 -2Z" fill="#e09b3f"/>
<path d="M137.64 1.65L140.94 1.65L139.29 -2Z" fill="#e09b3f"/>
<path d="M147.15 1.65L150.45 1.65L148.8 -2Z" fill="#e09b3f"/>
<path d="M156.65 1.65L159.95 1.65L158.3 -2Z" fill="#e09b3f"/>
<path d="M166.16 1.65L169.46 1.65L167.81 -2Z" fill="#e09b3f"/>
<path fill="none" stroke="#bfb276" stroke-width="0.75" stroke-linejoin="round" stroke-linecap="round" d="M110.78 -0.84L120.29 -0.5L129.79 -0.5L139.29 -0.5L148.8 -0.5L158.3 -0.5L167.81 -0.5"/>
<path fill="none" stroke="#bfb276" stroke-width="0.98" stroke-linejoin="round" stroke-linecap="round" d="M15.75 -12.26L25.25 -36.14L34.76 -49.59L44.26 -47.54L53.76 -40.81L63.27 -36.31L72.77 -27.93L82.27 -14.25"/>
<path fill="none" stroke="#bfb276" stroke-width="1.25" stroke-linejoin="round" stroke-linecap="round" d="M6.25 -0L15.75 -12.26M82.27 -14.25L91.78 -4.9L101.28 -1.43L110.78 -0.34"/>
<path d="M4.6 -1.65L7.9 -1.65L6.25 2Z" fill="#bfb276"/>
<path d="M14.1 -13.91L17.4 -13.91L15.75 -10.26Z" fill="#bfb276"/>
<path d="M23.6 -37.79L26.9 -37.79L25.25 -34.14Z" fill="#bfb276"/>
<path d="M33.11 -51.24L36.41 -51.24L34.76 -47.59Z" fill="#bfb276"/>
<path d="M42.61 -49.19L45.91 -49.19L44.26 -45.54Z" fill="#bfb276"/>
<path d="M52.11 -42.46L55.41 -42.46L53.76 -38.81Z" fill="#bfb276"/>
<path d="M61.62 -37.96L64.92 -37.96L63.27 -34.31Z" fill="#bfb276"/>
<path d="M71.12 -29.58L74.42 -29.58L72.77 -25.93Z" fill="#bfb276"/>
<path d="M80.62 -15.9L83.92 -15.9L82.27 -12.25Z" fill="#bfb276"/>
<path d="M90.13 -6.55L93.43 -6.55L91.78 -2.9Z" fill="#bfb276"/>
<path d="M99.63 -3.08L102.93 -3.08L101.28 0.57Z" fill="#bfb276"/>
<path d="M109.13 -1.99L112.43 -1.99L110.78 1.66Z" fill="#bfb276"/>
<path d="M118.64 -1.65L121.94 -1.65L120.29 2Z" fill="#bfb276"/>
<path d="M128.14 -1.65L131.44 -1.65L129.79 2Z" fill="#bfb276"/>
<path d="M137.64 -1.65L140.94 -1.65L139.29 2Z" fill="#bfb276"/>
<path d="M147.15 -1.65L150.45 -1.65L148.8 2Z" fill="#bfb276"/>
<path d="M156.65 -1.65L159.95 -1.65L158.3 2Z" fill="#bfb276"/>
<path d="M166.16 -1.65L169.46 -1.65L167.81 2Z" fill="#bfb276"/>
<text class="b" transform="translate(87.24 -97.1) scale(0.952 1)" font-size="8.61" text-anchor="middle" fill="#111">North Africa and Middle East</text>
<text x="179.68" y="2.4" font-size="7.15" fill="#1f1f1f" stroke="#1f1f1f" stroke-width="0.12">age (year)</text>
</g>
<g transform="translate(330.55 911.95) scale(1.17 1)">
<path d="M0 -86.03V0.53M-0.53 0H174.53" stroke="#0d0d0d" stroke-width="1.05" fill="none"/>
<text class="b" transform="translate(-3.2 2.35) scale(0.93 1)" font-size="6.65" text-anchor="end" fill="#0d0d0d">0</text>
<text class="b" transform="translate(-3.2 -19.02) scale(0.93 1)" font-size="6.65" text-anchor="end" fill="#0d0d0d">5000</text>
<text class="b" transform="translate(-3.2 -40.4) scale(0.93 1)" font-size="6.65" text-anchor="end" fill="#0d0d0d">10000</text>
<text class="b" transform="translate(-3.2 -61.77) scale(0.93 1)" font-size="6.65" text-anchor="end" fill="#0d0d0d">15000</text>
<text class="b" transform="translate(-3.2 -83.15) scale(0.93 1)" font-size="6.65" text-anchor="end" fill="#0d0d0d">20000</text>
<text class="b" transform="translate(8.25 8.55) rotate(-45)" font-size="6.4" text-anchor="end" fill="#0d0d0d">10 to 14</text>
<text class="b" transform="translate(17.75 8.55) rotate(-45)" font-size="6.4" text-anchor="end" fill="#0d0d0d">15 to 19</text>
<text class="b" transform="translate(27.26 8.55) rotate(-45)" font-size="6.4" text-anchor="end" fill="#0d0d0d">20 to 24</text>
<text class="b" transform="translate(36.77 8.55) rotate(-45)" font-size="6.4" text-anchor="end" fill="#0d0d0d">25 to 29</text>
<text class="b" transform="translate(46.28 8.55) rotate(-45)" font-size="6.4" text-anchor="end" fill="#0d0d0d">30 to 34</text>
<text class="b" transform="translate(55.78 8.55) rotate(-45)" font-size="6.4" text-anchor="end" fill="#0d0d0d">35 to 39</text>
<text class="b" transform="translate(65.29 8.55) rotate(-45)" font-size="6.4" text-anchor="end" fill="#0d0d0d">40 to 44</text>
<text class="b" transform="translate(74.8 8.55) rotate(-45)" font-size="6.4" text-anchor="end" fill="#0d0d0d">45 to 49</text>
<text class="b" transform="translate(84.3 8.55) rotate(-45)" font-size="6.4" text-anchor="end" fill="#0d0d0d">50 to 54</text>
<text class="b" transform="translate(93.81 8.55) rotate(-45)" font-size="6.4" text-anchor="end" fill="#0d0d0d">55 to 59</text>
<text class="b" transform="translate(103.32 8.55) rotate(-45)" font-size="6.4" text-anchor="end" fill="#0d0d0d">60 to 64</text>
<text class="b" transform="translate(112.82 8.55) rotate(-45)" font-size="6.4" text-anchor="end" fill="#0d0d0d">65 to 69</text>
<text class="b" transform="translate(122.33 8.55) rotate(-45)" font-size="6.4" text-anchor="end" fill="#0d0d0d">70 to 74</text>
<text class="b" transform="translate(131.84 8.55) rotate(-45)" font-size="6.4" text-anchor="end" fill="#0d0d0d">75 to 79</text>
<text class="b" transform="translate(141.34 8.55) rotate(-45)" font-size="6.4" text-anchor="end" fill="#0d0d0d">80 to 84</text>
<text class="b" transform="translate(150.85 8.55) rotate(-45)" font-size="6.4" text-anchor="end" fill="#0d0d0d">85 to 89</text>
<text class="b" transform="translate(160.36 8.55) rotate(-45)" font-size="6.4" text-anchor="end" fill="#0d0d0d">90 to 94</text>
<text class="b" transform="translate(169.86 8.55) rotate(-45)" font-size="6.4" text-anchor="end" fill="#0d0d0d">95 plus</text>
<path d="M-2.4 0H0M-2.4 -21.38H0M-2.4 -42.75H0M-2.4 -64.12H0M-2.4 -85.5H0M6.25 0V3.1M15.75 0V3.1M25.26 0V3.1M34.77 0V3.1M44.28 0V3.1M53.78 0V3.1M63.29 0V3.1M72.8 0V3.1M82.3 0V3.1M91.81 0V3.1M101.32 0V3.1M110.82 0V3.1M120.33 0V3.1M129.84 0V3.1M139.34 0V3.1M148.85 0V3.1M158.36 0V3.1M167.86 0V3.1" stroke="#0d0d0d" stroke-width="1.05" fill="none"/>
<path fill="none" stroke="#8f601f" stroke-width="0.98" stroke-linejoin="round" stroke-linecap="round" d="M6.25 -0L15.75 -12.87L25.26 -38.77L34.77 -60.19L44.28 -62.24"/>
<ellipse cx="6.25" cy="-0" rx="1.45" ry="1.55" fill="#8f601f"/>
<ellipse cx="15.75" cy="-12.87" rx="1.45" ry="1.55" fill="#8f601f"/>
<ellipse cx="25.26" cy="-38.77" rx="1.45" ry="1.55" fill="#8f601f"/>
<ellipse cx="34.77" cy="-60.19" rx="1.45" ry="1.55" fill="#8f601f"/>
<ellipse cx="44.28" cy="-62.24" rx="1.45" ry="1.55" fill="#8f601f"/>
<ellipse cx="53.78" cy="-54.48" rx="1.45" ry="1.55" fill="#8f601f"/>
<ellipse cx="63.29" cy="-49.59" rx="1.45" ry="1.55" fill="#8f601f"/>
<ellipse cx="72.8" cy="-36.72" rx="1.45" ry="1.55" fill="#8f601f"/>
<ellipse cx="82.3" cy="-18.38" rx="1.45" ry="1.55" fill="#8f601f"/>
<ellipse cx="91.81" cy="-5.73" rx="1.45" ry="1.55" fill="#8f601f"/>
<ellipse cx="101.32" cy="-1.03" rx="1.45" ry="1.55" fill="#8f601f"/>
<ellipse cx="110.82" cy="-0.21" rx="1.45" ry="1.55" fill="#8f601f"/>
<ellipse cx="120.33" cy="-0" rx="1.45" ry="1.55" fill="#8f601f"/>
<ellipse cx="129.84" cy="-0" rx="1.45" ry="1.55" fill="#8f601f"/>
<ellipse cx="139.34" cy="-0" rx="1.45" ry="1.55" fill="#8f601f"/>
<ellipse cx="148.85" cy="-0" rx="1.45" ry="1.55" fill="#8f601f"/>
<ellipse cx="158.36" cy="-0" rx="1.45" ry="1.55" fill="#8f601f"/>
<ellipse cx="167.86" cy="-0" rx="1.45" ry="1.55" fill="#8f601f"/>
<path fill="none" stroke="#c9944c" stroke-width="0.98" stroke-linejoin="round" stroke-linecap="round" d="M53.78 -54.48L63.29 -51L72.8 -36.72"/>
<rect x="4.6" y="-1.75" width="3.3" height="3.5" fill="#c9944c"/>
<rect x="14.1" y="-17.65" width="3.3" height="3.5" fill="#c9944c"/>
<rect x="23.61" y="-51.34" width="3.3" height="3.5" fill="#c9944c"/>
<rect x="33.12" y="-67.67" width="3.3" height="3.5" fill="#c9944c"/>
<rect x="42.63" y="-63.99" width="3.3" height="3.5" fill="#c9944c"/>
<rect x="52.13" y="-56.23" width="3.3" height="3.5" fill="#c9944c"/>
<rect x="61.64" y="-52.75" width="3.3" height="3.5" fill="#c9944c"/>
<rect x="71.15" y="-38.47" width="3.3" height="3.5" fill="#c9944c"/>
<rect x="80.65" y="-19.7" width="3.3" height="3.5" fill="#c9944c"/>
<rect x="90.16" y="-7.48" width="3.3" height="3.5" fill="#c9944c"/>
<rect x="99.67" y="-2.78" width="3.3" height="3.5" fill="#c9944c"/>
<rect x="109.17" y="-1.96" width="3.3" height="3.5" fill="#c9944c"/>
<rect x="118.68" y="-1.75" width="3.3" height="3.5" fill="#c9944c"/>
<rect x="128.19" y="-1.75" width="3.3" height="3.5" fill="#c9944c"/>
<rect x="137.69" y="-1.75" width="3.3" height="3.5" fill="#c9944c"/>
<rect x="147.2" y="-1.75" width="3.3" height="3.5" fill="#c9944c"/>
<rect x="156.71" y="-1.75" width="3.3" height="3.5" fill="#c9944c"/>
<rect x="166.21" y="-1.75" width="3.3" height="3.5" fill="#c9944c"/>
<path fill="none" stroke="#e09b3f" stroke-width="0.98" stroke-linejoin="round" stroke-linecap="round" d="M6.25 -0L15.75 -15.9L25.26 -49.59L34.77 -65.92L44.28 -62.63L53.78 -56.52L63.29 -52.65L72.8 -39.18L82.3 -18.81"/>
<path d="M4.6 1.65L7.9 1.65L6.25 -2Z" fill="#e09b3f"/>
<path d="M14.1 -14.25L17.4 -14.25L15.75 -17.9Z" fill="#e09b3f"/>
<path d="M23.61 -47.94L26.91 -47.94L25.26 -51.59Z" fill="#e09b3f"/>
<path d="M33.12 -64.27L36.42 -64.27L34.77 -67.92Z" fill="#e09b3f"/>
<path d="M42.63 -60.98L45.93 -60.98L44.28 -64.63Z" fill="#e09b3f"/>
<path d="M52.13 -54.87L55.43 -54.87L53.78 -58.52Z" fill="#e09b3f"/>
<path d="M61.64 -51L64.94 -51L63.29 -54.65Z" fill="#e09b3f"/>
<path d="M71.15 -37.53L74.45 -37.53L72.8 -41.18Z" fill="#e09b3f"/>
<path d="M80.65 -17.16L83.95 -17.16L82.3 -20.81Z" fill="#e09b3f"/>
<path d="M90.16 -4.08L93.46 -4.08L91.81 -7.73Z" fill="#e09b3f"/>
<path d="M99.67 0.62L102.97 0.62L101.32 -3.03Z" fill="#e09b3f"/>
<path d="M109.17 1.44L112.47 1.44L110.82 -2.21Z" fill="#e09b3f"/>
<path d="M118.68 1.65L121.98 1.65L120.33 -2Z" fill="#e09b3f"/>
<path d="M128.19 1.65L131.49 1.65L129.84 -2Z" fill="#e09b3f"/>
<path d="M137.69 1.65L140.99 1.65L139.34 -2Z" fill="#e09b3f"/>
<path d="M147.2 1.65L150.5 1.65L148.85 -2Z" fill="#e09b3f"/>
<path d="M156.71 1.65L160.01 1.65L158.36 -2Z" fill="#e09b3f"/>
<path d="M166.21 1.65L169.51 1.65L167.86 -2Z" fill="#e09b3f"/>
<path fill="none" stroke="#bfb276" stroke-width="0.75" stroke-linejoin="round" stroke-linecap="round" d="M110.82 -0.71L120.33 -0.5L129.84 -0.5L139.34 -0.5L148.85 -0.5L158.36 -0.5L167.86 -0.5"/>
<path fill="none" stroke="#bfb276" stroke-width="0.98" stroke-linejoin="round" stroke-linecap="round" d="M6.25 -0L15.75 -10.6L25.26 -34.69L34.77 -58.57L44.28 -62.24M53.78 -54.48L63.29 -49.59L72.8 -36.72"/>
<path fill="none" stroke="#bfb276" stroke-width="1.25" stroke-linejoin="round" stroke-linecap="round" d="M44.28 -62.24L53.78 -54.48M72.8 -36.72L82.3 -18.38L91.81 -5.73L101.32 -1.03L110.82 -0.21"/>
<path d="M4.6 -1.65L7.9 -1.65L6.25 2Z" fill="#bfb276"/>
<path d="M14.1 -12.25L17.4 -12.25L15.75 -8.6Z" fill="#bfb276"/>
<path d="M23.61 -36.34L26.91 -36.34L25.26 -32.69Z" fill="#bfb276"/>
<path d="M33.12 -60.22L36.42 -60.22L34.77 -56.57Z" fill="#bfb276"/>
<path d="M42.63 -63.89L45.93 -63.89L44.28 -60.24Z" fill="#bfb276"/>
<path d="M52.13 -56.13L55.43 -56.13L53.78 -52.48Z" fill="#bfb276"/>
<path d="M61.64 -51.24L64.94 -51.24L63.29 -47.59Z" fill="#bfb276"/>
<path d="M71.15 -38.37L74.45 -38.37L72.8 -34.72Z" fill="#bfb276"/>
<path d="M80.65 -20.03L83.95 -20.03L82.3 -16.38Z" fill="#bfb276"/>
<path d="M90.16 -7.38L93.46 -7.38L91.81 -3.73Z" fill="#bfb276"/>
<path d="M99.67 -2.68L102.97 -2.68L101.32 0.97Z" fill="#bfb276"/>
<path d="M109.17 -1.86L112.47 -1.86L110.82 1.79Z" fill="#bfb276"/>
<path d="M118.68 -1.65L121.98 -1.65L120.33 2Z" fill="#bfb276"/>
<path d="M128.19 -1.65L131.49 -1.65L129.84 2Z" fill="#bfb276"/>
<path d="M137.69 -1.65L140.99 -1.65L139.34 2Z" fill="#bfb276"/>
<path d="M147.2 -1.65L150.5 -1.65L148.85 2Z" fill="#bfb276"/>
<path d="M156.71 -1.65L160.01 -1.65L158.36 2Z" fill="#bfb276"/>
<path d="M166.21 -1.65L169.51 -1.65L167.86 2Z" fill="#bfb276"/>
<text class="b" transform="translate(87.26 -97.1) scale(0.952 1)" font-size="8.61" text-anchor="middle" fill="#111">Southern Sub-Saharan Africa</text>
<text x="179.74" y="2.4" font-size="7.15" fill="#1f1f1f" stroke="#1f1f1f" stroke-width="0.12">age (year)</text>
</g>
<g transform="translate(66.52 1046.15) scale(1.17 1)">
<path d="M0 -86.13V0.53M-0.53 0H174.45" stroke="#0d0d0d" stroke-width="1.05" fill="none"/>
<text class="b" transform="translate(-3.2 2.35) scale(0.93 1)" font-size="6.65" text-anchor="end" fill="#0d0d0d">0</text>
<text class="b" transform="translate(-3.2 -19.05) scale(0.93 1)" font-size="6.65" text-anchor="end" fill="#0d0d0d">2000</text>
<text class="b" transform="translate(-3.2 -40.45) scale(0.93 1)" font-size="6.65" text-anchor="end" fill="#0d0d0d">4000</text>
<text class="b" transform="translate(-3.2 -61.85) scale(0.93 1)" font-size="6.65" text-anchor="end" fill="#0d0d0d">6000</text>
<text class="b" transform="translate(-3.2 -83.25) scale(0.93 1)" font-size="6.65" text-anchor="end" fill="#0d0d0d">8000</text>
<text class="b" transform="translate(8.25 8.55) rotate(-45)" font-size="6.4" text-anchor="end" fill="#0d0d0d">10 to 14</text>
<text class="b" transform="translate(17.75 8.55) rotate(-45)" font-size="6.4" text-anchor="end" fill="#0d0d0d">15 to 19</text>
<text class="b" transform="translate(27.25 8.55) rotate(-45)" font-size="6.4" text-anchor="end" fill="#0d0d0d">20 to 24</text>
<text class="b" transform="translate(36.75 8.55) rotate(-45)" font-size="6.4" text-anchor="end" fill="#0d0d0d">25 to 29</text>
<text class="b" transform="translate(46.26 8.55) rotate(-45)" font-size="6.4" text-anchor="end" fill="#0d0d0d">30 to 34</text>
<text class="b" transform="translate(55.76 8.55) rotate(-45)" font-size="6.4" text-anchor="end" fill="#0d0d0d">35 to 39</text>
<text class="b" transform="translate(65.26 8.55) rotate(-45)" font-size="6.4" text-anchor="end" fill="#0d0d0d">40 to 44</text>
<text class="b" transform="translate(74.76 8.55) rotate(-45)" font-size="6.4" text-anchor="end" fill="#0d0d0d">45 to 49</text>
<text class="b" transform="translate(84.27 8.55) rotate(-45)" font-size="6.4" text-anchor="end" fill="#0d0d0d">50 to 54</text>
<text class="b" transform="translate(93.77 8.55) rotate(-45)" font-size="6.4" text-anchor="end" fill="#0d0d0d">55 to 59</text>
<text class="b" transform="translate(103.27 8.55) rotate(-45)" font-size="6.4" text-anchor="end" fill="#0d0d0d">60 to 64</text>
<text class="b" transform="translate(112.77 8.55) rotate(-45)" font-size="6.4" text-anchor="end" fill="#0d0d0d">65 to 69</text>
<text class="b" transform="translate(122.28 8.55) rotate(-45)" font-size="6.4" text-anchor="end" fill="#0d0d0d">70 to 74</text>
<text class="b" transform="translate(131.78 8.55) rotate(-45)" font-size="6.4" text-anchor="end" fill="#0d0d0d">75 to 79</text>
<text class="b" transform="translate(141.28 8.55) rotate(-45)" font-size="6.4" text-anchor="end" fill="#0d0d0d">80 to 84</text>
<text class="b" transform="translate(150.78 8.55) rotate(-45)" font-size="6.4" text-anchor="end" fill="#0d0d0d">85 to 89</text>
<text class="b" transform="translate(160.29 8.55) rotate(-45)" font-size="6.4" text-anchor="end" fill="#0d0d0d">90 to 94</text>
<text class="b" transform="translate(169.79 8.55) rotate(-45)" font-size="6.4" text-anchor="end" fill="#0d0d0d">95 plus</text>
<path d="M-2.4 0H0M-2.4 -21.4H0M-2.4 -42.8H0M-2.4 -64.2H0M-2.4 -85.6H0M6.25 0V3.1M15.75 0V3.1M25.25 0V3.1M34.75 0V3.1M44.26 0V3.1M53.76 0V3.1M63.26 0V3.1M72.76 0V3.1M82.27 0V3.1M91.77 0V3.1M101.27 0V3.1M110.77 0V3.1M120.28 0V3.1M129.78 0V3.1M139.28 0V3.1M148.78 0V3.1M158.29 0V3.1M167.79 0V3.1" stroke="#0d0d0d" stroke-width="1.05" fill="none"/>
<path fill="none" stroke="#8f601f" stroke-width="0.98" stroke-linejoin="round" stroke-linecap="round" d="M15.75 -14.5L25.25 -47.08L34.75 -63.93"/>
<ellipse cx="6.25" cy="-0" rx="1.45" ry="1.55" fill="#8f601f"/>
<ellipse cx="15.75" cy="-14.5" rx="1.45" ry="1.55" fill="#8f601f"/>
<ellipse cx="25.25" cy="-47.08" rx="1.45" ry="1.55" fill="#8f601f"/>
<ellipse cx="34.75" cy="-63.93" rx="1.45" ry="1.55" fill="#8f601f"/>
<ellipse cx="44.26" cy="-59.49" rx="1.45" ry="1.55" fill="#8f601f"/>
<ellipse cx="53.76" cy="-52.22" rx="1.45" ry="1.55" fill="#8f601f"/>
<ellipse cx="63.26" cy="-48.69" rx="1.45" ry="1.55" fill="#8f601f"/>
<ellipse cx="72.76" cy="-39.06" rx="1.45" ry="1.55" fill="#8f601f"/>
<ellipse cx="82.27" cy="-21.94" rx="1.45" ry="1.55" fill="#8f601f"/>
<ellipse cx="91.77" cy="-8.35" rx="1.45" ry="1.55" fill="#8f601f"/>
<ellipse cx="101.27" cy="-2.19" rx="1.45" ry="1.55" fill="#8f601f"/>
<ellipse cx="110.77" cy="-0.59" rx="1.45" ry="1.55" fill="#8f601f"/>
<ellipse cx="120.28" cy="-0" rx="1.45" ry="1.55" fill="#8f601f"/>
<ellipse cx="129.78" cy="-0" rx="1.45" ry="1.55" fill="#8f601f"/>
<ellipse cx="139.28" cy="-0" rx="1.45" ry="1.55" fill="#8f601f"/>
<ellipse cx="148.78" cy="-0" rx="1.45" ry="1.55" fill="#8f601f"/>
<ellipse cx="158.29" cy="-0" rx="1.45" ry="1.55" fill="#8f601f"/>
<ellipse cx="167.79" cy="-0" rx="1.45" ry="1.55" fill="#8f601f"/>
<path fill="none" stroke="#c9944c" stroke-width="0.98" stroke-linejoin="round" stroke-linecap="round" d="M15.75 -14.5L25.25 -47.83L34.75 -63.93L44.26 -59.06L53.76 -51.68L63.26 -48.2L72.76 -39.06"/>
<rect x="4.6" y="-1.75" width="3.3" height="3.5" fill="#c9944c"/>
<rect x="14.1" y="-16.25" width="3.3" height="3.5" fill="#c9944c"/>
<rect x="23.6" y="-49.58" width="3.3" height="3.5" fill="#c9944c"/>
<rect x="33.1" y="-65.68" width="3.3" height="3.5" fill="#c9944c"/>
<rect x="42.61" y="-60.81" width="3.3" height="3.5" fill="#c9944c"/>
<rect x="52.11" y="-53.43" width="3.3" height="3.5" fill="#c9944c"/>
<rect x="61.61" y="-49.95" width="3.3" height="3.5" fill="#c9944c"/>
<rect x="71.11" y="-40.81" width="3.3" height="3.5" fill="#c9944c"/>
<rect x="80.62" y="-23.58" width="3.3" height="3.5" fill="#c9944c"/>
<rect x="90.12" y="-10.1" width="3.3" height="3.5" fill="#c9944c"/>
<rect x="99.62" y="-3.94" width="3.3" height="3.5" fill="#c9944c"/>
<rect x="109.12" y="-2.34" width="3.3" height="3.5" fill="#c9944c"/>
<rect x="118.63" y="-1.75" width="3.3" height="3.5" fill="#c9944c"/>
<rect x="128.13" y="-1.75" width="3.3" height="3.5" fill="#c9944c"/>
<rect x="137.63" y="-1.75" width="3.3" height="3.5" fill="#c9944c"/>
<rect x="147.13" y="-1.75" width="3.3" height="3.5" fill="#c9944c"/>
<rect x="156.64" y="-1.75" width="3.3" height="3.5" fill="#c9944c"/>
<rect x="166.14" y="-1.75" width="3.3" height="3.5" fill="#c9944c"/>
<path fill="none" stroke="#e09b3f" stroke-width="0.98" stroke-linejoin="round" stroke-linecap="round" d="M6.25 -0L15.75 -16.53L25.25 -53.71L34.75 -74.79L44.26 -66.98L53.76 -56.39L63.26 -51.25L72.76 -39.8"/>
<path fill="none" stroke="#e09b3f" stroke-width="1.25" stroke-linejoin="round" stroke-linecap="round" d="M72.76 -39.8L82.27 -21.4L91.77 -8.35"/>
<path d="M4.6 1.65L7.9 1.65L6.25 -2Z" fill="#e09b3f"/>
<path d="M14.1 -14.88L17.4 -14.88L15.75 -18.53Z" fill="#e09b3f"/>
<path d="M23.6 -52.06L26.9 -52.06L25.25 -55.71Z" fill="#e09b3f"/>
<path d="M33.1 -73.14L36.4 -73.14L34.75 -76.79Z" fill="#e09b3f"/>
<path d="M42.61 -65.33L45.91 -65.33L44.26 -68.98Z" fill="#e09b3f"/>
<path d="M52.11 -54.74L55.41 -54.74L53.76 -58.39Z" fill="#e09b3f"/>
<path d="M61.61 -49.6L64.91 -49.6L63.26 -53.25Z" fill="#e09b3f"/>
<path d="M71.11 -38.15L74.41 -38.15L72.76 -41.8Z" fill="#e09b3f"/>
<path d="M80.62 -19.75L83.92 -19.75L82.27 -23.4Z" fill="#e09b3f"/>
<path d="M90.12 -6.7L93.42 -6.7L91.77 -10.35Z" fill="#e09b3f"/>
<path d="M99.62 -0.54L102.92 -0.54L101.27 -4.19Z" fill="#e09b3f"/>
<path d="M109.12 1.06L112.42 1.06L110.77 -2.59Z" fill="#e09b3f"/>
<path d="M118.63 1.65L121.93 1.65L120.28 -2Z" fill="#e09b3f"/>
<path d="M128.13 1.65L131.43 1.65L129.78 -2Z" fill="#e09b3f"/>
<path d="M137.63 1.65L140.93 1.65L139.28 -2Z" fill="#e09b3f"/>
<path d="M147.13 1.65L150.43 1.65L148.78 -2Z" fill="#e09b3f"/>
<path d="M156.64 1.65L159.94 1.65L158.29 -2Z" fill="#e09b3f"/>
<path d="M166.14 1.65L169.44 1.65L167.79 -2Z" fill="#e09b3f"/>
<path fill="none" stroke="#bfb276" stroke-width="0.75" stroke-linejoin="round" stroke-linecap="round" d="M110.77 -1.09L120.28 -0.5L129.78 -0.5L139.28 -0.5L148.78 -0.5L158.29 -0.5L167.79 -0.5"/>
<path fill="none" stroke="#bfb276" stroke-width="0.98" stroke-linejoin="round" stroke-linecap="round" d="M15.75 -14.5L25.25 -45.58L34.75 -63.93L44.26 -60.46L53.76 -53.29L63.26 -49.86L72.76 -39.59"/>
<path fill="none" stroke="#bfb276" stroke-width="1.25" stroke-linejoin="round" stroke-linecap="round" d="M6.25 -0L15.75 -14.5M72.76 -39.59L82.27 -22.26L91.77 -8.35L101.27 -2.19L110.77 -0.59"/>
<path d="M4.6 -1.65L7.9 -1.65L6.25 2Z" fill="#bfb276"/>
<path d="M14.1 -16.15L17.4 -16.15L15.75 -12.5Z" fill="#bfb276"/>
<path d="M23.6 -47.23L26.9 -47.23L25.25 -43.58Z" fill="#bfb276"/>
<path d="M33.1 -65.58L36.4 -65.58L34.75 -61.93Z" fill="#bfb276"/>
<path d="M42.61 -62.11L45.91 -62.11L44.26 -58.46Z" fill="#bfb276"/>
<path d="M52.11 -54.94L55.41 -54.94L53.76 -51.29Z" fill="#bfb276"/>
<path d="M61.61 -51.51L64.91 -51.51L63.26 -47.86Z" fill="#bfb276"/>
<path d="M71.11 -41.24L74.41 -41.24L72.76 -37.59Z" fill="#bfb276"/>
<path d="M80.62 -23.91L83.92 -23.91L82.27 -20.26Z" fill="#bfb276"/>
<path d="M90.12 -10L93.42 -10L91.77 -6.35Z" fill="#bfb276"/>
<path d="M99.62 -3.84L102.92 -3.84L101.27 -0.19Z" fill="#bfb276"/>
<path d="M109.12 -2.24L112.42 -2.24L110.77 1.41Z" fill="#bfb276"/>
<path d="M118.63 -1.65L121.93 -1.65L120.28 2Z" fill="#bfb276"/>
<path d="M128.13 -1.65L131.43 -1.65L129.78 2Z" fill="#bfb276"/>
<path d="M137.63 -1.65L140.93 -1.65L139.28 2Z" fill="#bfb276"/>
<path d="M147.13 -1.65L150.43 -1.65L148.78 2Z" fill="#bfb276"/>
<path d="M156.64 -1.65L159.94 -1.65L158.29 2Z" fill="#bfb276"/>
<path d="M166.14 -1.65L169.44 -1.65L167.79 2Z" fill="#bfb276"/>
<text class="b" transform="translate(87.23 -97.2) scale(0.952 1)" font-size="8.61" text-anchor="middle" fill="#111">Western Sub-Saharan Africa</text>
<text x="179.67" y="2.4" font-size="7.15" fill="#1f1f1f" stroke="#1f1f1f" stroke-width="0.12">age (year)</text>
</g>
<g transform="translate(330.52 1046.15) scale(1.17 1)">
<path d="M0 -86.13V0.53M-0.53 0H174.56" stroke="#0d0d0d" stroke-width="1.05" fill="none"/>
<text class="b" transform="translate(-3.2 2.35) scale(0.93 1)" font-size="6.65" text-anchor="end" fill="#0d0d0d">0</text>
<text class="b" transform="translate(-3.2 -14.77) scale(0.93 1)" font-size="6.65" text-anchor="end" fill="#0d0d0d">2000</text>
<text class="b" transform="translate(-3.2 -31.89) scale(0.93 1)" font-size="6.65" text-anchor="end" fill="#0d0d0d">4000</text>
<text class="b" transform="translate(-3.2 -49.01) scale(0.93 1)" font-size="6.65" text-anchor="end" fill="#0d0d0d">6000</text>
<text class="b" transform="translate(-3.2 -66.13) scale(0.93 1)" font-size="6.65" text-anchor="end" fill="#0d0d0d">8000</text>
<text class="b" transform="translate(-3.2 -83.25) scale(0.93 1)" font-size="6.65" text-anchor="end" fill="#0d0d0d">10000</text>
<text class="b" transform="translate(8.25 8.55) rotate(-45)" font-size="6.4" text-anchor="end" fill="#0d0d0d">10 to 14</text>
<text class="b" transform="translate(17.76 8.55) rotate(-45)" font-size="6.4" text-anchor="end" fill="#0d0d0d">15 to 19</text>
<text class="b" transform="translate(27.27 8.55) rotate(-45)" font-size="6.4" text-anchor="end" fill="#0d0d0d">20 to 24</text>
<text class="b" transform="translate(36.77 8.55) rotate(-45)" font-size="6.4" text-anchor="end" fill="#0d0d0d">25 to 29</text>
<text class="b" transform="translate(46.28 8.55) rotate(-45)" font-size="6.4" text-anchor="end" fill="#0d0d0d">30 to 34</text>
<text class="b" transform="translate(55.79 8.55) rotate(-45)" font-size="6.4" text-anchor="end" fill="#0d0d0d">35 to 39</text>
<text class="b" transform="translate(65.3 8.55) rotate(-45)" font-size="6.4" text-anchor="end" fill="#0d0d0d">40 to 44</text>
<text class="b" transform="translate(74.81 8.55) rotate(-45)" font-size="6.4" text-anchor="end" fill="#0d0d0d">45 to 49</text>
<text class="b" transform="translate(84.31 8.55) rotate(-45)" font-size="6.4" text-anchor="end" fill="#0d0d0d">50 to 54</text>
<text class="b" transform="translate(93.82 8.55) rotate(-45)" font-size="6.4" text-anchor="end" fill="#0d0d0d">55 to 59</text>
<text class="b" transform="translate(103.33 8.55) rotate(-45)" font-size="6.4" text-anchor="end" fill="#0d0d0d">60 to 64</text>
<text class="b" transform="translate(112.84 8.55) rotate(-45)" font-size="6.4" text-anchor="end" fill="#0d0d0d">65 to 69</text>
<text class="b" transform="translate(122.35 8.55) rotate(-45)" font-size="6.4" text-anchor="end" fill="#0d0d0d">70 to 74</text>
<text class="b" transform="translate(131.85 8.55) rotate(-45)" font-size="6.4" text-anchor="end" fill="#0d0d0d">75 to 79</text>
<text class="b" transform="translate(141.36 8.55) rotate(-45)" font-size="6.4" text-anchor="end" fill="#0d0d0d">80 to 84</text>
<text class="b" transform="translate(150.87 8.55) rotate(-45)" font-size="6.4" text-anchor="end" fill="#0d0d0d">85 to 89</text>
<text class="b" transform="translate(160.38 8.55) rotate(-45)" font-size="6.4" text-anchor="end" fill="#0d0d0d">90 to 94</text>
<text class="b" transform="translate(169.89 8.55) rotate(-45)" font-size="6.4" text-anchor="end" fill="#0d0d0d">95 plus</text>
<path d="M-2.4 0H0M-2.4 -17.12H0M-2.4 -34.24H0M-2.4 -51.36H0M-2.4 -68.48H0M-2.4 -85.6H0M6.25 0V3.1M15.76 0V3.1M25.27 0V3.1M34.77 0V3.1M44.28 0V3.1M53.79 0V3.1M63.3 0V3.1M72.81 0V3.1M82.31 0V3.1M91.82 0V3.1M101.33 0V3.1M110.84 0V3.1M120.35 0V3.1M129.85 0V3.1M139.36 0V3.1M148.87 0V3.1M158.38 0V3.1M167.89 0V3.1" stroke="#0d0d0d" stroke-width="1.05" fill="none"/>
<ellipse cx="6.25" cy="-0" rx="1.45" ry="1.55" fill="#8f601f"/>
<ellipse cx="15.76" cy="-12.84" rx="1.45" ry="1.55" fill="#8f601f"/>
<ellipse cx="25.27" cy="-48.19" rx="1.45" ry="1.55" fill="#8f601f"/>
<ellipse cx="34.77" cy="-77.43" rx="1.45" ry="1.55" fill="#8f601f"/>
<ellipse cx="44.28" cy="-77.21" rx="1.45" ry="1.55" fill="#8f601f"/>
<ellipse cx="53.79" cy="-66" rx="1.45" ry="1.55" fill="#8f601f"/>
<ellipse cx="63.3" cy="-57.82" rx="1.45" ry="1.55" fill="#8f601f"/>
<ellipse cx="72.81" cy="-42.07" rx="1.45" ry="1.55" fill="#8f601f"/>
<ellipse cx="82.31" cy="-20.63" rx="1.45" ry="1.55" fill="#8f601f"/>
<ellipse cx="91.82" cy="-7.15" rx="1.45" ry="1.55" fill="#8f601f"/>
<ellipse cx="101.33" cy="-1.46" rx="1.45" ry="1.55" fill="#8f601f"/>
<ellipse cx="110.84" cy="-0.43" rx="1.45" ry="1.55" fill="#8f601f"/>
<ellipse cx="120.35" cy="-0" rx="1.45" ry="1.55" fill="#8f601f"/>
<ellipse cx="129.85" cy="-0" rx="1.45" ry="1.55" fill="#8f601f"/>
<ellipse cx="139.36" cy="-0" rx="1.45" ry="1.55" fill="#8f601f"/>
<ellipse cx="148.87" cy="-0" rx="1.45" ry="1.55" fill="#8f601f"/>
<ellipse cx="158.38" cy="-0" rx="1.45" ry="1.55" fill="#8f601f"/>
<ellipse cx="167.89" cy="-0" rx="1.45" ry="1.55" fill="#8f601f"/>
<rect x="4.6" y="-1.75" width="3.3" height="3.5" fill="#c9944c"/>
<rect x="14.11" y="-14.59" width="3.3" height="3.5" fill="#c9944c"/>
<rect x="23.62" y="-49.94" width="3.3" height="3.5" fill="#c9944c"/>
<rect x="33.12" y="-79.18" width="3.3" height="3.5" fill="#c9944c"/>
<rect x="42.63" y="-78.96" width="3.3" height="3.5" fill="#c9944c"/>
<rect x="52.14" y="-67.75" width="3.3" height="3.5" fill="#c9944c"/>
<rect x="61.65" y="-59.57" width="3.3" height="3.5" fill="#c9944c"/>
<rect x="71.16" y="-43.82" width="3.3" height="3.5" fill="#c9944c"/>
<rect x="80.66" y="-22.38" width="3.3" height="3.5" fill="#c9944c"/>
<rect x="90.17" y="-8.9" width="3.3" height="3.5" fill="#c9944c"/>
<rect x="99.68" y="-3.21" width="3.3" height="3.5" fill="#c9944c"/>
<rect x="109.19" y="-2.18" width="3.3" height="3.5" fill="#c9944c"/>
<rect x="118.7" y="-1.75" width="3.3" height="3.5" fill="#c9944c"/>
<rect x="128.2" y="-1.75" width="3.3" height="3.5" fill="#c9944c"/>
<rect x="137.71" y="-1.75" width="3.3" height="3.5" fill="#c9944c"/>
<rect x="147.22" y="-1.75" width="3.3" height="3.5" fill="#c9944c"/>
<rect x="156.73" y="-1.75" width="3.3" height="3.5" fill="#c9944c"/>
<rect x="166.24" y="-1.75" width="3.3" height="3.5" fill="#c9944c"/>
<path d="M4.6 1.65L7.9 1.65L6.25 -2Z" fill="#e09b3f"/>
<path d="M14.11 -11.19L17.41 -11.19L15.76 -14.84Z" fill="#e09b3f"/>
<path d="M23.62 -46.54L26.92 -46.54L25.27 -50.19Z" fill="#e09b3f"/>
<path d="M33.12 -76.07L36.42 -76.07L34.77 -79.72Z" fill="#e09b3f"/>
<path d="M42.63 -75.82L45.93 -75.82L44.28 -79.47Z" fill="#e09b3f"/>
<path d="M52.14 -64.35L55.44 -64.35L53.79 -68Z" fill="#e09b3f"/>
<path d="M61.65 -56.17L64.95 -56.17L63.3 -59.82Z" fill="#e09b3f"/>
<path d="M71.16 -40.42L74.46 -40.42L72.81 -44.07Z" fill="#e09b3f"/>
<path d="M80.66 -18.98L83.96 -18.98L82.31 -22.63Z" fill="#e09b3f"/>
<path d="M90.17 -5.5L93.47 -5.5L91.82 -9.15Z" fill="#e09b3f"/>
<path d="M99.68 0.19L102.98 0.19L101.33 -3.46Z" fill="#e09b3f"/>
<path d="M109.19 1.22L112.49 1.22L110.84 -2.43Z" fill="#e09b3f"/>
<path d="M118.7 1.65L122 1.65L120.35 -2Z" fill="#e09b3f"/>
<path d="M128.2 1.65L131.5 1.65L129.85 -2Z" fill="#e09b3f"/>
<path d="M137.71 1.65L141.01 1.65L139.36 -2Z" fill="#e09b3f"/>
<path d="M147.22 1.65L150.52 1.65L148.87 -2Z" fill="#e09b3f"/>
<path d="M156.73 1.65L160.03 1.65L158.38 -2Z" fill="#e09b3f"/>
<path d="M166.24 1.65L169.54 1.65L167.89 -2Z" fill="#e09b3f"/>
<path fill="none" stroke="#bfb276" stroke-width="0.75" stroke-linejoin="round" stroke-linecap="round" d="M110.84 -0.93L120.35 -0.5L129.85 -0.5L139.36 -0.5L148.87 -0.5L158.38 -0.5L167.89 -0.5"/>
<path fill="none" stroke="#bfb276" stroke-width="1.25" stroke-linejoin="round" stroke-linecap="round" d="M6.25 -0L15.76 -12.84L25.27 -48.19L34.77 -77.43L44.28 -77.04L53.79 -66L63.3 -57.82L72.81 -42.07L82.31 -20.63L91.82 -7.15L101.33 -1.46L110.84 -0.43"/>
<path d="M4.6 -1.65L7.9 -1.65L6.25 2Z" fill="#bfb276"/>
<path d="M14.11 -14.49L17.41 -14.49L15.76 -10.84Z" fill="#bfb276"/>
<path d="M23.62 -49.84L26.92 -49.84L25.27 -46.19Z" fill="#bfb276"/>
<path d="M33.12 -79.08L36.42 -79.08L34.77 -75.43Z" fill="#bfb276"/>
<path d="M42.63 -78.69L45.93 -78.69L44.28 -75.04Z" fill="#bfb276"/>
<path d="M52.14 -67.65L55.44 -67.65L53.79 -64Z" fill="#bfb276"/>
<path d="M61.65 -59.47L64.95 -59.47L63.3 -55.82Z" fill="#bfb276"/>
<path d="M71.16 -43.72L74.46 -43.72L72.81 -40.07Z" fill="#bfb276"/>
<path d="M80.66 -22.28L83.96 -22.28L82.31 -18.63Z" fill="#bfb276"/>
<path d="M90.17 -8.8L93.47 -8.8L91.82 -5.15Z" fill="#bfb276"/>
<path d="M99.68 -3.11L102.98 -3.11L101.33 0.54Z" fill="#bfb276"/>
<path d="M109.19 -2.08L112.49 -2.08L110.84 1.57Z" fill="#bfb276"/>
<path d="M118.7 -1.65L122 -1.65L120.35 2Z" fill="#bfb276"/>
<path d="M128.2 -1.65L131.5 -1.65L129.85 2Z" fill="#bfb276"/>
<path d="M137.71 -1.65L141.01 -1.65L139.36 2Z" fill="#bfb276"/>
<path d="M147.22 -1.65L150.52 -1.65L148.87 2Z" fill="#bfb276"/>
<path d="M156.73 -1.65L160.03 -1.65L158.38 2Z" fill="#bfb276"/>
<path d="M166.24 -1.65L169.54 -1.65L167.89 2Z" fill="#bfb276"/>
<text class="b" transform="translate(87.28 -97.2) scale(0.952 1)" font-size="8.61" text-anchor="middle" fill="#111">Central Europe</text>
<text x="179.77" y="2.4" font-size="7.15" fill="#1f1f1f" stroke="#1f1f1f" stroke-width="0.12">age (year)</text>
</g>
<g transform="translate(70.52 1180.45) scale(1.17 1)">
<path d="M0 -86.13V0.53M-0.53 0H174.56" stroke="#0d0d0d" stroke-width="1.05" fill="none"/>
<text class="b" transform="translate(-3.2 2.35) scale(0.93 1)" font-size="6.65" text-anchor="end" fill="#0d0d0d">0</text>
<text class="b" transform="translate(-3.2 -26.18) scale(0.93 1)" font-size="6.65" text-anchor="end" fill="#0d0d0d">5000</text>
<text class="b" transform="translate(-3.2 -54.72) scale(0.93 1)" font-size="6.65" text-anchor="end" fill="#0d0d0d">10000</text>
<text class="b" transform="translate(-3.2 -83.25) scale(0.93 1)" font-size="6.65" text-anchor="end" fill="#0d0d0d">15000</text>
<text class="b" transform="translate(8.25 8.55) rotate(-45)" font-size="6.4" text-anchor="end" fill="#0d0d0d">10 to 14</text>
<text class="b" transform="translate(17.76 8.55) rotate(-45)" font-size="6.4" text-anchor="end" fill="#0d0d0d">15 to 19</text>
<text class="b" transform="translate(27.27 8.55) rotate(-45)" font-size="6.4" text-anchor="end" fill="#0d0d0d">20 to 24</text>
<text class="b" transform="translate(36.77 8.55) rotate(-45)" font-size="6.4" text-anchor="end" fill="#0d0d0d">25 to 29</text>
<text class="b" transform="translate(46.28 8.55) rotate(-45)" font-size="6.4" text-anchor="end" fill="#0d0d0d">30 to 34</text>
<text class="b" transform="translate(55.79 8.55) rotate(-45)" font-size="6.4" text-anchor="end" fill="#0d0d0d">35 to 39</text>
<text class="b" transform="translate(65.3 8.55) rotate(-45)" font-size="6.4" text-anchor="end" fill="#0d0d0d">40 to 44</text>
<text class="b" transform="translate(74.81 8.55) rotate(-45)" font-size="6.4" text-anchor="end" fill="#0d0d0d">45 to 49</text>
<text class="b" transform="translate(84.31 8.55) rotate(-45)" font-size="6.4" text-anchor="end" fill="#0d0d0d">50 to 54</text>
<text class="b" transform="translate(93.82 8.55) rotate(-45)" font-size="6.4" text-anchor="end" fill="#0d0d0d">55 to 59</text>
<text class="b" transform="translate(103.33 8.55) rotate(-45)" font-size="6.4" text-anchor="end" fill="#0d0d0d">60 to 64</text>
<text class="b" transform="translate(112.84 8.55) rotate(-45)" font-size="6.4" text-anchor="end" fill="#0d0d0d">65 to 69</text>
<text class="b" transform="translate(122.35 8.55) rotate(-45)" font-size="6.4" text-anchor="end" fill="#0d0d0d">70 to 74</text>
<text class="b" transform="translate(131.85 8.55) rotate(-45)" font-size="6.4" text-anchor="end" fill="#0d0d0d">75 to 79</text>
<text class="b" transform="translate(141.36 8.55) rotate(-45)" font-size="6.4" text-anchor="end" fill="#0d0d0d">80 to 84</text>
<text class="b" transform="translate(150.87 8.55) rotate(-45)" font-size="6.4" text-anchor="end" fill="#0d0d0d">85 to 89</text>
<text class="b" transform="translate(160.38 8.55) rotate(-45)" font-size="6.4" text-anchor="end" fill="#0d0d0d">90 to 94</text>
<text class="b" transform="translate(169.89 8.55) rotate(-45)" font-size="6.4" text-anchor="end" fill="#0d0d0d">95 plus</text>
<path d="M-2.4 0H0M-2.4 -28.53H0M-2.4 -57.07H0M-2.4 -85.6H0M6.25 0V3.1M15.76 0V3.1M25.27 0V3.1M34.77 0V3.1M44.28 0V3.1M53.79 0V3.1M63.3 0V3.1M72.81 0V3.1M82.31 0V3.1M91.82 0V3.1M101.33 0V3.1M110.84 0V3.1M120.35 0V3.1M129.85 0V3.1M139.36 0V3.1M148.87 0V3.1M158.38 0V3.1M167.89 0V3.1" stroke="#0d0d0d" stroke-width="1.05" fill="none"/>
<ellipse cx="6.25" cy="-0" rx="1.45" ry="1.55" fill="#8f601f"/>
<ellipse cx="15.76" cy="-6.11" rx="1.45" ry="1.55" fill="#8f601f"/>
<ellipse cx="25.27" cy="-25.88" rx="1.45" ry="1.55" fill="#8f601f"/>
<ellipse cx="34.77" cy="-51.56" rx="1.45" ry="1.55" fill="#8f601f"/>
<ellipse cx="44.28" cy="-60.95" rx="1.45" ry="1.55" fill="#8f601f"/>
<ellipse cx="53.79" cy="-55.01" rx="1.45" ry="1.55" fill="#8f601f"/>
<ellipse cx="63.3" cy="-47.88" rx="1.45" ry="1.55" fill="#8f601f"/>
<ellipse cx="72.81" cy="-34.64" rx="1.45" ry="1.55" fill="#8f601f"/>
<ellipse cx="82.31" cy="-16.49" rx="1.45" ry="1.55" fill="#8f601f"/>
<ellipse cx="91.82" cy="-5.31" rx="1.45" ry="1.55" fill="#8f601f"/>
<ellipse cx="101.33" cy="-1.43" rx="1.45" ry="1.55" fill="#8f601f"/>
<ellipse cx="110.84" cy="-0.34" rx="1.45" ry="1.55" fill="#8f601f"/>
<ellipse cx="120.35" cy="-0" rx="1.45" ry="1.55" fill="#8f601f"/>
<ellipse cx="129.85" cy="-0" rx="1.45" ry="1.55" fill="#8f601f"/>
<ellipse cx="139.36" cy="-0" rx="1.45" ry="1.55" fill="#8f601f"/>
<ellipse cx="148.87" cy="-0" rx="1.45" ry="1.55" fill="#8f601f"/>
<ellipse cx="158.38" cy="-0" rx="1.45" ry="1.55" fill="#8f601f"/>
<ellipse cx="167.89" cy="-0" rx="1.45" ry="1.55" fill="#8f601f"/>
<rect x="4.6" y="-1.75" width="3.3" height="3.5" fill="#c9944c"/>
<rect x="14.11" y="-7.86" width="3.3" height="3.5" fill="#c9944c"/>
<rect x="23.62" y="-27.63" width="3.3" height="3.5" fill="#c9944c"/>
<rect x="33.12" y="-53.31" width="3.3" height="3.5" fill="#c9944c"/>
<rect x="42.63" y="-62.7" width="3.3" height="3.5" fill="#c9944c"/>
<rect x="52.14" y="-56.76" width="3.3" height="3.5" fill="#c9944c"/>
<rect x="61.65" y="-49.63" width="3.3" height="3.5" fill="#c9944c"/>
<rect x="71.16" y="-36.39" width="3.3" height="3.5" fill="#c9944c"/>
<rect x="80.66" y="-18.24" width="3.3" height="3.5" fill="#c9944c"/>
<rect x="90.17" y="-7.06" width="3.3" height="3.5" fill="#c9944c"/>
<rect x="99.68" y="-3.18" width="3.3" height="3.5" fill="#c9944c"/>
<rect x="109.19" y="-2.09" width="3.3" height="3.5" fill="#c9944c"/>
<rect x="118.7" y="-1.75" width="3.3" height="3.5" fill="#c9944c"/>
<rect x="128.2" y="-1.75" width="3.3" height="3.5" fill="#c9944c"/>
<rect x="137.71" y="-1.75" width="3.3" height="3.5" fill="#c9944c"/>
<rect x="147.22" y="-1.75" width="3.3" height="3.5" fill="#c9944c"/>
<rect x="156.73" y="-1.75" width="3.3" height="3.5" fill="#c9944c"/>
<rect x="166.24" y="-1.75" width="3.3" height="3.5" fill="#c9944c"/>
<path d="M4.6 1.65L7.9 1.65L6.25 -2Z" fill="#e09b3f"/>
<path d="M14.11 -4.46L17.41 -4.46L15.76 -8.11Z" fill="#e09b3f"/>
<path d="M23.62 -24.23L26.92 -24.23L25.27 -27.88Z" fill="#e09b3f"/>
<path d="M33.12 -49.91L36.42 -49.91L34.77 -53.56Z" fill="#e09b3f"/>
<path d="M42.63 -59.3L45.93 -59.3L44.28 -62.95Z" fill="#e09b3f"/>
<path d="M52.14 -53.36L55.44 -53.36L53.79 -57.01Z" fill="#e09b3f"/>
<path d="M61.65 -46.23L64.95 -46.23L63.3 -49.88Z" fill="#e09b3f"/>
<path d="M71.16 -32.99L74.46 -32.99L72.81 -36.64Z" fill="#e09b3f"/>
<path d="M80.66 -14.84L83.96 -14.84L82.31 -18.49Z" fill="#e09b3f"/>
<path d="M90.17 -3.66L93.47 -3.66L91.82 -7.31Z" fill="#e09b3f"/>
<path d="M99.68 0.22L102.98 0.22L101.33 -3.43Z" fill="#e09b3f"/>
<path d="M109.19 1.31L112.49 1.31L110.84 -2.34Z" fill="#e09b3f"/>
<path d="M118.7 1.65L122 1.65L120.35 -2Z" fill="#e09b3f"/>
<path d="M128.2 1.65L131.5 1.65L129.85 -2Z" fill="#e09b3f"/>
<path d="M137.71 1.65L141.01 1.65L139.36 -2Z" fill="#e09b3f"/>
<path d="M147.22 1.65L150.52 1.65L148.87 -2Z" fill="#e09b3f"/>
<path d="M156.73 1.65L160.03 1.65L158.38 -2Z" fill="#e09b3f"/>
<path d="M166.24 1.65L169.54 1.65L167.89 -2Z" fill="#e09b3f"/>
<path fill="none" stroke="#bfb276" stroke-width="0.75" stroke-linejoin="round" stroke-linecap="round" d="M110.84 -0.84L120.35 -0.5L129.85 -0.5L139.36 -0.5L148.87 -0.5L158.38 -0.5L167.89 -0.5"/>
<path fill="none" stroke="#bfb276" stroke-width="1.25" stroke-linejoin="round" stroke-linecap="round" d="M6.25 -0L15.76 -6.11L25.27 -25.88L34.77 -51.56L44.28 -60.95L53.79 -55.01L63.3 -47.88L72.81 -34.64L82.31 -16.49L91.82 -5.31L101.33 -1.43L110.84 -0.34"/>
<path d="M4.6 -1.65L7.9 -1.65L6.25 2Z" fill="#bfb276"/>
<path d="M14.11 -7.76L17.41 -7.76L15.76 -4.11Z" fill="#bfb276"/>
<path d="M23.62 -27.53L26.92 -27.53L25.27 -23.88Z" fill="#bfb276"/>
<path d="M33.12 -53.21L36.42 -53.21L34.77 -49.56Z" fill="#bfb276"/>
<path d="M42.63 -62.6L45.93 -62.6L44.28 -58.95Z" fill="#bfb276"/>
<path d="M52.14 -56.66L55.44 -56.66L53.79 -53.01Z" fill="#bfb276"/>
<path d="M61.65 -49.53L64.95 -49.53L63.3 -45.88Z" fill="#bfb276"/>
<path d="M71.16 -36.29L74.46 -36.29L72.81 -32.64Z" fill="#bfb276"/>
<path d="M80.66 -18.14L83.96 -18.14L82.31 -14.49Z" fill="#bfb276"/>
<path d="M90.17 -6.96L93.47 -6.96L91.82 -3.31Z" fill="#bfb276"/>
<path d="M99.68 -3.08L102.98 -3.08L101.33 0.57Z" fill="#bfb276"/>
<path d="M109.19 -1.99L112.49 -1.99L110.84 1.66Z" fill="#bfb276"/>
<path d="M118.7 -1.65L122 -1.65L120.35 2Z" fill="#bfb276"/>
<path d="M128.2 -1.65L131.5 -1.65L129.85 2Z" fill="#bfb276"/>
<path d="M137.71 -1.65L141.01 -1.65L139.36 2Z" fill="#bfb276"/>
<path d="M147.22 -1.65L150.52 -1.65L148.87 2Z" fill="#bfb276"/>
<path d="M156.73 -1.65L160.03 -1.65L158.38 2Z" fill="#bfb276"/>
<path d="M166.24 -1.65L169.54 -1.65L167.89 2Z" fill="#bfb276"/>
<text class="b" transform="translate(87.28 -97.2) scale(0.952 1)" font-size="8.61" text-anchor="middle" fill="#111">Eastern Europe</text>
<text x="179.77" y="2.4" font-size="7.15" fill="#1f1f1f" stroke="#1f1f1f" stroke-width="0.12">age (year)</text>
</g>
<g transform="translate(326.52 1180.45) scale(1.17 1)">
<path d="M0 -86.13V0.53M-0.53 0H174.56" stroke="#0d0d0d" stroke-width="1.05" fill="none"/>
<text class="b" transform="translate(-3.2 2.35) scale(0.93 1)" font-size="6.65" text-anchor="end" fill="#0d0d0d">0</text>
<text class="b" transform="translate(-3.2 -26.18) scale(0.93 1)" font-size="6.65" text-anchor="end" fill="#0d0d0d">500</text>
<text class="b" transform="translate(-3.2 -54.72) scale(0.93 1)" font-size="6.65" text-anchor="end" fill="#0d0d0d">1000</text>
<text class="b" transform="translate(-3.2 -83.25) scale(0.93 1)" font-size="6.65" text-anchor="end" fill="#0d0d0d">1500</text>
<text class="b" transform="translate(8.25 8.55) rotate(-45)" font-size="6.4" text-anchor="end" fill="#0d0d0d">10 to 14</text>
<text class="b" transform="translate(17.76 8.55) rotate(-45)" font-size="6.4" text-anchor="end" fill="#0d0d0d">15 to 19</text>
<text class="b" transform="translate(27.27 8.55) rotate(-45)" font-size="6.4" text-anchor="end" fill="#0d0d0d">20 to 24</text>
<text class="b" transform="translate(36.77 8.55) rotate(-45)" font-size="6.4" text-anchor="end" fill="#0d0d0d">25 to 29</text>
<text class="b" transform="translate(46.28 8.55) rotate(-45)" font-size="6.4" text-anchor="end" fill="#0d0d0d">30 to 34</text>
<text class="b" transform="translate(55.79 8.55) rotate(-45)" font-size="6.4" text-anchor="end" fill="#0d0d0d">35 to 39</text>
<text class="b" transform="translate(65.3 8.55) rotate(-45)" font-size="6.4" text-anchor="end" fill="#0d0d0d">40 to 44</text>
<text class="b" transform="translate(74.81 8.55) rotate(-45)" font-size="6.4" text-anchor="end" fill="#0d0d0d">45 to 49</text>
<text class="b" transform="translate(84.31 8.55) rotate(-45)" font-size="6.4" text-anchor="end" fill="#0d0d0d">50 to 54</text>
<text class="b" transform="translate(93.82 8.55) rotate(-45)" font-size="6.4" text-anchor="end" fill="#0d0d0d">55 to 59</text>
<text class="b" transform="translate(103.33 8.55) rotate(-45)" font-size="6.4" text-anchor="end" fill="#0d0d0d">60 to 64</text>
<text class="b" transform="translate(112.84 8.55) rotate(-45)" font-size="6.4" text-anchor="end" fill="#0d0d0d">65 to 69</text>
<text class="b" transform="translate(122.35 8.55) rotate(-45)" font-size="6.4" text-anchor="end" fill="#0d0d0d">70 to 74</text>
<text class="b" transform="translate(131.85 8.55) rotate(-45)" font-size="6.4" text-anchor="end" fill="#0d0d0d">75 to 79</text>
<text class="b" transform="translate(141.36 8.55) rotate(-45)" font-size="6.4" text-anchor="end" fill="#0d0d0d">80 to 84</text>
<text class="b" transform="translate(150.87 8.55) rotate(-45)" font-size="6.4" text-anchor="end" fill="#0d0d0d">85 to 89</text>
<text class="b" transform="translate(160.38 8.55) rotate(-45)" font-size="6.4" text-anchor="end" fill="#0d0d0d">90 to 94</text>
<text class="b" transform="translate(169.89 8.55) rotate(-45)" font-size="6.4" text-anchor="end" fill="#0d0d0d">95 plus</text>
<path d="M-2.4 0H0M-2.4 -28.53H0M-2.4 -57.07H0M-2.4 -85.6H0M6.25 0V3.1M15.76 0V3.1M25.27 0V3.1M34.77 0V3.1M44.28 0V3.1M53.79 0V3.1M63.3 0V3.1M72.81 0V3.1M82.31 0V3.1M91.82 0V3.1M101.33 0V3.1M110.84 0V3.1M120.35 0V3.1M129.85 0V3.1M139.36 0V3.1M148.87 0V3.1M158.38 0V3.1M167.89 0V3.1" stroke="#0d0d0d" stroke-width="1.05" fill="none"/>
<ellipse cx="6.25" cy="-2.05" rx="1.45" ry="1.55" fill="#8f601f"/>
<ellipse cx="15.76" cy="-19.57" rx="1.45" ry="1.55" fill="#8f601f"/>
<ellipse cx="25.27" cy="-46.85" rx="1.45" ry="1.55" fill="#8f601f"/>
<ellipse cx="34.77" cy="-54.21" rx="1.45" ry="1.55" fill="#8f601f"/>
<ellipse cx="44.28" cy="-49.08" rx="1.45" ry="1.55" fill="#8f601f"/>
<ellipse cx="53.79" cy="-46.45" rx="1.45" ry="1.55" fill="#8f601f"/>
<ellipse cx="63.3" cy="-49.53" rx="1.45" ry="1.55" fill="#8f601f"/>
<ellipse cx="72.81" cy="-48.51" rx="1.45" ry="1.55" fill="#8f601f"/>
<ellipse cx="82.31" cy="-32.53" rx="1.45" ry="1.55" fill="#8f601f"/>
<ellipse cx="91.82" cy="-15.29" rx="1.45" ry="1.55" fill="#8f601f"/>
<ellipse cx="101.33" cy="-5.31" rx="1.45" ry="1.55" fill="#8f601f"/>
<ellipse cx="110.84" cy="-1.65" rx="1.45" ry="1.55" fill="#8f601f"/>
<ellipse cx="120.35" cy="-0.57" rx="1.45" ry="1.55" fill="#8f601f"/>
<ellipse cx="129.85" cy="-0" rx="1.45" ry="1.55" fill="#8f601f"/>
<ellipse cx="139.36" cy="-0" rx="1.45" ry="1.55" fill="#8f601f"/>
<ellipse cx="148.87" cy="-0" rx="1.45" ry="1.55" fill="#8f601f"/>
<ellipse cx="158.38" cy="-0" rx="1.45" ry="1.55" fill="#8f601f"/>
<ellipse cx="167.89" cy="-0" rx="1.45" ry="1.55" fill="#8f601f"/>
<path fill="none" stroke="#c9944c" stroke-width="0.98" stroke-linejoin="round" stroke-linecap="round" d="M15.76 -20.26L25.27 -47.94L34.77 -54.5L44.28 -49.36L53.79 -45.65L63.3 -49.65"/>
<rect x="4.6" y="-3.8" width="3.3" height="3.5" fill="#c9944c"/>
<rect x="14.11" y="-22.01" width="3.3" height="3.5" fill="#c9944c"/>
<rect x="23.62" y="-49.69" width="3.3" height="3.5" fill="#c9944c"/>
<rect x="33.12" y="-56.25" width="3.3" height="3.5" fill="#c9944c"/>
<rect x="42.63" y="-51.11" width="3.3" height="3.5" fill="#c9944c"/>
<rect x="52.14" y="-47.4" width="3.3" height="3.5" fill="#c9944c"/>
<rect x="61.65" y="-51.4" width="3.3" height="3.5" fill="#c9944c"/>
<rect x="71.16" y="-50.26" width="3.3" height="3.5" fill="#c9944c"/>
<rect x="80.66" y="-33.94" width="3.3" height="3.5" fill="#c9944c"/>
<rect x="90.17" y="-17.04" width="3.3" height="3.5" fill="#c9944c"/>
<rect x="99.68" y="-7.06" width="3.3" height="3.5" fill="#c9944c"/>
<rect x="109.19" y="-3.4" width="3.3" height="3.5" fill="#c9944c"/>
<rect x="118.7" y="-2.32" width="3.3" height="3.5" fill="#c9944c"/>
<rect x="128.2" y="-1.75" width="3.3" height="3.5" fill="#c9944c"/>
<rect x="137.71" y="-1.75" width="3.3" height="3.5" fill="#c9944c"/>
<rect x="147.22" y="-1.75" width="3.3" height="3.5" fill="#c9944c"/>
<rect x="156.73" y="-1.75" width="3.3" height="3.5" fill="#c9944c"/>
<rect x="166.24" y="-1.75" width="3.3" height="3.5" fill="#c9944c"/>
<path fill="none" stroke="#e09b3f" stroke-width="0.98" stroke-linejoin="round" stroke-linecap="round" d="M6.25 -2.05L15.76 -21L25.27 -48.91L34.77 -54.78L44.28 -48.51L53.79 -44.45L63.3 -49.08"/>
<path fill="none" stroke="#e09b3f" stroke-width="1.25" stroke-linejoin="round" stroke-linecap="round" d="M63.3 -49.08L72.81 -48.22"/>
<path d="M4.6 -0.4L7.9 -0.4L6.25 -4.05Z" fill="#e09b3f"/>
<path d="M14.11 -19.35L17.41 -19.35L15.76 -23Z" fill="#e09b3f"/>
<path d="M23.62 -47.26L26.92 -47.26L25.27 -50.91Z" fill="#e09b3f"/>
<path d="M33.12 -53.13L36.42 -53.13L34.77 -56.78Z" fill="#e09b3f"/>
<path d="M42.63 -46.86L45.93 -46.86L44.28 -50.51Z" fill="#e09b3f"/>
<path d="M52.14 -42.8L55.44 -42.8L53.79 -46.45Z" fill="#e09b3f"/>
<path d="M61.65 -47.43L64.95 -47.43L63.3 -51.08Z" fill="#e09b3f"/>
<path d="M71.16 -46.57L74.46 -46.57L72.81 -50.22Z" fill="#e09b3f"/>
<path d="M80.66 -30.31L83.96 -30.31L82.31 -33.96Z" fill="#e09b3f"/>
<path d="M90.17 -13.64L93.47 -13.64L91.82 -17.29Z" fill="#e09b3f"/>
<path d="M99.68 -3.66L102.98 -3.66L101.33 -7.31Z" fill="#e09b3f"/>
<path d="M109.19 -0L112.49 -0L110.84 -3.65Z" fill="#e09b3f"/>
<path d="M118.7 1.08L122 1.08L120.35 -2.57Z" fill="#e09b3f"/>
<path d="M128.2 1.65L131.5 1.65L129.85 -2Z" fill="#e09b3f"/>
<path d="M137.71 1.65L141.01 1.65L139.36 -2Z" fill="#e09b3f"/>
<path d="M147.22 1.65L150.52 1.65L148.87 -2Z" fill="#e09b3f"/>
<path d="M156.73 1.65L160.03 1.65L158.38 -2Z" fill="#e09b3f"/>
<path d="M166.24 1.65L169.54 1.65L167.89 -2Z" fill="#e09b3f"/>
<path fill="none" stroke="#bfb276" stroke-width="0.75" stroke-linejoin="round" stroke-linecap="round" d="M120.35 -1.07L129.85 -0.5L139.36 -0.5L148.87 -0.5L158.38 -0.5L167.89 -0.5"/>
<path fill="none" stroke="#bfb276" stroke-width="0.98" stroke-linejoin="round" stroke-linecap="round" d="M15.76 -19.97L25.27 -46.85L34.77 -53.93L44.28 -49.53L53.79 -46.45L63.3 -49.93"/>
<path fill="none" stroke="#bfb276" stroke-width="1.25" stroke-linejoin="round" stroke-linecap="round" d="M6.25 -2.05L15.76 -19.97M63.3 -49.93L72.81 -48.51L82.31 -32.19L91.82 -15.29L101.33 -5.31L110.84 -1.65L120.35 -0.57"/>
<path d="M4.6 -3.7L7.9 -3.7L6.25 -0.05Z" fill="#bfb276"/>
<path d="M14.11 -21.62L17.41 -21.62L15.76 -17.97Z" fill="#bfb276"/>
<path d="M23.62 -48.5L26.92 -48.5L25.27 -44.85Z" fill="#bfb276"/>
<path d="M33.12 -55.58L36.42 -55.58L34.77 -51.93Z" fill="#bfb276"/>
<path d="M42.63 -51.18L45.93 -51.18L44.28 -47.53Z" fill="#bfb276"/>
<path d="M52.14 -48.1L55.44 -48.1L53.79 -44.45Z" fill="#bfb276"/>
<path d="M61.65 -51.58L64.95 -51.58L63.3 -47.93Z" fill="#bfb276"/>
<path d="M71.16 -50.16L74.46 -50.16L72.81 -46.51Z" fill="#bfb276"/>
<path d="M80.66 -33.84L83.96 -33.84L82.31 -30.19Z" fill="#bfb276"/>
<path d="M90.17 -16.94L93.47 -16.94L91.82 -13.29Z" fill="#bfb276"/>
<path d="M99.68 -6.96L102.98 -6.96L101.33 -3.31Z" fill="#bfb276"/>
<path d="M109.19 -3.3L112.49 -3.3L110.84 0.35Z" fill="#bfb276"/>
<path d="M118.7 -2.22L122 -2.22L120.35 1.43Z" fill="#bfb276"/>
<path d="M128.2 -1.65L131.5 -1.65L129.85 2Z" fill="#bfb276"/>
<path d="M137.71 -1.65L141.01 -1.65L139.36 2Z" fill="#bfb276"/>
<path d="M147.22 -1.65L150.52 -1.65L148.87 2Z" fill="#bfb276"/>
<path d="M156.73 -1.65L160.03 -1.65L158.38 2Z" fill="#bfb276"/>
<path d="M166.24 -1.65L169.54 -1.65L167.89 2Z" fill="#bfb276"/>
<text class="b" transform="translate(87.28 -97.2) scale(0.952 1)" font-size="8.61" text-anchor="middle" fill="#111">Western Europe</text>
<text x="179.77" y="2.4" font-size="7.15" fill="#1f1f1f" stroke="#1f1f1f" stroke-width="0.12">age (year)</text>
</g>
<g transform="translate(67.4 1314.65) scale(1.17 1)">
<path d="M0 -86.08V0.53M-0.53 0H174.07" stroke="#0d0d0d" stroke-width="1.05" fill="none"/>
<text class="b" transform="translate(-3.2 2.35) scale(0.93 1)" font-size="6.65" text-anchor="end" fill="#0d0d0d">0</text>
<text class="b" transform="translate(-3.2 -26.17) scale(0.93 1)" font-size="6.65" text-anchor="end" fill="#0d0d0d">1000</text>
<text class="b" transform="translate(-3.2 -54.68) scale(0.93 1)" font-size="6.65" text-anchor="end" fill="#0d0d0d">2000</text>
<text class="b" transform="translate(-3.2 -83.2) scale(0.93 1)" font-size="6.65" text-anchor="end" fill="#0d0d0d">3000</text>
<text class="b" transform="translate(8.23 8.55) rotate(-45)" font-size="6.4" text-anchor="end" fill="#0d0d0d">10 to 14</text>
<text class="b" transform="translate(17.71 8.55) rotate(-45)" font-size="6.4" text-anchor="end" fill="#0d0d0d">15 to 19</text>
<text class="b" transform="translate(27.19 8.55) rotate(-45)" font-size="6.4" text-anchor="end" fill="#0d0d0d">20 to 24</text>
<text class="b" transform="translate(36.68 8.55) rotate(-45)" font-size="6.4" text-anchor="end" fill="#0d0d0d">25 to 29</text>
<text class="b" transform="translate(46.16 8.55) rotate(-45)" font-size="6.4" text-anchor="end" fill="#0d0d0d">30 to 34</text>
<text class="b" transform="translate(55.64 8.55) rotate(-45)" font-size="6.4" text-anchor="end" fill="#0d0d0d">35 to 39</text>
<text class="b" transform="translate(65.12 8.55) rotate(-45)" font-size="6.4" text-anchor="end" fill="#0d0d0d">40 to 44</text>
<text class="b" transform="translate(74.6 8.55) rotate(-45)" font-size="6.4" text-anchor="end" fill="#0d0d0d">45 to 49</text>
<text class="b" transform="translate(84.08 8.55) rotate(-45)" font-size="6.4" text-anchor="end" fill="#0d0d0d">50 to 54</text>
<text class="b" transform="translate(93.57 8.55) rotate(-45)" font-size="6.4" text-anchor="end" fill="#0d0d0d">55 to 59</text>
<text class="b" transform="translate(103.05 8.55) rotate(-45)" font-size="6.4" text-anchor="end" fill="#0d0d0d">60 to 64</text>
<text class="b" transform="translate(112.53 8.55) rotate(-45)" font-size="6.4" text-anchor="end" fill="#0d0d0d">65 to 69</text>
<text class="b" transform="translate(122.01 8.55) rotate(-45)" font-size="6.4" text-anchor="end" fill="#0d0d0d">70 to 74</text>
<text class="b" transform="translate(131.49 8.55) rotate(-45)" font-size="6.4" text-anchor="end" fill="#0d0d0d">75 to 79</text>
<text class="b" transform="translate(140.97 8.55) rotate(-45)" font-size="6.4" text-anchor="end" fill="#0d0d0d">80 to 84</text>
<text class="b" transform="translate(150.46 8.55) rotate(-45)" font-size="6.4" text-anchor="end" fill="#0d0d0d">85 to 89</text>
<text class="b" transform="translate(159.94 8.55) rotate(-45)" font-size="6.4" text-anchor="end" fill="#0d0d0d">90 to 94</text>
<text class="b" transform="translate(169.42 8.55) rotate(-45)" font-size="6.4" text-anchor="end" fill="#0d0d0d">95 plus</text>
<path d="M-2.4 0H0M-2.4 -28.52H0M-2.4 -57.03H0M-2.4 -85.55H0M6.23 0V3.1M15.71 0V3.1M25.19 0V3.1M34.68 0V3.1M44.16 0V3.1M53.64 0V3.1M63.12 0V3.1M72.6 0V3.1M82.08 0V3.1M91.57 0V3.1M101.05 0V3.1M110.53 0V3.1M120.01 0V3.1M129.49 0V3.1M138.97 0V3.1M148.46 0V3.1M157.94 0V3.1M167.42 0V3.1" stroke="#0d0d0d" stroke-width="1.05" fill="none"/>
<path fill="none" stroke="#8f601f" stroke-width="0.98" stroke-linejoin="round" stroke-linecap="round" d="M25.19 -53.33L34.68 -68.87L44.16 -68.87L53.64 -66.61L63.12 -67.61L72.6 -57.43L82.08 -31.57L91.57 -12.83L101.05 -3.99"/>
<ellipse cx="6.23" cy="-1.63" rx="1.45" ry="1.55" fill="#8f601f"/>
<ellipse cx="15.71" cy="-20.39" rx="1.45" ry="1.55" fill="#8f601f"/>
<ellipse cx="25.19" cy="-53.33" rx="1.45" ry="1.55" fill="#8f601f"/>
<ellipse cx="34.68" cy="-68.87" rx="1.45" ry="1.55" fill="#8f601f"/>
<ellipse cx="44.16" cy="-68.87" rx="1.45" ry="1.55" fill="#8f601f"/>
<ellipse cx="53.64" cy="-66.61" rx="1.45" ry="1.55" fill="#8f601f"/>
<ellipse cx="63.12" cy="-67.61" rx="1.45" ry="1.55" fill="#8f601f"/>
<ellipse cx="72.6" cy="-57.43" rx="1.45" ry="1.55" fill="#8f601f"/>
<ellipse cx="82.08" cy="-31.57" rx="1.45" ry="1.55" fill="#8f601f"/>
<ellipse cx="91.57" cy="-12.83" rx="1.45" ry="1.55" fill="#8f601f"/>
<ellipse cx="101.05" cy="-3.99" rx="1.45" ry="1.55" fill="#8f601f"/>
<ellipse cx="110.53" cy="-1.14" rx="1.45" ry="1.55" fill="#8f601f"/>
<ellipse cx="120.01" cy="-0.29" rx="1.45" ry="1.55" fill="#8f601f"/>
<ellipse cx="129.49" cy="-0" rx="1.45" ry="1.55" fill="#8f601f"/>
<ellipse cx="138.97" cy="-0" rx="1.45" ry="1.55" fill="#8f601f"/>
<ellipse cx="148.46" cy="-0" rx="1.45" ry="1.55" fill="#8f601f"/>
<ellipse cx="157.94" cy="-0" rx="1.45" ry="1.55" fill="#8f601f"/>
<ellipse cx="167.42" cy="-0" rx="1.45" ry="1.55" fill="#8f601f"/>
<path fill="none" stroke="#c9944c" stroke-width="0.98" stroke-linejoin="round" stroke-linecap="round" d="M6.23 -1.63L15.71 -19.39L25.19 -50.33L34.68 -61.74L44.16 -61.11L53.64 -60.08L63.12 -60.74L72.6 -51.33L82.08 -29.54L91.57 -12.26"/>
<rect x="4.58" y="-3.38" width="3.3" height="3.5" fill="#c9944c"/>
<rect x="14.06" y="-21.14" width="3.3" height="3.5" fill="#c9944c"/>
<rect x="23.54" y="-52.08" width="3.3" height="3.5" fill="#c9944c"/>
<rect x="33.03" y="-63.49" width="3.3" height="3.5" fill="#c9944c"/>
<rect x="42.51" y="-62.86" width="3.3" height="3.5" fill="#c9944c"/>
<rect x="51.99" y="-61.83" width="3.3" height="3.5" fill="#c9944c"/>
<rect x="61.47" y="-62.49" width="3.3" height="3.5" fill="#c9944c"/>
<rect x="70.95" y="-53.08" width="3.3" height="3.5" fill="#c9944c"/>
<rect x="80.43" y="-31.29" width="3.3" height="3.5" fill="#c9944c"/>
<rect x="89.92" y="-14.01" width="3.3" height="3.5" fill="#c9944c"/>
<rect x="99.4" y="-5.46" width="3.3" height="3.5" fill="#c9944c"/>
<rect x="108.88" y="-2.89" width="3.3" height="3.5" fill="#c9944c"/>
<rect x="118.36" y="-2.04" width="3.3" height="3.5" fill="#c9944c"/>
<rect x="127.84" y="-1.75" width="3.3" height="3.5" fill="#c9944c"/>
<rect x="137.32" y="-1.75" width="3.3" height="3.5" fill="#c9944c"/>
<rect x="146.81" y="-1.75" width="3.3" height="3.5" fill="#c9944c"/>
<rect x="156.29" y="-1.75" width="3.3" height="3.5" fill="#c9944c"/>
<rect x="165.77" y="-1.75" width="3.3" height="3.5" fill="#c9944c"/>
<path fill="none" stroke="#e09b3f" stroke-width="0.98" stroke-linejoin="round" stroke-linecap="round" d="M6.23 -1.63L15.71 -24.81L25.19 -57.03L34.68 -58.03L44.16 -57.03L53.64 -58.03L63.12 -59.49L72.6 -52.36L82.08 -28.92L91.57 -11.83L101.05 -3.56"/>
<path fill="none" stroke="#e09b3f" stroke-width="1.25" stroke-linejoin="round" stroke-linecap="round" d="M101.05 -3.56L110.53 -1.14"/>
<path d="M4.58 0.02L7.88 0.02L6.23 -3.63Z" fill="#e09b3f"/>
<path d="M14.06 -23.16L17.36 -23.16L15.71 -26.81Z" fill="#e09b3f"/>
<path d="M23.54 -55.38L26.84 -55.38L25.19 -59.03Z" fill="#e09b3f"/>
<path d="M33.03 -56.38L36.33 -56.38L34.68 -60.03Z" fill="#e09b3f"/>
<path d="M42.51 -55.38L45.81 -55.38L44.16 -59.03Z" fill="#e09b3f"/>
<path d="M51.99 -56.38L55.29 -56.38L53.64 -60.03Z" fill="#e09b3f"/>
<path d="M61.47 -57.84L64.77 -57.84L63.12 -61.49Z" fill="#e09b3f"/>
<path d="M70.95 -50.71L74.25 -50.71L72.6 -54.36Z" fill="#e09b3f"/>
<path d="M80.43 -27.27L83.73 -27.27L82.08 -30.92Z" fill="#e09b3f"/>
<path d="M89.92 -10.18L93.22 -10.18L91.57 -13.83Z" fill="#e09b3f"/>
<path d="M99.4 -1.91L102.7 -1.91L101.05 -5.56Z" fill="#e09b3f"/>
<path d="M108.88 0.51L112.18 0.51L110.53 -3.14Z" fill="#e09b3f"/>
<path d="M118.36 1.36L121.66 1.36L120.01 -2.29Z" fill="#e09b3f"/>
<path d="M127.84 1.65L131.14 1.65L129.49 -2Z" fill="#e09b3f"/>
<path d="M137.32 1.65L140.62 1.65L138.97 -2Z" fill="#e09b3f"/>
<path d="M146.81 1.65L150.11 1.65L148.46 -2Z" fill="#e09b3f"/>
<path d="M156.29 1.65L159.59 1.65L157.94 -2Z" fill="#e09b3f"/>
<path d="M165.77 1.65L169.07 1.65L167.42 -2Z" fill="#e09b3f"/>
<path fill="none" stroke="#bfb276" stroke-width="0.75" stroke-linejoin="round" stroke-linecap="round" d="M120.01 -0.79L129.49 -0.5L138.97 -0.5L148.46 -0.5L157.94 -0.5L167.42 -0.5"/>
<path fill="none" stroke="#bfb276" stroke-width="0.98" stroke-linejoin="round" stroke-linecap="round" d="M6.23 -1.63L15.71 -19.96L25.19 -53.33L34.68 -67.21L44.16 -66.81L53.64 -65.19L63.12 -66.61L72.6 -56.46L82.08 -32.59L91.57 -13.69L101.05 -4.28"/>
<path fill="none" stroke="#bfb276" stroke-width="1.25" stroke-linejoin="round" stroke-linecap="round" d="M101.05 -4.28L110.53 -1.14L120.01 -0.29"/>
<path d="M4.58 -3.28L7.88 -3.28L6.23 0.37Z" fill="#bfb276"/>
<path d="M14.06 -21.61L17.36 -21.61L15.71 -17.96Z" fill="#bfb276"/>
<path d="M23.54 -54.98L26.84 -54.98L25.19 -51.33Z" fill="#bfb276"/>
<path d="M33.03 -68.86L36.33 -68.86L34.68 -65.21Z" fill="#bfb276"/>
<path d="M42.51 -68.46L45.81 -68.46L44.16 -64.81Z" fill="#bfb276"/>
<path d="M51.99 -66.84L55.29 -66.84L53.64 -63.19Z" fill="#bfb276"/>
<path d="M61.47 -68.26L64.77 -68.26L63.12 -64.61Z" fill="#bfb276"/>
<path d="M70.95 -58.11L74.25 -58.11L72.6 -54.46Z" fill="#bfb276"/>
<path d="M80.43 -34.24L83.73 -34.24L82.08 -30.59Z" fill="#bfb276"/>
<path d="M89.92 -15.34L93.22 -15.34L91.57 -11.69Z" fill="#bfb276"/>
<path d="M99.4 -5.93L102.7 -5.93L101.05 -2.28Z" fill="#bfb276"/>
<path d="M108.88 -2.79L112.18 -2.79L110.53 0.86Z" fill="#bfb276"/>
<path d="M118.36 -1.94L121.66 -1.94L120.01 1.71Z" fill="#bfb276"/>
<path d="M127.84 -1.65L131.14 -1.65L129.49 2Z" fill="#bfb276"/>
<path d="M137.32 -1.65L140.62 -1.65L138.97 2Z" fill="#bfb276"/>
<path d="M146.81 -1.65L150.11 -1.65L148.46 2Z" fill="#bfb276"/>
<path d="M156.29 -1.65L159.59 -1.65L157.94 2Z" fill="#bfb276"/>
<path d="M165.77 -1.65L169.07 -1.65L167.42 2Z" fill="#bfb276"/>
<text class="b" transform="translate(87.03 -96.65) scale(0.952 1)" font-size="8.61" text-anchor="middle" fill="#111">Australasia</text>
<text x="179.28" y="2.4" font-size="7.15" fill="#1f1f1f" stroke="#1f1f1f" stroke-width="0.12">age (year)</text>
</g>
<g transform="translate(327.35 1314.65) scale(1.17 1)">
<path d="M0 -86.08V0.53M-0.53 0H174.37" stroke="#0d0d0d" stroke-width="1.05" fill="none"/>
<text class="b" transform="translate(-3.2 2.35) scale(0.93 1)" font-size="6.65" text-anchor="end" fill="#0d0d0d">0</text>
<text class="b" transform="translate(-3.2 -26.17) scale(0.93 1)" font-size="6.65" text-anchor="end" fill="#0d0d0d">1000</text>
<text class="b" transform="translate(-3.2 -54.68) scale(0.93 1)" font-size="6.65" text-anchor="end" fill="#0d0d0d">2000</text>
<text class="b" transform="translate(-3.2 -83.2) scale(0.93 1)" font-size="6.65" text-anchor="end" fill="#0d0d0d">3000</text>
<text class="b" transform="translate(8.24 8.55) rotate(-45)" font-size="6.4" text-anchor="end" fill="#0d0d0d">10 to 14</text>
<text class="b" transform="translate(17.74 8.55) rotate(-45)" font-size="6.4" text-anchor="end" fill="#0d0d0d">15 to 19</text>
<text class="b" transform="translate(27.24 8.55) rotate(-45)" font-size="6.4" text-anchor="end" fill="#0d0d0d">20 to 24</text>
<text class="b" transform="translate(36.74 8.55) rotate(-45)" font-size="6.4" text-anchor="end" fill="#0d0d0d">25 to 29</text>
<text class="b" transform="translate(46.23 8.55) rotate(-45)" font-size="6.4" text-anchor="end" fill="#0d0d0d">30 to 34</text>
<text class="b" transform="translate(55.73 8.55) rotate(-45)" font-size="6.4" text-anchor="end" fill="#0d0d0d">35 to 39</text>
<text class="b" transform="translate(65.23 8.55) rotate(-45)" font-size="6.4" text-anchor="end" fill="#0d0d0d">40 to 44</text>
<text class="b" transform="translate(74.73 8.55) rotate(-45)" font-size="6.4" text-anchor="end" fill="#0d0d0d">45 to 49</text>
<text class="b" transform="translate(84.23 8.55) rotate(-45)" font-size="6.4" text-anchor="end" fill="#0d0d0d">50 to 54</text>
<text class="b" transform="translate(93.72 8.55) rotate(-45)" font-size="6.4" text-anchor="end" fill="#0d0d0d">55 to 59</text>
<text class="b" transform="translate(103.22 8.55) rotate(-45)" font-size="6.4" text-anchor="end" fill="#0d0d0d">60 to 64</text>
<text class="b" transform="translate(112.72 8.55) rotate(-45)" font-size="6.4" text-anchor="end" fill="#0d0d0d">65 to 69</text>
<text class="b" transform="translate(122.22 8.55) rotate(-45)" font-size="6.4" text-anchor="end" fill="#0d0d0d">70 to 74</text>
<text class="b" transform="translate(131.72 8.55) rotate(-45)" font-size="6.4" text-anchor="end" fill="#0d0d0d">75 to 79</text>
<text class="b" transform="translate(141.21 8.55) rotate(-45)" font-size="6.4" text-anchor="end" fill="#0d0d0d">80 to 84</text>
<text class="b" transform="translate(150.71 8.55) rotate(-45)" font-size="6.4" text-anchor="end" fill="#0d0d0d">85 to 89</text>
<text class="b" transform="translate(160.21 8.55) rotate(-45)" font-size="6.4" text-anchor="end" fill="#0d0d0d">90 to 94</text>
<text class="b" transform="translate(169.71 8.55) rotate(-45)" font-size="6.4" text-anchor="end" fill="#0d0d0d">95 plus</text>
<path d="M-2.4 0H0M-2.4 -28.52H0M-2.4 -57.03H0M-2.4 -85.55H0M6.24 0V3.1M15.74 0V3.1M25.24 0V3.1M34.74 0V3.1M44.23 0V3.1M53.73 0V3.1M63.23 0V3.1M72.73 0V3.1M82.23 0V3.1M91.72 0V3.1M101.22 0V3.1M110.72 0V3.1M120.22 0V3.1M129.72 0V3.1M139.21 0V3.1M148.71 0V3.1M158.21 0V3.1M167.71 0V3.1" stroke="#0d0d0d" stroke-width="1.05" fill="none"/>
<path fill="none" stroke="#8f601f" stroke-width="0.98" stroke-linejoin="round" stroke-linecap="round" d="M15.74 -15.97L25.24 -47.91L34.74 -70.72L44.23 -70.29L53.73 -64.16"/>
<ellipse cx="6.24" cy="-1.03" rx="1.45" ry="1.55" fill="#8f601f"/>
<ellipse cx="15.74" cy="-15.97" rx="1.45" ry="1.55" fill="#8f601f"/>
<ellipse cx="25.24" cy="-47.91" rx="1.45" ry="1.55" fill="#8f601f"/>
<ellipse cx="34.74" cy="-70.72" rx="1.45" ry="1.55" fill="#8f601f"/>
<ellipse cx="44.23" cy="-70.29" rx="1.45" ry="1.55" fill="#8f601f"/>
<ellipse cx="53.73" cy="-64.16" rx="1.45" ry="1.55" fill="#8f601f"/>
<ellipse cx="63.23" cy="-60.17" rx="1.45" ry="1.55" fill="#8f601f"/>
<ellipse cx="72.73" cy="-49.05" rx="1.45" ry="1.55" fill="#8f601f"/>
<ellipse cx="82.23" cy="-28.12" rx="1.45" ry="1.55" fill="#8f601f"/>
<ellipse cx="91.72" cy="-11.81" rx="1.45" ry="1.55" fill="#8f601f"/>
<ellipse cx="101.22" cy="-3.45" rx="1.45" ry="1.55" fill="#8f601f"/>
<ellipse cx="110.72" cy="-1.03" rx="1.45" ry="1.55" fill="#8f601f"/>
<ellipse cx="120.22" cy="-0.29" rx="1.45" ry="1.55" fill="#8f601f"/>
<ellipse cx="129.72" cy="-0" rx="1.45" ry="1.55" fill="#8f601f"/>
<ellipse cx="139.21" cy="-0" rx="1.45" ry="1.55" fill="#8f601f"/>
<ellipse cx="148.71" cy="-0" rx="1.45" ry="1.55" fill="#8f601f"/>
<ellipse cx="158.21" cy="-0" rx="1.45" ry="1.55" fill="#8f601f"/>
<ellipse cx="167.71" cy="-0" rx="1.45" ry="1.55" fill="#8f601f"/>
<path fill="none" stroke="#c9944c" stroke-width="0.98" stroke-linejoin="round" stroke-linecap="round" d="M15.74 -16.25L25.24 -50.19L34.74 -73L44.23 -71.29L53.73 -64.16"/>
<rect x="4.59" y="-2.78" width="3.3" height="3.5" fill="#c9944c"/>
<rect x="14.09" y="-18" width="3.3" height="3.5" fill="#c9944c"/>
<rect x="23.59" y="-51.94" width="3.3" height="3.5" fill="#c9944c"/>
<rect x="33.09" y="-74.75" width="3.3" height="3.5" fill="#c9944c"/>
<rect x="42.58" y="-73.04" width="3.3" height="3.5" fill="#c9944c"/>
<rect x="52.08" y="-65.91" width="3.3" height="3.5" fill="#c9944c"/>
<rect x="61.58" y="-61.64" width="3.3" height="3.5" fill="#c9944c"/>
<rect x="71.08" y="-50.51" width="3.3" height="3.5" fill="#c9944c"/>
<rect x="80.58" y="-29.87" width="3.3" height="3.5" fill="#c9944c"/>
<rect x="90.07" y="-13.56" width="3.3" height="3.5" fill="#c9944c"/>
<rect x="99.57" y="-5.2" width="3.3" height="3.5" fill="#c9944c"/>
<rect x="109.07" y="-2.78" width="3.3" height="3.5" fill="#c9944c"/>
<rect x="118.57" y="-2.04" width="3.3" height="3.5" fill="#c9944c"/>
<rect x="128.07" y="-1.75" width="3.3" height="3.5" fill="#c9944c"/>
<rect x="137.56" y="-1.75" width="3.3" height="3.5" fill="#c9944c"/>
<rect x="147.06" y="-1.75" width="3.3" height="3.5" fill="#c9944c"/>
<rect x="156.56" y="-1.75" width="3.3" height="3.5" fill="#c9944c"/>
<rect x="166.06" y="-1.75" width="3.3" height="3.5" fill="#c9944c"/>
<path fill="none" stroke="#e09b3f" stroke-width="0.98" stroke-linejoin="round" stroke-linecap="round" d="M15.74 -16.54L25.24 -51.33L34.74 -73.86L44.23 -71.86"/>
<path fill="none" stroke="#e09b3f" stroke-width="1.25" stroke-linejoin="round" stroke-linecap="round" d="M53.73 -64.16L63.23 -59.49L72.73 -48.48L82.23 -28.12"/>
<path d="M4.59 0.62L7.89 0.62L6.24 -3.03Z" fill="#e09b3f"/>
<path d="M14.09 -14.89L17.39 -14.89L15.74 -18.54Z" fill="#e09b3f"/>
<path d="M23.59 -49.68L26.89 -49.68L25.24 -53.33Z" fill="#e09b3f"/>
<path d="M33.09 -72.21L36.39 -72.21L34.74 -75.86Z" fill="#e09b3f"/>
<path d="M42.58 -70.21L45.88 -70.21L44.23 -73.86Z" fill="#e09b3f"/>
<path d="M52.08 -62.51L55.38 -62.51L53.73 -66.16Z" fill="#e09b3f"/>
<path d="M61.58 -57.84L64.88 -57.84L63.23 -61.49Z" fill="#e09b3f"/>
<path d="M71.08 -46.83L74.38 -46.83L72.73 -50.48Z" fill="#e09b3f"/>
<path d="M80.58 -26.47L83.88 -26.47L82.23 -30.12Z" fill="#e09b3f"/>
<path d="M90.07 -10.16L93.37 -10.16L91.72 -13.81Z" fill="#e09b3f"/>
<path d="M99.57 -1.8L102.87 -1.8L101.22 -5.45Z" fill="#e09b3f"/>
<path d="M109.07 0.62L112.37 0.62L110.72 -3.03Z" fill="#e09b3f"/>
<path d="M118.57 1.36L121.87 1.36L120.22 -2.29Z" fill="#e09b3f"/>
<path d="M128.07 1.65L131.37 1.65L129.72 -2Z" fill="#e09b3f"/>
<path d="M137.56 1.65L140.86 1.65L139.21 -2Z" fill="#e09b3f"/>
<path d="M147.06 1.65L150.36 1.65L148.71 -2Z" fill="#e09b3f"/>
<path d="M156.56 1.65L159.86 1.65L158.21 -2Z" fill="#e09b3f"/>
<path d="M166.06 1.65L169.36 1.65L167.71 -2Z" fill="#e09b3f"/>
<path fill="none" stroke="#bfb276" stroke-width="0.75" stroke-linejoin="round" stroke-linecap="round" d="M120.22 -0.79L129.72 -0.5L139.21 -0.5L148.71 -0.5L158.21 -0.5L167.71 -0.5"/>
<path fill="none" stroke="#bfb276" stroke-width="0.98" stroke-linejoin="round" stroke-linecap="round" d="M15.74 -16.11L25.24 -49.33L34.74 -72.72L44.23 -72.29L53.73 -64.16L63.23 -61.11L72.73 -49.9L82.23 -28.12"/>
<path fill="none" stroke="#bfb276" stroke-width="1.25" stroke-linejoin="round" stroke-linecap="round" d="M6.24 -1.03L15.74 -16.11M82.23 -28.12L91.72 -11.81L101.22 -3.45L110.72 -1.03L120.22 -0.29"/>
<path d="M4.59 -2.68L7.89 -2.68L6.24 0.97Z" fill="#bfb276"/>
<path d="M14.09 -17.76L17.39 -17.76L15.74 -14.11Z" fill="#bfb276"/>
<path d="M23.59 -50.98L26.89 -50.98L25.24 -47.33Z" fill="#bfb276"/>
<path d="M33.09 -74.37L36.39 -74.37L34.74 -70.72Z" fill="#bfb276"/>
<path d="M42.58 -73.94L45.88 -73.94L44.23 -70.29Z" fill="#bfb276"/>
<path d="M52.08 -65.81L55.38 -65.81L53.73 -62.16Z" fill="#bfb276"/>
<path d="M61.58 -62.76L64.88 -62.76L63.23 -59.11Z" fill="#bfb276"/>
<path d="M71.08 -51.55L74.38 -51.55L72.73 -47.9Z" fill="#bfb276"/>
<path d="M80.58 -29.77L83.88 -29.77L82.23 -26.12Z" fill="#bfb276"/>
<path d="M90.07 -13.46L93.37 -13.46L91.72 -9.81Z" fill="#bfb276"/>
<path d="M99.57 -5.1L102.87 -5.1L101.22 -1.45Z" fill="#bfb276"/>
<path d="M109.07 -2.68L112.37 -2.68L110.72 0.97Z" fill="#bfb276"/>
<path d="M118.57 -1.94L121.87 -1.94L120.22 1.71Z" fill="#bfb276"/>
<path d="M128.07 -1.65L131.37 -1.65L129.72 2Z" fill="#bfb276"/>
<path d="M137.56 -1.65L140.86 -1.65L139.21 2Z" fill="#bfb276"/>
<path d="M147.06 -1.65L150.36 -1.65L148.71 2Z" fill="#bfb276"/>
<path d="M156.56 -1.65L159.86 -1.65L158.21 2Z" fill="#bfb276"/>
<path d="M166.06 -1.65L169.36 -1.65L167.71 2Z" fill="#bfb276"/>
<text class="b" transform="translate(87.18 -96.65) scale(0.952 1)" font-size="8.61" text-anchor="middle" fill="#111">High-income Asia Pacific</text>
<text x="179.58" y="2.4" font-size="7.15" fill="#1f1f1f" stroke="#1f1f1f" stroke-width="0.12">age (year)</text>
</g>
<g transform="translate(71.3 1448.9) scale(1.17 1)">
<path d="M0 -86.07V0.53M-0.53 0H174.41" stroke="#0d0d0d" stroke-width="1.05" fill="none"/>
<text class="b" transform="translate(-3.2 2.35) scale(0.93 1)" font-size="6.65" text-anchor="end" fill="#0d0d0d">0</text>
<text class="b" transform="translate(-3.2 -26.17) scale(0.93 1)" font-size="6.65" text-anchor="end" fill="#0d0d0d">5000</text>
<text class="b" transform="translate(-3.2 -54.68) scale(0.93 1)" font-size="6.65" text-anchor="end" fill="#0d0d0d">10000</text>
<text class="b" transform="translate(-3.2 -83.2) scale(0.93 1)" font-size="6.65" text-anchor="end" fill="#0d0d0d">15000</text>
<text class="b" transform="translate(8.24 8.55) rotate(-45)" font-size="6.4" text-anchor="end" fill="#0d0d0d">10 to 14</text>
<text class="b" transform="translate(17.74 8.55) rotate(-45)" font-size="6.4" text-anchor="end" fill="#0d0d0d">15 to 19</text>
<text class="b" transform="translate(27.24 8.55) rotate(-45)" font-size="6.4" text-anchor="end" fill="#0d0d0d">20 to 24</text>
<text class="b" transform="translate(36.74 8.55) rotate(-45)" font-size="6.4" text-anchor="end" fill="#0d0d0d">25 to 29</text>
<text class="b" transform="translate(46.24 8.55) rotate(-45)" font-size="6.4" text-anchor="end" fill="#0d0d0d">30 to 34</text>
<text class="b" transform="translate(55.75 8.55) rotate(-45)" font-size="6.4" text-anchor="end" fill="#0d0d0d">35 to 39</text>
<text class="b" transform="translate(65.25 8.55) rotate(-45)" font-size="6.4" text-anchor="end" fill="#0d0d0d">40 to 44</text>
<text class="b" transform="translate(74.75 8.55) rotate(-45)" font-size="6.4" text-anchor="end" fill="#0d0d0d">45 to 49</text>
<text class="b" transform="translate(84.25 8.55) rotate(-45)" font-size="6.4" text-anchor="end" fill="#0d0d0d">50 to 54</text>
<text class="b" transform="translate(93.75 8.55) rotate(-45)" font-size="6.4" text-anchor="end" fill="#0d0d0d">55 to 59</text>
<text class="b" transform="translate(103.25 8.55) rotate(-45)" font-size="6.4" text-anchor="end" fill="#0d0d0d">60 to 64</text>
<text class="b" transform="translate(112.75 8.55) rotate(-45)" font-size="6.4" text-anchor="end" fill="#0d0d0d">65 to 69</text>
<text class="b" transform="translate(122.25 8.55) rotate(-45)" font-size="6.4" text-anchor="end" fill="#0d0d0d">70 to 74</text>
<text class="b" transform="translate(131.75 8.55) rotate(-45)" font-size="6.4" text-anchor="end" fill="#0d0d0d">75 to 79</text>
<text class="b" transform="translate(141.25 8.55) rotate(-45)" font-size="6.4" text-anchor="end" fill="#0d0d0d">80 to 84</text>
<text class="b" transform="translate(150.75 8.55) rotate(-45)" font-size="6.4" text-anchor="end" fill="#0d0d0d">85 to 89</text>
<text class="b" transform="translate(160.25 8.55) rotate(-45)" font-size="6.4" text-anchor="end" fill="#0d0d0d">90 to 94</text>
<text class="b" transform="translate(169.75 8.55) rotate(-45)" font-size="6.4" text-anchor="end" fill="#0d0d0d">95 plus</text>
<path d="M-2.4 0H0M-2.4 -28.52H0M-2.4 -57.03H0M-2.4 -85.55H0M6.24 0V3.1M15.74 0V3.1M25.24 0V3.1M34.74 0V3.1M44.24 0V3.1M53.75 0V3.1M63.25 0V3.1M72.75 0V3.1M82.25 0V3.1M91.75 0V3.1M101.25 0V3.1M110.75 0V3.1M120.25 0V3.1M129.75 0V3.1M139.25 0V3.1M148.75 0V3.1M158.25 0V3.1M167.75 0V3.1" stroke="#0d0d0d" stroke-width="1.05" fill="none"/>
<ellipse cx="6.24" cy="-0" rx="1.45" ry="1.55" fill="#8f601f"/>
<ellipse cx="15.74" cy="-13.29" rx="1.45" ry="1.55" fill="#8f601f"/>
<ellipse cx="25.24" cy="-44.09" rx="1.45" ry="1.55" fill="#8f601f"/>
<ellipse cx="34.74" cy="-65.7" rx="1.45" ry="1.55" fill="#8f601f"/>
<ellipse cx="44.24" cy="-64.11" rx="1.45" ry="1.55" fill="#8f601f"/>
<ellipse cx="53.75" cy="-56.58" rx="1.45" ry="1.55" fill="#8f601f"/>
<ellipse cx="63.25" cy="-51.44" rx="1.45" ry="1.55" fill="#8f601f"/>
<ellipse cx="72.75" cy="-39.41" rx="1.45" ry="1.55" fill="#8f601f"/>
<ellipse cx="82.25" cy="-20.02" rx="1.45" ry="1.55" fill="#8f601f"/>
<ellipse cx="91.75" cy="-6.73" rx="1.45" ry="1.55" fill="#8f601f"/>
<ellipse cx="101.25" cy="-1.71" rx="1.45" ry="1.55" fill="#8f601f"/>
<ellipse cx="110.75" cy="-0.4" rx="1.45" ry="1.55" fill="#8f601f"/>
<ellipse cx="120.25" cy="-0" rx="1.45" ry="1.55" fill="#8f601f"/>
<ellipse cx="129.75" cy="-0" rx="1.45" ry="1.55" fill="#8f601f"/>
<ellipse cx="139.25" cy="-0" rx="1.45" ry="1.55" fill="#8f601f"/>
<ellipse cx="148.75" cy="-0" rx="1.45" ry="1.55" fill="#8f601f"/>
<ellipse cx="158.25" cy="-0" rx="1.45" ry="1.55" fill="#8f601f"/>
<ellipse cx="167.75" cy="-0" rx="1.45" ry="1.55" fill="#8f601f"/>
<rect x="4.59" y="-1.75" width="3.3" height="3.5" fill="#c9944c"/>
<rect x="14.09" y="-15.04" width="3.3" height="3.5" fill="#c9944c"/>
<rect x="23.59" y="-45.84" width="3.3" height="3.5" fill="#c9944c"/>
<rect x="33.09" y="-67.08" width="3.3" height="3.5" fill="#c9944c"/>
<rect x="42.59" y="-65.86" width="3.3" height="3.5" fill="#c9944c"/>
<rect x="52.1" y="-58.33" width="3.3" height="3.5" fill="#c9944c"/>
<rect x="61.6" y="-53.19" width="3.3" height="3.5" fill="#c9944c"/>
<rect x="71.1" y="-41.16" width="3.3" height="3.5" fill="#c9944c"/>
<rect x="80.6" y="-21.77" width="3.3" height="3.5" fill="#c9944c"/>
<rect x="90.1" y="-8.48" width="3.3" height="3.5" fill="#c9944c"/>
<rect x="99.6" y="-3.46" width="3.3" height="3.5" fill="#c9944c"/>
<rect x="109.1" y="-2.15" width="3.3" height="3.5" fill="#c9944c"/>
<rect x="118.6" y="-1.75" width="3.3" height="3.5" fill="#c9944c"/>
<rect x="128.1" y="-1.75" width="3.3" height="3.5" fill="#c9944c"/>
<rect x="137.6" y="-1.75" width="3.3" height="3.5" fill="#c9944c"/>
<rect x="147.1" y="-1.75" width="3.3" height="3.5" fill="#c9944c"/>
<rect x="156.6" y="-1.75" width="3.3" height="3.5" fill="#c9944c"/>
<rect x="166.1" y="-1.75" width="3.3" height="3.5" fill="#c9944c"/>
<path d="M4.59 1.65L7.89 1.65L6.24 -2Z" fill="#e09b3f"/>
<path d="M14.09 -11.64L17.39 -11.64L15.74 -15.29Z" fill="#e09b3f"/>
<path d="M23.59 -42.44L26.89 -42.44L25.24 -46.09Z" fill="#e09b3f"/>
<path d="M33.09 -63.68L36.39 -63.68L34.74 -67.33Z" fill="#e09b3f"/>
<path d="M42.59 -62.46L45.89 -62.46L44.24 -66.11Z" fill="#e09b3f"/>
<path d="M52.1 -54.93L55.4 -54.93L53.75 -58.58Z" fill="#e09b3f"/>
<path d="M61.6 -49.79L64.9 -49.79L63.25 -53.44Z" fill="#e09b3f"/>
<path d="M71.1 -37.76L74.4 -37.76L72.75 -41.41Z" fill="#e09b3f"/>
<path d="M80.6 -18.37L83.9 -18.37L82.25 -22.02Z" fill="#e09b3f"/>
<path d="M90.1 -5.08L93.4 -5.08L91.75 -8.73Z" fill="#e09b3f"/>
<path d="M99.6 -0.06L102.9 -0.06L101.25 -3.71Z" fill="#e09b3f"/>
<path d="M109.1 1.25L112.4 1.25L110.75 -2.4Z" fill="#e09b3f"/>
<path d="M118.6 1.65L121.9 1.65L120.25 -2Z" fill="#e09b3f"/>
<path d="M128.1 1.65L131.4 1.65L129.75 -2Z" fill="#e09b3f"/>
<path d="M137.6 1.65L140.9 1.65L139.25 -2Z" fill="#e09b3f"/>
<path d="M147.1 1.65L150.4 1.65L148.75 -2Z" fill="#e09b3f"/>
<path d="M156.6 1.65L159.9 1.65L158.25 -2Z" fill="#e09b3f"/>
<path d="M166.1 1.65L169.4 1.65L167.75 -2Z" fill="#e09b3f"/>
<path fill="none" stroke="#bfb276" stroke-width="0.75" stroke-linejoin="round" stroke-linecap="round" d="M110.75 -0.9L120.25 -0.5L129.75 -0.5L139.25 -0.5L148.75 -0.5L158.25 -0.5L167.75 -0.5"/>
<path fill="none" stroke="#bfb276" stroke-width="1.25" stroke-linejoin="round" stroke-linecap="round" d="M6.24 -0L15.74 -13.29L25.24 -44.09L34.74 -65.02L44.24 -64.11L53.75 -56.58L63.25 -51.44L72.75 -39.41L82.25 -20.02L91.75 -6.73L101.25 -1.71L110.75 -0.4"/>
<path d="M4.59 -1.65L7.89 -1.65L6.24 2Z" fill="#bfb276"/>
<path d="M14.09 -14.94L17.39 -14.94L15.74 -11.29Z" fill="#bfb276"/>
<path d="M23.59 -45.74L26.89 -45.74L25.24 -42.09Z" fill="#bfb276"/>
<path d="M33.09 -66.67L36.39 -66.67L34.74 -63.02Z" fill="#bfb276"/>
<path d="M42.59 -65.76L45.89 -65.76L44.24 -62.11Z" fill="#bfb276"/>
<path d="M52.1 -58.23L55.4 -58.23L53.75 -54.58Z" fill="#bfb276"/>
<path d="M61.6 -53.09L64.9 -53.09L63.25 -49.44Z" fill="#bfb276"/>
<path d="M71.1 -41.06L74.4 -41.06L72.75 -37.41Z" fill="#bfb276"/>
<path d="M80.6 -21.67L83.9 -21.67L82.25 -18.02Z" fill="#bfb276"/>
<path d="M90.1 -8.38L93.4 -8.38L91.75 -4.73Z" fill="#bfb276"/>
<path d="M99.6 -3.36L102.9 -3.36L101.25 0.29Z" fill="#bfb276"/>
<path d="M109.1 -2.05L112.4 -2.05L110.75 1.6Z" fill="#bfb276"/>
<path d="M118.6 -1.65L121.9 -1.65L120.25 2Z" fill="#bfb276"/>
<path d="M128.1 -1.65L131.4 -1.65L129.75 2Z" fill="#bfb276"/>
<path d="M137.6 -1.65L140.9 -1.65L139.25 2Z" fill="#bfb276"/>
<path d="M147.1 -1.65L150.4 -1.65L148.75 2Z" fill="#bfb276"/>
<path d="M156.6 -1.65L159.9 -1.65L158.25 2Z" fill="#bfb276"/>
<path d="M166.1 -1.65L169.4 -1.65L167.75 2Z" fill="#bfb276"/>
<text class="b" transform="translate(87.21 -96.65) scale(0.952 1)" font-size="8.61" text-anchor="middle" fill="#111">Caribbean</text>
<text x="179.62" y="2.4" font-size="7.15" fill="#1f1f1f" stroke="#1f1f1f" stroke-width="0.12">age (year)</text>
</g>
<g transform="translate(331.4 1448.9) scale(1.17 1)">
<path d="M0 -86.07V0.53M-0.53 0H174.32" stroke="#0d0d0d" stroke-width="1.05" fill="none"/>
<text class="b" transform="translate(-3.2 2.35) scale(0.93 1)" font-size="6.65" text-anchor="end" fill="#0d0d0d">0</text>
<text class="b" transform="translate(-3.2 -26.17) scale(0.93 1)" font-size="6.65" text-anchor="end" fill="#0d0d0d">5000</text>
<text class="b" transform="translate(-3.2 -54.68) scale(0.93 1)" font-size="6.65" text-anchor="end" fill="#0d0d0d">10000</text>
<text class="b" transform="translate(-3.2 -83.2) scale(0.93 1)" font-size="6.65" text-anchor="end" fill="#0d0d0d">15000</text>
<text class="b" transform="translate(8.24 8.55) rotate(-45)" font-size="6.4" text-anchor="end" fill="#0d0d0d">10 to 14</text>
<text class="b" transform="translate(17.74 8.55) rotate(-45)" font-size="6.4" text-anchor="end" fill="#0d0d0d">15 to 19</text>
<text class="b" transform="translate(27.23 8.55) rotate(-45)" font-size="6.4" text-anchor="end" fill="#0d0d0d">20 to 24</text>
<text class="b" transform="translate(36.73 8.55) rotate(-45)" font-size="6.4" text-anchor="end" fill="#0d0d0d">25 to 29</text>
<text class="b" transform="translate(46.22 8.55) rotate(-45)" font-size="6.4" text-anchor="end" fill="#0d0d0d">30 to 34</text>
<text class="b" transform="translate(55.72 8.55) rotate(-45)" font-size="6.4" text-anchor="end" fill="#0d0d0d">35 to 39</text>
<text class="b" transform="translate(65.21 8.55) rotate(-45)" font-size="6.4" text-anchor="end" fill="#0d0d0d">40 to 44</text>
<text class="b" transform="translate(74.71 8.55) rotate(-45)" font-size="6.4" text-anchor="end" fill="#0d0d0d">45 to 49</text>
<text class="b" transform="translate(84.21 8.55) rotate(-45)" font-size="6.4" text-anchor="end" fill="#0d0d0d">50 to 54</text>
<text class="b" transform="translate(93.7 8.55) rotate(-45)" font-size="6.4" text-anchor="end" fill="#0d0d0d">55 to 59</text>
<text class="b" transform="translate(103.2 8.55) rotate(-45)" font-size="6.4" text-anchor="end" fill="#0d0d0d">60 to 64</text>
<text class="b" transform="translate(112.69 8.55) rotate(-45)" font-size="6.4" text-anchor="end" fill="#0d0d0d">65 to 69</text>
<text class="b" transform="translate(122.19 8.55) rotate(-45)" font-size="6.4" text-anchor="end" fill="#0d0d0d">70 to 74</text>
<text class="b" transform="translate(131.68 8.55) rotate(-45)" font-size="6.4" text-anchor="end" fill="#0d0d0d">75 to 79</text>
<text class="b" transform="translate(141.18 8.55) rotate(-45)" font-size="6.4" text-anchor="end" fill="#0d0d0d">80 to 84</text>
<text class="b" transform="translate(150.67 8.55) rotate(-45)" font-size="6.4" text-anchor="end" fill="#0d0d0d">85 to 89</text>
<text class="b" transform="translate(160.17 8.55) rotate(-45)" font-size="6.4" text-anchor="end" fill="#0d0d0d">90 to 94</text>
<text class="b" transform="translate(169.67 8.55) rotate(-45)" font-size="6.4" text-anchor="end" fill="#0d0d0d">95 plus</text>
<path d="M-2.4 0H0M-2.4 -28.52H0M-2.4 -57.03H0M-2.4 -85.55H0M6.24 0V3.1M15.74 0V3.1M25.23 0V3.1M34.73 0V3.1M44.22 0V3.1M53.72 0V3.1M63.21 0V3.1M72.71 0V3.1M82.21 0V3.1M91.7 0V3.1M101.2 0V3.1M110.69 0V3.1M120.19 0V3.1M129.68 0V3.1M139.18 0V3.1M148.67 0V3.1M158.17 0V3.1M167.67 0V3.1" stroke="#0d0d0d" stroke-width="1.05" fill="none"/>
<path fill="none" stroke="#8f601f" stroke-width="0.98" stroke-linejoin="round" stroke-linecap="round" d="M6.24 -0L15.74 -21.44L25.23 -58.8L34.73 -64.33L44.22 -51.84L53.72 -44.91L63.21 -42.46L72.71 -33.68L82.21 -18.25"/>
<ellipse cx="6.24" cy="-0" rx="1.45" ry="1.55" fill="#8f601f"/>
<ellipse cx="15.74" cy="-21.44" rx="1.45" ry="1.55" fill="#8f601f"/>
<ellipse cx="25.23" cy="-58.8" rx="1.45" ry="1.55" fill="#8f601f"/>
<ellipse cx="34.73" cy="-64.33" rx="1.45" ry="1.55" fill="#8f601f"/>
<ellipse cx="44.22" cy="-51.84" rx="1.45" ry="1.55" fill="#8f601f"/>
<ellipse cx="53.72" cy="-44.91" rx="1.45" ry="1.55" fill="#8f601f"/>
<ellipse cx="63.21" cy="-42.46" rx="1.45" ry="1.55" fill="#8f601f"/>
<ellipse cx="72.71" cy="-33.68" rx="1.45" ry="1.55" fill="#8f601f"/>
<ellipse cx="82.21" cy="-18.25" rx="1.45" ry="1.55" fill="#8f601f"/>
<ellipse cx="91.7" cy="-6.73" rx="1.45" ry="1.55" fill="#8f601f"/>
<ellipse cx="101.2" cy="-1.63" rx="1.45" ry="1.55" fill="#8f601f"/>
<ellipse cx="110.69" cy="-0.4" rx="1.45" ry="1.55" fill="#8f601f"/>
<ellipse cx="120.19" cy="-0" rx="1.45" ry="1.55" fill="#8f601f"/>
<ellipse cx="129.68" cy="-0" rx="1.45" ry="1.55" fill="#8f601f"/>
<ellipse cx="139.18" cy="-0" rx="1.45" ry="1.55" fill="#8f601f"/>
<ellipse cx="148.67" cy="-0" rx="1.45" ry="1.55" fill="#8f601f"/>
<ellipse cx="158.17" cy="-0" rx="1.45" ry="1.55" fill="#8f601f"/>
<ellipse cx="167.67" cy="-0" rx="1.45" ry="1.55" fill="#8f601f"/>
<path fill="none" stroke="#c9944c" stroke-width="0.98" stroke-linejoin="round" stroke-linecap="round" d="M25.23 -50.02L34.73 -57.18L44.22 -48.99L53.72 -42.89L63.21 -40.84L72.71 -32.25"/>
<rect x="4.59" y="-1.75" width="3.3" height="3.5" fill="#c9944c"/>
<rect x="14.09" y="-20.11" width="3.3" height="3.5" fill="#c9944c"/>
<rect x="23.58" y="-51.77" width="3.3" height="3.5" fill="#c9944c"/>
<rect x="33.08" y="-58.93" width="3.3" height="3.5" fill="#c9944c"/>
<rect x="42.57" y="-50.74" width="3.3" height="3.5" fill="#c9944c"/>
<rect x="52.07" y="-44.64" width="3.3" height="3.5" fill="#c9944c"/>
<rect x="61.56" y="-42.59" width="3.3" height="3.5" fill="#c9944c"/>
<rect x="71.06" y="-34" width="3.3" height="3.5" fill="#c9944c"/>
<rect x="80.56" y="-19.72" width="3.3" height="3.5" fill="#c9944c"/>
<rect x="90.05" y="-8.48" width="3.3" height="3.5" fill="#c9944c"/>
<rect x="99.55" y="-3.38" width="3.3" height="3.5" fill="#c9944c"/>
<rect x="109.04" y="-2.15" width="3.3" height="3.5" fill="#c9944c"/>
<rect x="118.54" y="-1.75" width="3.3" height="3.5" fill="#c9944c"/>
<rect x="128.03" y="-1.75" width="3.3" height="3.5" fill="#c9944c"/>
<rect x="137.53" y="-1.75" width="3.3" height="3.5" fill="#c9944c"/>
<rect x="147.02" y="-1.75" width="3.3" height="3.5" fill="#c9944c"/>
<rect x="156.52" y="-1.75" width="3.3" height="3.5" fill="#c9944c"/>
<rect x="166.02" y="-1.75" width="3.3" height="3.5" fill="#c9944c"/>
<path fill="none" stroke="#e09b3f" stroke-width="0.98" stroke-linejoin="round" stroke-linecap="round" d="M6.24 -0L15.74 -17.97L25.23 -50.42L34.73 -52.67L44.22 -42.89L53.72 -38.18L63.21 -37.36L72.71 -31.03L82.21 -17.68"/>
<path d="M4.59 1.65L7.89 1.65L6.24 -2Z" fill="#e09b3f"/>
<path d="M14.09 -16.32L17.39 -16.32L15.74 -19.97Z" fill="#e09b3f"/>
<path d="M23.58 -48.77L26.88 -48.77L25.23 -52.42Z" fill="#e09b3f"/>
<path d="M33.08 -51.02L36.38 -51.02L34.73 -54.67Z" fill="#e09b3f"/>
<path d="M42.57 -41.24L45.87 -41.24L44.22 -44.89Z" fill="#e09b3f"/>
<path d="M52.07 -36.53L55.37 -36.53L53.72 -40.18Z" fill="#e09b3f"/>
<path d="M61.56 -35.71L64.86 -35.71L63.21 -39.36Z" fill="#e09b3f"/>
<path d="M71.06 -29.38L74.36 -29.38L72.71 -33.03Z" fill="#e09b3f"/>
<path d="M80.56 -16.03L83.86 -16.03L82.21 -19.68Z" fill="#e09b3f"/>
<path d="M90.05 -5.08L93.35 -5.08L91.7 -8.73Z" fill="#e09b3f"/>
<path d="M99.55 0.02L102.85 0.02L101.2 -3.63Z" fill="#e09b3f"/>
<path d="M109.04 1.25L112.34 1.25L110.69 -2.4Z" fill="#e09b3f"/>
<path d="M118.54 1.65L121.84 1.65L120.19 -2Z" fill="#e09b3f"/>
<path d="M128.03 1.65L131.33 1.65L129.68 -2Z" fill="#e09b3f"/>
<path d="M137.53 1.65L140.83 1.65L139.18 -2Z" fill="#e09b3f"/>
<path d="M147.02 1.65L150.32 1.65L148.67 -2Z" fill="#e09b3f"/>
<path d="M156.52 1.65L159.82 1.65L158.17 -2Z" fill="#e09b3f"/>
<path d="M166.02 1.65L169.32 1.65L167.67 -2Z" fill="#e09b3f"/>
<path fill="none" stroke="#bfb276" stroke-width="0.75" stroke-linejoin="round" stroke-linecap="round" d="M110.69 -0.9L120.19 -0.5L129.68 -0.5L139.18 -0.5L148.67 -0.5L158.17 -0.5L167.67 -0.5"/>
<path fill="none" stroke="#bfb276" stroke-width="0.98" stroke-linejoin="round" stroke-linecap="round" d="M6.24 -0L15.74 -16.74L25.23 -46.54L34.73 -55.12L44.22 -48.59L53.72 -41.86L63.21 -39.81L72.71 -32.25L82.21 -17.97"/>
<path fill="none" stroke="#bfb276" stroke-width="1.25" stroke-linejoin="round" stroke-linecap="round" d="M82.21 -17.97L91.7 -6.73L101.2 -1.63L110.69 -0.4"/>
<path d="M4.59 -1.65L7.89 -1.65L6.24 2Z" fill="#bfb276"/>
<path d="M14.09 -18.39L17.39 -18.39L15.74 -14.74Z" fill="#bfb276"/>
<path d="M23.58 -48.19L26.88 -48.19L25.23 -44.54Z" fill="#bfb276"/>
<path d="M33.08 -56.77L36.38 -56.77L34.73 -53.12Z" fill="#bfb276"/>
<path d="M42.57 -50.24L45.87 -50.24L44.22 -46.59Z" fill="#bfb276"/>
<path d="M52.07 -43.51L55.37 -43.51L53.72 -39.86Z" fill="#bfb276"/>
<path d="M61.56 -41.46L64.86 -41.46L63.21 -37.81Z" fill="#bfb276"/>
<path d="M71.06 -33.9L74.36 -33.9L72.71 -30.25Z" fill="#bfb276"/>
<path d="M80.56 -19.62L83.86 -19.62L82.21 -15.97Z" fill="#bfb276"/>
<path d="M90.05 -8.38L93.35 -8.38L91.7 -4.73Z" fill="#bfb276"/>
<path d="M99.55 -3.28L102.85 -3.28L101.2 0.37Z" fill="#bfb276"/>
<path d="M109.04 -2.05L112.34 -2.05L110.69 1.6Z" fill="#bfb276"/>
<path d="M118.54 -1.65L121.84 -1.65L120.19 2Z" fill="#bfb276"/>
<path d="M128.03 -1.65L131.33 -1.65L129.68 2Z" fill="#bfb276"/>
<path d="M137.53 -1.65L140.83 -1.65L139.18 2Z" fill="#bfb276"/>
<path d="M147.02 -1.65L150.32 -1.65L148.67 2Z" fill="#bfb276"/>
<path d="M156.52 -1.65L159.82 -1.65L158.17 2Z" fill="#bfb276"/>
<path d="M166.02 -1.65L169.32 -1.65L167.67 2Z" fill="#bfb276"/>
<text class="b" transform="translate(87.16 -96.65) scale(0.952 1)" font-size="8.61" text-anchor="middle" fill="#111">Oceania</text>
<text x="179.54" y="2.4" font-size="7.15" fill="#1f1f1f" stroke="#1f1f1f" stroke-width="0.12">age (year)</text>
</g>
<text style="font-weight:bold" stroke="#000" stroke-width="0.4" transform="translate(17.2 931) rotate(-90) scale(0.893 1)" font-size="23.5" fill="#000">Incidence rate (per 100 000 population)</text>
<line x1="592" x2="621" y1="691.2" y2="691.2" stroke="#8f601f" stroke-width="1.9"/>
<ellipse cx="606.8" cy="691.2" rx="5.3" ry="5" fill="#8f601f"/>
<text transform="translate(638.4 697.1) scale(1.145 1)" font-size="18.5" fill="#a30b0b" stroke="#a30b0b" stroke-width="0.2">1990</text>
<line x1="592" x2="621" y1="722.8" y2="722.8" stroke="#c9944c" stroke-width="1.9"/>
<rect x="601.5" y="717.8" width="10.6" height="10" fill="#c9944c"/>
<text transform="translate(638.4 728.6999999999999) scale(1.145 1)" font-size="18.5" fill="#a30b0b" stroke="#a30b0b" stroke-width="0.2">2000</text>
<line x1="592" x2="621" y1="754.9" y2="754.9" stroke="#e09b3f" stroke-width="1.9"/>
<path d="M601.1999999999999 760.1L612.4 760.1L606.8 750.6999999999999Z" fill="#e09b3f"/>
<text transform="translate(638.4 760.8) scale(1.145 1)" font-size="18.5" fill="#a30b0b" stroke="#a30b0b" stroke-width="0.2">2010</text>
<line x1="592" x2="621" y1="786.5" y2="786.5" stroke="#bfb276" stroke-width="1.9"/>
<path d="M601.1999999999999 782.7L612.4 782.7L606.8 791.7Z" fill="#bfb276"/>
<text transform="translate(638.4 792.4) scale(1.145 1)" font-size="18.5" fill="#a30b0b" stroke="#a30b0b" stroke-width="0.2">2019</text>
</svg></body></html>
